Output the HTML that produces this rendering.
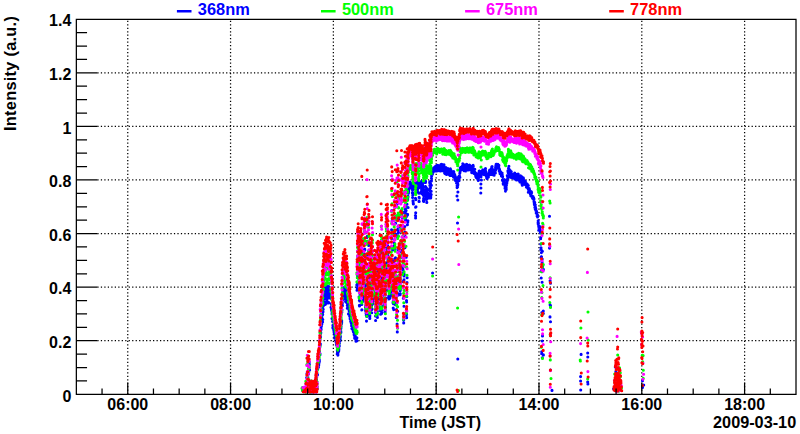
<!DOCTYPE html>
<html><head><meta charset="utf-8"><title>Intensity vs Time (JST) 2009-03-10</title>
<style>html,body{margin:0;padding:0;background:#fff;width:800px;height:434px;overflow:hidden}</style>
</head><body>
<svg width="800" height="434" viewBox="0 0 800 434" style="display:block;position:absolute;left:0;top:0">
<rect width="800" height="434" fill="#fff"/>
<path d="M127.75 394.30V19.25M230.56 394.30V19.25M333.37 394.30V19.25M436.17 394.30V19.25M538.98 394.30V19.25M641.79 394.30V19.25M744.60 394.30V19.25M97.35 340.72H796.00M97.35 287.14H796.00M97.35 233.56H796.00M97.35 179.99H796.00M97.35 126.41H796.00M97.35 72.83H796.00" stroke="#000" stroke-width="1.25" stroke-dasharray="1.25 2.23" fill="none"/>
<path d="M302.4 387.9h0M302.8 390.6h0M303.4 391.1h0M303.6 387.6h0M304.1 391.1h0M303.8 391.8h0M304.6 389.0h0M306.1 383.5h0M306.0 386.8h0M306.5 386.1h0M306.4 383.3h0M306.7 388.5h0M306.9 390.0h0M307.0 382.7h0M306.7 377.6h0M307.3 387.9h0M307.0 373.5h0M307.3 389.4h0M307.3 385.6h0M307.4 385.1h0M308.0 384.4h0M307.9 377.2h0M308.3 390.2h0M308.4 381.5h0M308.2 391.0h0M308.5 373.9h0M308.3 374.2h0M308.5 391.1h0M309.1 389.2h0M309.2 362.0h0M308.9 387.4h0M309.4 364.3h0M309.6 369.9h0M309.8 381.2h0M309.8 385.9h0M310.0 390.4h0M309.9 389.4h0M310.1 383.7h0M310.2 387.2h0M310.3 386.7h0M310.5 381.3h0M310.7 390.9h0M311.1 390.4h0M311.2 390.4h0M311.0 381.4h0M311.3 388.7h0M311.6 381.7h0M311.6 392.0h0M311.6 381.9h0M312.0 384.0h0M312.3 382.3h0M312.2 391.9h0M312.6 386.9h0M312.5 391.1h0M312.5 384.9h0M313.0 389.1h0M312.8 385.8h0M313.1 384.0h0M313.5 391.3h0M313.2 388.3h0M313.8 389.4h0M313.5 382.8h0M313.6 382.6h0M314.1 391.0h0M314.3 384.1h0M314.1 383.8h0M314.6 389.0h0M314.8 390.7h0M314.7 389.2h0M314.9 391.4h0M314.9 381.8h0M315.3 386.2h0M315.1 389.0h0M315.2 391.5h0M315.5 389.4h0M315.5 389.6h0M315.6 391.7h0M316.2 385.4h0M316.2 391.6h0M316.1 381.0h0M316.5 390.3h0M316.7 385.1h0M316.9 381.7h0M316.6 388.0h0M317.2 388.2h0M317.0 383.8h0M315.3 386.7h0M315.5 384.0h0M315.6 383.6h0M315.4 384.7h0M315.4 385.2h0M315.4 385.6h0M316.0 379.9h0M315.9 383.1h0M315.9 381.1h0M316.3 379.3h0M316.6 374.3h0M316.4 379.7h0M316.7 377.0h0M316.7 376.4h0M316.7 373.1h0M317.8 367.1h0M317.0 373.7h0M318.7 364.0h0M316.9 373.3h0M318.1 367.2h0M317.9 368.2h0M316.0 380.3h0M316.4 379.3h0M316.6 377.1h0M317.7 368.9h0M319.2 359.7h0M319.0 363.3h0M317.5 374.8h0M318.3 366.5h0M318.9 362.2h0M318.3 365.7h0M319.8 346.7h0M318.7 365.3h0M319.4 360.9h0M318.5 367.0h0M320.2 344.3h0M319.3 359.7h0M318.4 365.3h0M319.3 359.8h0M320.3 344.7h0M320.5 337.0h0M318.8 364.0h0M318.6 363.8h0M321.8 324.2h0M320.0 353.7h0M320.3 343.8h0M319.3 361.8h0M319.6 352.0h0M320.0 354.8h0M321.1 327.8h0M321.5 321.3h0M320.6 333.7h0M321.5 325.7h0M322.5 313.7h0M321.9 316.9h0M322.5 308.6h0M322.7 305.4h0M320.8 332.4h0M320.7 333.4h0M320.2 332.3h0M321.1 329.6h0M323.0 311.7h0M323.2 309.2h0M323.9 298.0h0M322.7 314.6h0M322.5 310.9h0M321.4 320.4h0M324.0 296.2h0M322.7 309.1h0M323.3 305.9h0M323.6 301.8h0M323.1 301.8h0M322.6 321.9h0M324.5 291.1h0M322.8 319.5h0M322.3 319.0h0M322.8 308.8h0M324.0 301.6h0M324.3 293.1h0M323.8 303.2h0M324.9 303.4h0M324.8 292.3h0M324.2 298.4h0M325.4 294.8h0M324.7 302.5h0M325.6 287.9h0M325.2 304.5h0M325.1 297.1h0M325.1 298.4h0M325.8 293.1h0M325.4 293.6h0M325.9 293.9h0M326.1 303.4h0M326.2 290.3h0M326.7 301.4h0M326.4 295.2h0M326.8 301.1h0M327.1 285.9h0M326.1 294.3h0M326.7 289.1h0M326.9 286.8h0M326.9 301.7h0M326.7 298.6h0M326.9 300.2h0M326.7 285.9h0M327.8 290.9h0M327.2 289.5h0M327.4 293.6h0M327.2 295.0h0M327.5 302.0h0M327.6 286.3h0M328.2 287.9h0M327.8 297.0h0M328.8 286.5h0M328.8 288.5h0M328.4 288.9h0M328.5 293.2h0M328.4 289.2h0M328.4 295.8h0M328.8 302.6h0M329.2 298.0h0M329.7 293.7h0M328.6 303.0h0M329.4 290.7h0M330.2 289.7h0M330.0 292.8h0M329.6 293.8h0M329.5 293.4h0M330.6 288.6h0M329.4 289.5h0M330.2 295.1h0M329.7 295.6h0M330.0 292.0h0M331.0 307.3h0M330.1 288.2h0M330.5 289.2h0M331.1 291.0h0M331.1 307.2h0M331.1 295.6h0M331.7 306.2h0M331.4 308.9h0M331.4 303.9h0M331.3 298.5h0M331.6 304.9h0M332.1 312.9h0M332.0 314.0h0M332.0 318.5h0M331.6 310.5h0M332.0 309.2h0M332.1 313.6h0M332.5 318.5h0M333.2 326.7h0M333.1 325.4h0M333.0 325.4h0M332.9 327.4h0M332.6 321.4h0M333.3 327.2h0M332.9 327.9h0M332.9 325.2h0M333.7 329.6h0M334.0 329.9h0M333.4 325.7h0M334.2 332.7h0M333.4 327.8h0M334.1 332.4h0M334.7 333.8h0M333.8 330.1h0M334.3 333.3h0M334.0 330.0h0M334.0 330.5h0M334.8 338.2h0M334.3 332.8h0M334.9 336.7h0M335.1 337.0h0M334.7 334.5h0M335.5 337.9h0M335.4 338.5h0M336.2 341.2h0M336.0 337.5h0M336.0 338.9h0M336.3 341.6h0M335.6 339.1h0M335.8 338.6h0M336.4 344.3h0M336.6 344.9h0M336.1 342.0h0M336.4 340.9h0M337.3 350.0h0M337.5 351.5h0M337.4 350.8h0M336.5 342.9h0M337.5 352.3h0M337.4 354.0h0M337.2 354.0h0M337.5 354.1h0M337.9 354.8h0M337.9 355.1h0M337.8 353.5h0M337.9 353.0h0M337.6 354.6h0M338.5 350.3h0M338.9 349.0h0M338.6 349.0h0M338.8 350.8h0M338.6 350.6h0M338.4 351.9h0M338.9 346.9h0M338.3 351.9h0M338.6 350.8h0M339.6 341.2h0M339.3 345.9h0M340.0 339.5h0M339.8 340.2h0M340.2 339.2h0M340.2 337.5h0M339.9 341.1h0M339.4 343.2h0M340.4 336.2h0M340.6 333.0h0M340.6 330.8h0M340.3 337.4h0M340.3 332.6h0M340.9 325.9h0M340.8 331.7h0M341.0 325.2h0M340.8 331.1h0M340.9 332.5h0M340.9 327.2h0M341.0 326.7h0M340.9 328.6h0M341.4 323.9h0M341.8 312.3h0M342.3 303.0h0M341.7 322.8h0M341.7 320.7h0M341.7 321.0h0M342.2 304.1h0M342.0 309.8h0M342.4 305.8h0M342.9 300.0h0M342.2 300.0h0M343.1 296.7h0M342.7 298.4h0M342.5 296.7h0M343.2 297.6h0M343.4 298.9h0M342.8 292.1h0M343.7 293.3h0M343.4 288.1h0M343.7 290.6h0M343.9 287.6h0M344.2 293.1h0M343.6 288.4h0M343.5 292.5h0M343.8 294.6h0M344.2 297.3h0M344.0 295.4h0M345.2 288.9h0M345.0 289.1h0M344.7 292.3h0M344.7 288.8h0M345.0 293.1h0M344.8 288.4h0M345.6 301.5h0M345.9 295.3h0M345.6 296.2h0M345.8 298.9h0M346.1 295.1h0M345.4 294.6h0M346.1 292.4h0M346.8 296.3h0M346.3 290.9h0M346.8 302.8h0M346.4 292.8h0M347.1 298.2h0M346.9 293.3h0M346.4 300.4h0M347.3 305.5h0M346.8 302.6h0M347.4 297.6h0M347.2 297.9h0M347.4 299.4h0M347.3 308.2h0M348.0 304.2h0M347.7 298.4h0M348.5 306.5h0M347.8 306.8h0M347.9 308.1h0M347.5 304.4h0M348.5 313.9h0M348.8 308.3h0M349.2 310.5h0M348.6 302.4h0M349.1 308.5h0M349.0 308.1h0M349.3 310.8h0M349.2 306.7h0M349.5 312.8h0M349.1 305.6h0M349.1 309.9h0M349.2 310.9h0M349.6 312.6h0M349.6 314.8h0M350.1 318.8h0M349.7 316.2h0M350.3 314.7h0M350.1 315.9h0M350.5 318.7h0M350.7 321.4h0M350.5 317.2h0M350.7 320.0h0M350.8 319.7h0M351.4 323.2h0M351.2 320.7h0M351.2 322.3h0M351.6 325.8h0M351.9 323.9h0M351.3 323.4h0M351.6 322.5h0M351.6 321.5h0M351.9 328.6h0M352.2 327.0h0M352.6 326.9h0M351.9 326.0h0M352.2 327.7h0M352.2 327.8h0M352.5 325.4h0M352.1 328.8h0M352.9 328.0h0M353.1 330.5h0M352.9 327.8h0M352.7 327.1h0M352.9 329.5h0M353.6 331.0h0M353.2 329.0h0M353.6 331.9h0M354.2 334.9h0M353.4 331.8h0M354.0 333.7h0M353.9 332.8h0M354.0 332.8h0M354.7 336.9h0M354.6 334.2h0M354.8 334.8h0M354.7 338.2h0M354.2 334.4h0M354.4 332.8h0M355.0 336.4h0M354.8 335.0h0M355.2 335.8h0M355.0 335.9h0M355.1 338.1h0M356.0 338.7h0M355.4 337.0h0M355.9 338.9h0M355.9 337.4h0M356.0 341.3h0M355.7 339.3h0M356.3 339.0h0M356.5 338.6h0M356.9 337.7h0M356.1 340.3h0M356.5 340.0h0M356.7 341.0h0M357.0 340.7h0M356.8 285.1h0M357.0 290.2h0M357.4 283.2h0M357.2 287.9h0M357.4 285.4h0M357.2 285.2h0M357.6 269.2h0M357.6 273.9h0M357.6 276.8h0M357.7 262.5h0M357.8 264.3h0M358.0 264.4h0M358.2 263.6h0M357.9 257.6h0M358.0 269.4h0M358.1 263.2h0M358.2 260.5h0M358.2 263.1h0M358.6 270.4h0M358.4 268.0h0M358.5 275.9h0M358.8 275.0h0M358.9 265.3h0M358.9 269.2h0M359.1 264.1h0M359.2 274.9h0M359.0 281.5h0M359.0 279.9h0M359.4 289.3h0M359.1 296.7h0M359.5 305.9h0M359.4 305.4h0M359.7 301.0h0M359.4 300.4h0M359.7 290.5h0M359.9 292.9h0M359.8 289.5h0M360.0 293.6h0M360.1 291.7h0M359.9 284.6h0M360.1 279.2h0M360.5 270.2h0M360.5 278.1h0M360.5 271.3h0M360.7 272.7h0M360.7 261.5h0M360.9 260.9h0M360.8 271.2h0M360.6 269.2h0M360.8 262.6h0M360.8 269.5h0M361.2 262.5h0M361.2 275.5h0M361.5 283.2h0M361.3 282.0h0M361.3 295.5h0M361.5 284.3h0M361.7 295.8h0M361.5 295.5h0M361.9 309.8h0M361.8 310.0h0M361.8 304.5h0M362.1 273.8h0M362.0 253.2h0M362.0 255.0h0M362.3 266.6h0M362.1 269.1h0M362.4 280.9h0M362.6 292.5h0M362.4 296.4h0M362.7 295.9h0M362.8 291.6h0M362.8 297.2h0M362.8 291.7h0M363.1 301.2h0M363.0 299.5h0M363.2 290.1h0M363.2 298.4h0M363.1 291.7h0M363.1 300.5h0M363.3 290.7h0M363.4 289.9h0M363.6 292.3h0M363.7 298.3h0M363.6 297.1h0M363.8 287.1h0M363.9 285.4h0M363.7 279.6h0M363.9 275.0h0M364.0 257.1h0M364.2 249.8h0M364.2 259.7h0M364.4 261.9h0M364.4 254.1h0M364.7 249.1h0M364.7 250.0h0M364.8 250.0h0M364.6 254.6h0M364.7 255.1h0M365.1 255.3h0M365.0 258.9h0M365.1 267.0h0M365.4 283.6h0M365.2 283.4h0M365.5 283.7h0M365.6 285.1h0M365.5 292.8h0M365.6 306.1h0M365.9 309.5h0M365.5 307.5h0M365.6 310.2h0M365.7 311.0h0M366.1 306.8h0M366.1 312.6h0M365.9 306.2h0M366.3 315.4h0M366.1 313.6h0M366.4 311.2h0M366.4 311.5h0M366.8 316.4h0M366.5 321.1h0M366.5 312.8h0M366.5 298.4h0M366.8 286.5h0M367.0 278.5h0M367.0 256.2h0M366.9 237.5h0M367.2 241.2h0M367.3 236.4h0M367.1 254.7h0M367.3 283.5h0M367.7 302.4h0M367.8 310.9h0M367.5 314.2h0M367.6 306.6h0M367.9 295.7h0M368.0 295.7h0M368.0 290.4h0M368.2 296.2h0M368.2 304.0h0M368.1 300.6h0M368.1 304.1h0M368.1 302.3h0M368.5 295.3h0M368.3 283.4h0M368.7 278.6h0M368.8 257.1h0M368.7 245.4h0M369.0 252.3h0M368.7 251.2h0M368.8 263.7h0M369.1 271.1h0M369.2 279.8h0M369.2 294.5h0M369.1 300.8h0M369.2 304.3h0M369.6 302.6h0M369.7 308.8h0M369.9 306.5h0M369.8 306.7h0M369.8 318.4h0M369.8 315.6h0M369.8 316.8h0M370.0 303.6h0M370.0 291.0h0M370.0 282.6h0M370.3 265.9h0M370.3 276.9h0M370.7 277.5h0M370.7 283.7h0M370.5 284.2h0M370.9 290.9h0M370.8 286.8h0M371.1 282.9h0M370.8 265.1h0M371.0 270.3h0M371.2 267.6h0M371.0 274.9h0M371.4 274.0h0M371.2 275.2h0M371.2 269.4h0M371.5 278.2h0M371.7 295.8h0M371.5 305.6h0M371.7 309.6h0M371.7 312.8h0M372.1 309.1h0M371.9 305.1h0M372.2 295.0h0M372.1 284.8h0M372.2 269.3h0M372.2 254.7h0M372.3 251.2h0M372.4 257.9h0M372.6 272.2h0M372.8 298.4h0M372.9 303.5h0M373.0 298.4h0M372.9 294.8h0M372.9 301.3h0M372.9 289.1h0M373.0 285.0h0M373.3 286.2h0M373.3 290.0h0M373.1 293.2h0M373.3 282.7h0M373.3 289.4h0M373.7 296.6h0M373.8 294.4h0M373.6 295.4h0M373.8 289.3h0M374.1 300.4h0M374.2 295.4h0M373.9 299.1h0M374.1 295.5h0M374.3 299.5h0M374.1 299.3h0M374.5 294.8h0M374.5 280.5h0M374.6 287.5h0M374.4 286.6h0M374.5 279.5h0M374.9 275.9h0M374.8 279.1h0M374.7 281.3h0M375.1 284.8h0M375.2 293.4h0M375.0 287.5h0M375.3 291.5h0M375.1 293.1h0M375.2 295.1h0M375.3 300.3h0M375.4 312.2h0M375.6 312.2h0M375.5 316.0h0M375.6 320.5h0M375.9 309.3h0M375.9 312.3h0M375.8 312.8h0M376.3 310.9h0M376.3 301.9h0M376.2 302.2h0M376.2 308.4h0M376.4 292.5h0M376.5 290.0h0M376.7 277.3h0M376.5 276.6h0M376.6 270.7h0M376.8 286.5h0M376.9 296.8h0M377.0 300.9h0M377.1 313.2h0M377.1 315.4h0M377.1 316.9h0M377.4 317.4h0M377.4 311.2h0M377.6 304.3h0M377.5 282.5h0M377.8 270.1h0M377.6 270.6h0M377.9 272.3h0M378.1 268.0h0M377.9 274.4h0M378.2 271.3h0M377.9 275.6h0M378.4 269.8h0M378.4 277.0h0M378.4 289.7h0M378.3 295.4h0M378.3 293.4h0M378.5 302.2h0M378.7 295.1h0M378.8 292.3h0M378.9 298.6h0M379.2 296.3h0M378.8 292.1h0M379.0 288.6h0M379.3 297.6h0M379.4 296.1h0M379.6 293.0h0M379.4 284.1h0M379.4 280.7h0M379.5 281.4h0M379.7 281.8h0M379.7 283.4h0M379.9 279.0h0M380.0 264.3h0M380.0 275.6h0M380.2 269.5h0M380.1 282.8h0M380.4 288.6h0M380.2 302.2h0M380.5 307.5h0M380.5 311.0h0M380.6 314.2h0M380.7 309.1h0M380.7 301.4h0M380.6 300.2h0M380.9 304.4h0M381.0 305.9h0M381.2 299.6h0M381.2 282.7h0M381.1 271.1h0M381.1 263.3h0M381.5 241.2h0M381.6 252.0h0M381.4 252.5h0M381.6 275.0h0M381.8 289.2h0M381.7 301.7h0M381.9 309.9h0M381.6 313.4h0M381.8 312.5h0M382.0 305.8h0M382.2 301.8h0M382.0 303.9h0M382.1 297.8h0M382.1 303.4h0M382.7 289.6h0M382.3 277.2h0M382.4 269.2h0M382.8 270.2h0M382.6 277.7h0M383.0 281.4h0M383.0 299.0h0M383.0 291.1h0M382.9 295.6h0M383.1 278.0h0M383.2 281.4h0M383.4 278.7h0M383.3 265.3h0M383.7 280.0h0M383.5 270.5h0M383.4 269.1h0M383.7 272.9h0M383.8 280.0h0M383.9 280.0h0M384.1 286.5h0M384.2 284.3h0M384.2 290.3h0M384.0 289.4h0M384.0 283.4h0M384.6 263.5h0M384.2 266.4h0M384.6 269.5h0M384.4 285.5h0M384.6 292.9h0M384.8 302.6h0M385.0 305.6h0M384.8 304.2h0M385.0 311.9h0M385.1 311.8h0M385.1 312.0h0M385.4 318.5h0M385.1 310.3h0M385.5 307.2h0M385.7 300.5h0M385.5 289.4h0M385.7 298.1h0M385.7 289.6h0M385.9 276.4h0M385.9 268.1h0M386.1 250.1h0M386.2 242.9h0M386.4 251.6h0M386.3 242.7h0M386.2 246.3h0M386.5 247.5h0M386.4 250.1h0M386.6 243.4h0M386.8 263.0h0M386.6 289.8h0M387.1 290.1h0M387.0 276.3h0M387.0 265.1h0M387.0 252.1h0M387.1 243.7h0M387.6 247.4h0M387.6 245.6h0M387.5 242.8h0M387.8 255.6h0M387.8 255.6h0M388.0 253.2h0M388.0 260.3h0M387.9 261.6h0M387.9 267.5h0M388.1 263.7h0M388.3 271.4h0M388.6 284.4h0M388.6 283.7h0M388.6 297.3h0M388.5 290.6h0M388.8 296.1h0M389.0 289.5h0M388.6 297.9h0M388.9 299.0h0M389.2 278.6h0M389.0 273.8h0M389.2 260.8h0M389.5 271.7h0M389.2 278.4h0M389.4 294.7h0M389.4 297.6h0M389.7 290.3h0M389.9 298.2h0M389.9 297.1h0M390.0 292.5h0M389.9 294.6h0M390.1 296.8h0M390.1 286.7h0M390.4 287.2h0M390.3 288.7h0M390.6 291.7h0M390.8 295.6h0M390.9 282.9h0M390.7 280.5h0M390.8 282.1h0M390.7 286.9h0M391.3 286.1h0M391.0 284.1h0M391.0 280.7h0M391.6 262.1h0M391.7 265.9h0M391.4 259.0h0M391.7 238.4h0M391.6 229.7h0M391.8 210.5h0M391.9 247.8h0M392.0 277.0h0M392.3 286.5h0M392.0 260.4h0M392.2 220.9h0M392.2 218.5h0M392.6 250.0h0M392.4 280.4h0M392.5 286.9h0M392.4 291.5h0M393.0 293.2h0M392.7 291.2h0M393.0 294.1h0M392.8 292.8h0M393.2 301.4h0M393.0 302.8h0M393.2 308.1h0M393.6 303.0h0M393.7 309.6h0M393.4 303.7h0M393.8 297.0h0M393.6 300.7h0M394.0 298.4h0M393.9 282.8h0M393.9 261.8h0M394.2 243.0h0M394.4 245.7h0M394.2 231.4h0M394.3 235.5h0M394.5 230.7h0M394.5 239.8h0M394.5 249.1h0M394.7 258.7h0M394.6 285.2h0M394.7 297.6h0M395.1 294.2h0M395.0 280.6h0M395.0 260.0h0M395.5 257.7h0M395.6 223.3h0M395.3 217.7h0M395.5 234.0h0M395.8 289.6h0M395.5 304.8h0M396.0 301.5h0M395.8 299.8h0M396.0 300.4h0M395.9 295.5h0M396.3 296.8h0M396.1 303.7h0M396.3 300.6h0M396.5 309.5h0M396.3 317.5h0M396.7 305.3h0M396.7 283.7h0M396.9 236.4h0M397.1 216.0h0M397.1 204.2h0M397.2 229.9h0M397.3 284.5h0M397.1 324.1h0M397.3 331.9h0M397.7 311.2h0M397.8 295.2h0M397.8 293.6h0M397.6 280.4h0M398.0 270.2h0M397.9 249.4h0M397.8 230.2h0M398.1 233.2h0M398.2 214.4h0M398.2 219.1h0M398.5 215.7h0M398.5 225.9h0M398.5 227.2h0M398.7 219.5h0M398.6 232.2h0M399.0 250.4h0M398.6 268.9h0M399.0 265.8h0M399.2 268.1h0M399.0 267.9h0M399.2 271.4h0M399.2 275.2h0M399.3 277.9h0M399.3 267.2h0M399.4 283.1h0M399.8 283.0h0M399.7 289.0h0M399.6 282.1h0M400.1 290.8h0M399.9 284.7h0M400.0 283.2h0M400.1 294.7h0M400.4 289.8h0M400.3 293.8h0M400.7 286.4h0M400.5 266.2h0M400.8 251.5h0M400.9 246.4h0M400.9 230.2h0M400.8 231.9h0M401.2 229.1h0M401.3 215.2h0M401.0 216.6h0M401.3 200.1h0M401.4 210.5h0M401.6 227.3h0M401.4 227.0h0M401.9 227.8h0M401.5 243.5h0M401.9 257.8h0M401.8 266.2h0M402.0 251.7h0M402.0 246.4h0M402.4 225.8h0M402.4 212.3h0M402.6 212.1h0M402.4 213.2h0M402.3 218.3h0M402.5 249.8h0M402.7 273.3h0M402.8 281.6h0M402.9 266.1h0M402.9 267.7h0M402.9 273.8h0M403.0 269.9h0M403.2 257.8h0M403.2 273.7h0M403.3 298.2h0M403.7 322.9h0M403.6 320.1h0M403.8 319.8h0M404.0 306.2h0M404.1 296.7h0M404.0 279.9h0M404.2 274.4h0M404.0 276.0h0M404.2 264.9h0M404.5 255.5h0M404.7 233.2h0M404.4 217.4h0M404.9 216.8h0M404.6 200.3h0M405.0 212.2h0M404.8 226.5h0M404.9 247.7h0M405.1 236.3h0M405.0 232.0h0M405.1 209.4h0M405.2 212.1h0M405.4 209.1h0M405.7 203.8h0M405.6 219.3h0M405.7 213.5h0M405.6 220.2h0M405.9 214.9h0M406.1 207.1h0M406.1 210.6h0M406.4 216.6h0M406.2 257.3h0M406.5 300.5h0M406.6 317.7h0M406.4 315.7h0M406.6 314.1h0M406.6 302.0h0M406.8 296.6h0M407.0 282.6h0M407.1 277.7h0M407.2 186.2h0M407.3 192.2h0M407.0 204.2h0M407.5 214.9h0M407.7 222.3h0M407.4 224.8h0M407.9 220.7h0M407.6 214.4h0M408.1 207.5h0M407.7 199.7h0M407.9 197.6h0M408.0 196.2h0M408.4 193.3h0M408.2 191.6h0M408.6 191.7h0M408.6 190.8h0M408.4 190.1h0M408.7 190.0h0M408.8 188.9h0M408.8 187.9h0M408.9 188.0h0M408.9 186.7h0M409.1 187.7h0M409.1 188.0h0M409.0 186.3h0M409.5 185.7h0M409.3 184.9h0M409.3 183.8h0M409.8 184.2h0M409.7 182.5h0M410.1 182.5h0M410.1 182.0h0M409.8 184.1h0M410.3 185.0h0M410.4 183.7h0M410.5 184.0h0M410.6 183.5h0M410.7 185.7h0M410.7 183.1h0M410.6 184.5h0M410.5 184.9h0M410.7 186.8h0M410.7 185.2h0M411.2 186.7h0M411.4 184.8h0M411.2 187.2h0M411.4 187.9h0M411.7 185.6h0M411.6 186.7h0M411.8 187.8h0M411.9 186.3h0M412.0 183.8h0M411.8 183.9h0M412.1 184.0h0M412.3 185.5h0M412.4 186.0h0M412.5 189.0h0M412.5 190.0h0M412.3 192.8h0M412.7 194.9h0M412.7 192.7h0M412.8 193.9h0M412.6 197.5h0M413.0 200.8h0M413.2 203.0h0M413.4 203.9h0M413.1 201.4h0M413.1 194.7h0M413.2 188.7h0M413.6 186.3h0M413.6 185.6h0M413.8 186.0h0M413.6 189.0h0M413.6 189.1h0M414.1 186.5h0M414.2 187.6h0M414.4 187.1h0M414.4 186.7h0M414.7 184.8h0M414.7 186.1h0M414.7 183.9h0M414.5 184.0h0M414.5 183.9h0M414.8 184.2h0M415.1 183.1h0M414.9 182.8h0M415.1 188.6h0M415.5 198.4h0M415.6 207.2h0M415.4 215.5h0M415.6 218.0h0M415.6 215.9h0M415.7 212.7h0M416.0 206.7h0M415.9 199.6h0M416.1 191.5h0M416.4 186.2h0M416.2 183.6h0M416.6 183.4h0M416.4 182.5h0M416.2 185.3h0M416.7 189.6h0M416.8 188.7h0M416.7 191.6h0M417.0 190.5h0M417.1 192.0h0M417.2 190.2h0M416.9 191.7h0M417.5 189.6h0M417.4 190.3h0M417.6 189.0h0M417.4 188.1h0M417.4 188.6h0M417.6 185.2h0M417.7 183.0h0M417.8 184.8h0M418.2 184.7h0M418.2 184.0h0M418.0 183.4h0M418.2 181.5h0M418.5 181.9h0M418.7 183.6h0M418.8 186.3h0M418.7 192.8h0M419.1 197.4h0M419.0 201.4h0M419.2 201.5h0M419.3 197.9h0M418.9 193.3h0M419.0 187.8h0M419.2 183.8h0M419.5 183.6h0M419.5 182.3h0M419.8 182.6h0M419.7 184.6h0M420.1 183.1h0M419.7 185.7h0M420.2 185.2h0M420.2 184.2h0M419.9 185.6h0M420.1 187.0h0M420.2 185.3h0M420.4 187.3h0M420.6 185.0h0M420.6 185.7h0M420.9 185.7h0M420.9 185.3h0M420.8 184.1h0M420.8 183.1h0M421.2 181.6h0M421.2 183.1h0M421.6 185.1h0M421.4 191.5h0M421.4 191.8h0M421.8 193.7h0M421.7 192.2h0M421.6 189.7h0M421.8 188.3h0M422.3 184.3h0M421.8 184.5h0M422.1 182.9h0M422.3 182.7h0M422.5 184.4h0M422.6 185.6h0M422.6 188.8h0M422.9 189.1h0M422.6 187.6h0M422.7 190.7h0M423.0 188.8h0M423.2 188.8h0M422.9 188.2h0M423.3 189.5h0M423.3 195.3h0M423.6 198.9h0M423.8 199.9h0M423.4 200.9h0M423.7 201.5h0M423.7 198.2h0M423.8 199.6h0M424.2 198.6h0M423.8 195.6h0M424.5 194.3h0M424.4 193.9h0M424.4 193.3h0M424.3 194.7h0M424.8 193.3h0M424.9 193.6h0M424.6 193.5h0M424.8 193.4h0M424.8 190.7h0M424.8 189.7h0M425.2 186.6h0M425.0 182.4h0M425.6 181.2h0M425.5 182.4h0M425.8 186.9h0M425.9 189.4h0M425.6 193.9h0M425.6 194.9h0M426.1 197.6h0M426.0 198.4h0M425.8 197.6h0M426.2 194.6h0M426.4 194.7h0M426.7 192.6h0M426.3 196.9h0M426.4 199.4h0M426.8 202.5h0M426.8 202.2h0M426.8 199.3h0M426.8 197.0h0M426.9 192.9h0M427.3 192.0h0M427.0 190.1h0M427.2 188.5h0M427.7 189.4h0M427.4 189.5h0M427.9 192.8h0M427.7 193.1h0M428.1 192.8h0M427.7 194.0h0M428.1 194.1h0M428.0 194.0h0M428.2 193.6h0M428.2 193.7h0M428.5 195.9h0M428.5 195.9h0M428.3 196.8h0M428.9 195.3h0M429.0 195.2h0M428.9 194.6h0M428.7 195.9h0M428.9 198.0h0M429.0 197.4h0M429.3 197.2h0M429.0 195.6h0M429.3 194.8h0M429.8 189.4h0M429.9 185.4h0M429.7 182.7h0M429.7 182.0h0M430.1 182.9h0M430.2 181.6h0M430.1 182.9h0M430.4 181.8h0M430.5 183.5h0M430.4 186.0h0M430.5 187.7h0M430.3 190.8h0M430.4 193.9h0M430.7 194.7h0M430.7 198.0h0M430.8 196.9h0M431.2 194.6h0M431.2 191.2h0M431.4 185.3h0M431.2 181.1h0M431.4 180.9h0M431.5 178.3h0M431.6 175.9h0M431.8 175.0h0M432.0 174.4h0M432.0 172.1h0M432.5 173.3h0M432.4 174.2h0M432.7 171.0h0M432.6 172.4h0M432.7 170.5h0M433.1 172.2h0M433.1 170.1h0M433.0 171.2h0M433.3 168.6h0M433.3 168.7h0M433.9 170.1h0M434.1 170.7h0M433.7 167.8h0M434.2 170.0h0M434.5 167.5h0M434.1 169.3h0M434.5 169.5h0M434.6 169.3h0M434.5 169.0h0M435.2 166.9h0M435.2 169.5h0M435.0 167.4h0M435.2 167.2h0M435.6 166.4h0M435.9 169.7h0M436.1 169.2h0M435.8 171.0h0M435.9 169.1h0M436.1 170.7h0M436.3 168.3h0M436.5 170.4h0M436.8 168.6h0M436.8 170.9h0M437.0 167.9h0M437.2 170.0h0M437.1 166.4h0M437.2 165.3h0M437.7 166.8h0M437.6 167.4h0M437.8 166.1h0M437.9 165.5h0M437.9 167.1h0M438.0 167.8h0M438.4 167.8h0M438.3 170.6h0M438.5 168.2h0M438.9 166.3h0M438.7 165.7h0M439.1 167.0h0M439.4 167.6h0M439.3 166.9h0M439.3 167.4h0M439.4 168.2h0M439.8 168.2h0M439.7 169.2h0M440.3 170.9h0M440.5 170.9h0M440.7 167.7h0M440.3 168.0h0M440.8 166.6h0M441.0 166.9h0M440.9 165.8h0M440.9 166.9h0M440.9 164.5h0M441.6 166.5h0M441.7 164.3h0M441.6 167.2h0M441.8 166.1h0M442.1 167.7h0M442.1 168.2h0M442.1 166.9h0M442.4 169.0h0M442.5 169.4h0M442.6 170.6h0M442.7 169.9h0M442.7 170.7h0M442.8 169.5h0M443.0 169.8h0M443.6 169.4h0M443.4 168.3h0M443.9 166.5h0M444.0 164.9h0M443.9 164.8h0M443.8 167.1h0M444.1 169.4h0M444.6 167.2h0M444.4 170.7h0M444.6 170.5h0M444.6 173.0h0M445.1 170.1h0M445.0 173.6h0M445.2 169.8h0M445.6 170.2h0M445.3 170.8h0M445.7 167.9h0M445.9 167.5h0M445.8 171.0h0M445.9 168.4h0M446.3 170.1h0M446.2 173.6h0M446.4 171.4h0M446.7 171.0h0M446.6 174.5h0M447.1 171.5h0M447.2 171.9h0M447.3 171.0h0M447.2 171.7h0M447.4 170.0h0M447.6 169.0h0M447.9 168.6h0M448.0 172.3h0M447.8 170.3h0M448.1 169.7h0M448.5 169.4h0M448.7 172.2h0M448.9 171.5h0M448.9 172.8h0M448.8 173.5h0M449.0 172.5h0M449.0 172.6h0M449.4 174.7h0M449.6 175.0h0M449.7 172.5h0M449.8 175.4h0M450.1 172.7h0M450.3 171.1h0M450.1 169.9h0M450.4 168.9h0M450.2 170.0h0M450.9 172.4h0M450.8 170.1h0M450.9 170.7h0M451.1 172.6h0M451.0 172.5h0M451.2 173.9h0M451.3 175.4h0M451.6 175.3h0M452.0 174.5h0M452.0 171.5h0M452.1 173.3h0M452.1 174.4h0M452.2 174.2h0M452.5 174.9h0M452.8 174.7h0M452.8 175.7h0M453.2 174.4h0M453.4 176.9h0M453.1 174.9h0M453.6 172.3h0M453.8 172.0h0M453.9 174.3h0M453.7 171.5h0M454.1 173.7h0M454.1 174.0h0M454.0 174.0h0M454.2 175.1h0M454.7 174.5h0M454.9 178.6h0M455.1 178.1h0M455.1 176.1h0M455.2 178.0h0M455.4 179.1h0M455.2 180.2h0M455.5 177.0h0M455.8 179.9h0M455.9 178.5h0M456.1 181.3h0M456.0 179.4h0M456.0 180.9h0M456.5 180.0h0M456.8 179.6h0M456.8 183.1h0M456.5 182.9h0M456.8 182.1h0M457.4 182.8h0M457.1 185.8h0M457.1 187.6h0M457.6 186.8h0M457.8 184.1h0M457.7 184.8h0M457.9 184.8h0M458.3 180.1h0M458.3 180.2h0M458.3 178.5h0M458.8 178.2h0M458.5 176.9h0M458.7 180.4h0M458.7 180.0h0M459.3 177.8h0M459.0 180.7h0M459.6 177.0h0M459.4 175.8h0M459.9 177.2h0M460.0 172.0h0M459.8 173.3h0M460.1 170.8h0M460.2 170.5h0M460.1 169.6h0M460.2 167.8h0M460.9 168.8h0M460.6 168.2h0M460.9 167.6h0M461.3 167.7h0M461.0 170.0h0M461.2 168.9h0M461.6 168.9h0M461.9 168.9h0M461.6 167.2h0M461.8 166.7h0M462.1 169.4h0M462.2 166.3h0M462.2 167.3h0M462.5 168.6h0M462.7 168.7h0M462.5 166.3h0M463.2 165.5h0M462.8 163.8h0M463.4 164.2h0M463.3 164.7h0M463.4 164.4h0M463.4 167.9h0M463.9 168.0h0M464.2 168.5h0M464.1 170.8h0M464.5 169.5h0M464.4 166.6h0M464.8 168.8h0M464.8 168.4h0M464.8 167.5h0M465.2 165.1h0M465.4 166.0h0M465.0 167.1h0M465.5 170.4h0M465.3 168.7h0M465.8 170.1h0M465.7 170.9h0M465.9 170.4h0M466.2 167.3h0M466.4 165.9h0M466.3 166.1h0M466.4 167.6h0M466.6 164.8h0M466.7 164.2h0M466.9 164.6h0M466.9 166.7h0M467.1 168.2h0M467.6 168.3h0M467.5 168.5h0M467.9 170.0h0M467.6 168.5h0M468.1 168.3h0M468.2 169.9h0M468.5 168.7h0M468.1 167.5h0M468.4 169.3h0M468.4 167.7h0M468.8 168.7h0M469.2 167.8h0M469.3 167.1h0M469.1 166.7h0M469.4 167.0h0M469.3 166.8h0M469.5 165.0h0M470.0 165.5h0M469.9 168.9h0M470.0 168.2h0M470.2 167.3h0M470.1 168.5h0M470.5 167.8h0M470.7 170.1h0M471.0 166.3h0M470.8 170.3h0M470.8 167.3h0M471.1 170.1h0M471.4 170.4h0M471.7 170.6h0M471.7 171.5h0M471.7 172.6h0M472.1 169.4h0M472.2 170.4h0M472.2 170.3h0M472.3 169.4h0M472.2 166.3h0M472.7 167.9h0M472.7 166.4h0M473.1 165.4h0M472.9 167.9h0M473.2 165.9h0M473.3 166.2h0M473.4 170.7h0M473.5 169.5h0M474.0 173.4h0M474.1 170.4h0M474.2 173.6h0M474.1 171.8h0M474.2 171.7h0M474.4 173.3h0M474.8 169.2h0M474.7 172.0h0M475.0 172.2h0M474.9 173.4h0M475.4 173.3h0M475.6 174.6h0M475.4 173.4h0M475.8 174.9h0M475.7 175.4h0M475.7 176.0h0M475.9 173.4h0M475.9 176.7h0M476.3 177.6h0M476.7 177.4h0M476.8 174.4h0M476.5 177.1h0M477.1 177.5h0M477.1 178.2h0M477.1 176.2h0M477.6 175.3h0M477.3 174.6h0M477.8 177.0h0M477.9 175.9h0M477.8 176.3h0M478.0 176.3h0M478.5 179.9h0M478.3 180.4h0M478.3 179.1h0M478.6 178.0h0M478.8 177.6h0M478.8 174.7h0M478.9 172.5h0M479.4 174.2h0M479.2 171.0h0M479.5 171.8h0M479.8 171.3h0M479.8 171.7h0M479.8 173.6h0M480.1 172.3h0M480.2 175.0h0M480.6 176.3h0M480.7 175.8h0M480.7 176.5h0M480.7 174.2h0M480.9 175.1h0M481.0 176.7h0M481.4 173.1h0M481.3 172.6h0M481.7 172.1h0M481.6 173.8h0M481.7 173.2h0M482.1 173.5h0M482.1 173.1h0M482.4 171.9h0M482.1 171.0h0M482.3 171.1h0M482.6 172.9h0M482.8 169.7h0M482.9 170.7h0M482.9 173.7h0M483.0 170.6h0M483.2 172.8h0M483.4 174.3h0M483.5 172.0h0M484.1 172.6h0M484.2 172.3h0M484.4 171.0h0M484.4 174.7h0M484.5 172.1h0M484.8 170.5h0M484.8 171.9h0M485.0 170.3h0M485.2 172.0h0M485.4 170.4h0M485.5 168.6h0M485.4 172.1h0M485.4 169.1h0M485.7 171.5h0M485.6 173.2h0M485.9 171.9h0M485.9 174.0h0M486.3 175.7h0M486.6 174.1h0M486.5 176.6h0M486.7 177.9h0M487.1 175.0h0M487.0 178.6h0M486.9 176.2h0M487.3 176.6h0M487.6 177.6h0M487.3 176.2h0M487.6 176.7h0M488.1 174.4h0M487.9 176.4h0M488.3 175.2h0M488.3 177.2h0M488.4 175.8h0M488.4 177.0h0M488.6 175.9h0M488.5 175.5h0M488.8 175.5h0M489.0 172.6h0M489.5 173.2h0M489.5 170.6h0M489.7 170.0h0M489.6 171.8h0M489.8 172.6h0M490.0 172.2h0M490.2 173.5h0M490.0 171.6h0M490.4 172.7h0M490.7 174.4h0M490.8 173.9h0M490.9 172.6h0M491.2 172.8h0M491.2 173.1h0M491.3 172.1h0M491.5 168.7h0M491.3 169.0h0M491.8 166.7h0M491.6 168.0h0M492.1 166.6h0M491.9 168.5h0M492.4 169.5h0M492.1 168.4h0M492.8 170.5h0M492.7 172.4h0M492.8 173.1h0M492.9 172.2h0M493.1 173.3h0M493.0 174.5h0M493.6 174.9h0M493.4 172.3h0M493.9 175.0h0M494.1 175.2h0M494.0 174.8h0M493.9 172.6h0M494.3 170.5h0M494.4 170.1h0M494.3 170.7h0M494.4 171.8h0M494.6 171.2h0M494.7 172.8h0M495.4 173.0h0M495.3 170.6h0M495.2 170.7h0M495.7 170.2h0M495.6 167.4h0M495.6 168.7h0M496.1 164.4h0M495.8 165.9h0M496.2 164.4h0M496.6 167.2h0M496.7 167.4h0M496.4 166.7h0M496.6 167.4h0M496.9 167.6h0M497.1 164.9h0M497.1 167.3h0M497.2 164.7h0M497.4 165.7h0M497.9 167.3h0M498.0 166.1h0M497.8 167.9h0M498.1 165.7h0M497.9 164.4h0M498.1 168.2h0M498.6 167.5h0M498.6 166.9h0M499.0 168.3h0M498.9 165.4h0M499.2 168.9h0M499.0 168.5h0M499.2 171.0h0M499.5 169.2h0M499.9 172.5h0M499.8 170.8h0M499.9 171.5h0M500.1 173.8h0M500.2 173.6h0M500.4 171.8h0M500.7 172.1h0M500.4 171.5h0M500.9 174.1h0M500.8 173.7h0M501.0 172.6h0M501.3 174.3h0M501.5 175.8h0M501.4 175.9h0M501.9 175.3h0M501.6 175.1h0M502.1 173.1h0M502.2 175.1h0M502.0 175.3h0M502.3 175.1h0M502.6 176.8h0M502.4 180.3h0M503.0 179.3h0M503.2 183.3h0M502.9 180.7h0M503.3 184.3h0M503.5 181.9h0M503.5 182.0h0M503.7 184.0h0M503.7 181.4h0M503.7 181.4h0M503.9 179.9h0M504.4 179.9h0M504.2 179.7h0M504.4 183.1h0M504.9 183.0h0M505.1 186.7h0M505.0 184.7h0M505.1 186.5h0M505.0 188.3h0M505.5 191.1h0M505.8 189.5h0M505.8 190.1h0M505.7 190.5h0M506.2 189.4h0M506.2 187.9h0M505.9 185.0h0M506.4 185.5h0M506.8 183.4h0M506.9 181.3h0M506.7 179.9h0M507.0 181.8h0M507.3 180.5h0M507.3 180.4h0M507.7 177.0h0M507.3 175.6h0M507.4 176.0h0M507.7 177.8h0M507.9 176.7h0M508.2 172.7h0M507.9 170.9h0M508.1 171.7h0M508.5 171.1h0M508.9 166.3h0M508.5 168.3h0M508.7 168.9h0M509.4 169.5h0M509.0 172.0h0M509.3 171.7h0M509.3 174.1h0M509.5 176.6h0M509.7 175.6h0M510.1 177.1h0M510.4 174.0h0M510.4 174.6h0M510.4 170.8h0M510.7 171.9h0M510.4 170.8h0M511.1 171.6h0M511.0 173.1h0M511.3 171.8h0M511.0 175.1h0M511.2 177.4h0M511.3 176.3h0M511.7 174.9h0M511.9 175.6h0M511.7 176.9h0M512.1 177.4h0M512.5 174.8h0M512.3 175.9h0M512.8 175.1h0M512.8 174.5h0M512.9 177.2h0M512.8 176.3h0M512.9 176.7h0M513.3 177.9h0M513.1 177.0h0M513.4 175.5h0M513.6 174.3h0M514.1 177.7h0M514.1 177.8h0M513.9 177.5h0M514.4 176.9h0M514.4 178.4h0M514.6 178.9h0M514.5 177.0h0M514.6 177.1h0M514.7 173.0h0M515.0 176.4h0M515.1 174.0h0M515.5 176.4h0M515.5 175.1h0M515.5 176.3h0M515.8 175.6h0M515.8 178.6h0M515.9 179.1h0M516.0 177.5h0M516.5 180.0h0M516.8 176.2h0M516.6 177.2h0M517.1 178.1h0M516.9 177.3h0M517.1 174.3h0M516.9 176.7h0M517.5 176.9h0M517.6 177.1h0M517.6 178.0h0M517.8 176.0h0M517.9 175.3h0M518.0 174.5h0M517.9 176.2h0M518.2 174.1h0M518.5 177.1h0M518.7 177.2h0M518.8 176.7h0M519.0 175.7h0M519.2 180.7h0M519.1 180.5h0M519.6 180.5h0M519.3 180.2h0M519.4 180.1h0M519.9 181.9h0M519.8 179.1h0M519.8 180.0h0M519.9 179.4h0M520.4 176.5h0M520.5 178.1h0M520.5 175.8h0M520.5 176.1h0M520.9 178.0h0M521.3 178.3h0M521.4 177.8h0M521.5 176.6h0M521.5 178.4h0M521.7 178.3h0M521.8 179.7h0M521.6 181.8h0M522.1 180.9h0M522.0 184.1h0M522.2 181.4h0M522.3 185.2h0M522.6 181.2h0M523.0 182.9h0M523.0 180.3h0M523.1 180.6h0M523.3 180.1h0M523.5 178.8h0M523.3 177.8h0M523.4 179.0h0M524.0 181.8h0M523.7 180.3h0M524.1 181.7h0M524.1 181.8h0M524.4 184.2h0M524.8 182.3h0M524.6 183.6h0M524.9 183.0h0M525.0 184.1h0M524.9 184.0h0M525.4 181.2h0M525.5 183.8h0M525.5 184.7h0M525.6 184.1h0M526.1 184.2h0M526.0 185.0h0M526.2 183.7h0M526.0 183.9h0M526.4 187.1h0M526.5 186.5h0M526.7 185.6h0M526.7 187.1h0M526.8 183.9h0M527.1 184.4h0M527.5 185.8h0M527.4 184.4h0M527.4 186.2h0M527.8 188.1h0M527.8 187.9h0M527.9 185.9h0M528.3 185.5h0M528.3 188.8h0M528.3 189.3h0M528.3 192.2h0M528.6 189.8h0M528.8 192.3h0M528.8 190.5h0M529.4 191.7h0M529.4 189.6h0M529.3 188.6h0M529.8 190.5h0M529.5 190.5h0M529.8 190.6h0M530.2 191.4h0M529.8 191.7h0M530.1 192.0h0M530.1 191.8h0M530.6 192.9h0M530.4 194.2h0M530.8 195.8h0M531.1 194.5h0M531.0 195.8h0M531.3 192.6h0M531.4 191.8h0M531.3 193.0h0M531.6 192.8h0M531.5 195.7h0M532.0 196.5h0M531.8 196.4h0M532.2 196.4h0M532.4 197.7h0M532.3 196.5h0M532.7 196.7h0M533.0 196.6h0M532.7 198.5h0M533.3 199.1h0M533.0 198.4h0M533.3 199.0h0M533.7 198.3h0M533.9 198.8h0M533.6 197.8h0M534.0 201.3h0M534.0 199.0h0M534.2 202.6h0M534.6 202.4h0M534.3 203.9h0M534.5 204.8h0M534.7 202.5h0M534.9 207.4h0M535.3 204.7h0M535.2 206.6h0M535.4 207.0h0M535.3 209.2h0M535.6 207.9h0M535.6 209.4h0M535.7 210.3h0M535.9 209.1h0M536.2 213.0h0M536.4 212.6h0M536.6 211.4h0M536.6 213.0h0M536.8 212.2h0M536.7 213.5h0M536.8 213.7h0M537.4 216.4h0M537.1 216.0h0M537.4 215.0h0M537.5 216.9h0M537.6 215.3h0M538.2 220.7h0M538.1 222.3h0M538.2 223.3h0M538.2 223.9h0M538.6 225.8h0M538.8 227.5h0M538.9 227.5h0M538.7 230.3h0M538.8 230.3h0M539.3 228.1h0M539.4 226.3h0M539.6 226.5h0M539.9 227.8h0M539.6 227.2h0M539.9 228.2h0M540.4 227.0h0M540.5 230.6h0M540.3 232.7h0M540.8 237.6h0M540.6 238.8h0M540.8 244.1h0M541.0 247.7h0M540.9 249.5h0M541.2 249.6h0M541.4 252.6h0M541.2 256.9h0M541.4 257.0h0M541.5 256.7h0M541.9 260.9h0M542.1 262.6h0M542.7 265.4h0M542.6 266.4h0M543.2 269.1h0M543.4 269.5h0M457.9 192.0h0M457.0 196.0h0M457.8 200.0h0M457.5 223.0h0M457.8 359.0h0M481.4 180.0h0M480.9 184.0h0M480.9 188.0h0M480.8 193.0h0M432.6 273.0h0M543.3 313.4h0M543.4 354.9h0M543.3 311.1h0M542.5 335.9h0M541.9 312.5h0M542.2 259.1h0M541.2 270.9h0M541.7 353.8h0M542.3 357.8h0M542.1 271.6h0M542.4 251.3h0M541.2 278.0h0M542.1 266.9h0M541.7 351.8h0M542.2 341.0h0M542.1 282.3h0M550.1 304.7h0M550.5 321.8h0M550.5 370.1h0M550.0 316.9h0M550.5 305.8h0M549.5 248.1h0M549.5 216.2h0M550.1 280.8h0M550.5 283.3h0M552.0 390.4h0M581.1 354.4h0M580.6 376.6h0M580.6 381.0h0M580.7 390.0h0M587.7 353.0h0M587.8 357.0h0M587.7 382.0h0M587.9 384.0h0M619.1 372.9h0M615.9 371.6h0M617.0 389.2h0M615.4 385.1h0M613.6 388.8h0M618.6 374.6h0M618.8 373.1h0M615.3 366.9h0M617.9 388.8h0M619.8 389.3h0M616.4 368.2h0M617.8 381.2h0M619.9 383.4h0M614.7 389.9h0M619.7 389.0h0M643.7 385.0h0M642.5 380.8h0M642.5 387.5h0" stroke="#0000ff" stroke-width="3.1" stroke-linecap="round" fill="none"/>
<path d="M302.0 388.4h0M302.6 390.5h0M302.9 387.6h0M303.3 389.9h0M305.2 387.8h0M306.1 392.1h0M305.8 381.3h0M306.5 392.2h0M306.5 391.2h0M306.6 389.8h0M306.6 385.5h0M306.6 390.1h0M307.2 357.7h0M306.9 364.5h0M307.1 388.9h0M307.4 375.7h0M307.6 373.7h0M307.5 376.7h0M307.8 372.6h0M308.0 390.0h0M307.8 362.0h0M308.0 388.4h0M308.3 390.3h0M308.3 369.0h0M308.7 368.7h0M308.5 366.4h0M308.7 366.2h0M308.8 372.0h0M309.2 387.2h0M309.1 365.5h0M309.5 367.3h0M309.4 387.2h0M309.7 390.4h0M309.9 388.2h0M309.8 382.8h0M310.0 386.2h0M310.2 391.9h0M310.2 386.7h0M310.7 383.6h0M311.1 384.7h0M311.1 388.1h0M311.1 390.3h0M311.0 385.1h0M311.5 381.0h0M311.2 383.8h0M311.6 385.3h0M311.9 383.9h0M312.0 388.8h0M312.3 383.3h0M312.0 384.0h0M312.5 382.5h0M312.2 381.3h0M312.3 390.5h0M312.7 384.3h0M312.7 381.5h0M313.0 383.1h0M313.3 387.2h0M313.6 381.6h0M313.6 383.9h0M313.6 391.2h0M313.7 382.0h0M313.9 385.7h0M314.1 382.4h0M314.5 386.0h0M314.4 386.3h0M314.3 383.8h0M314.6 389.6h0M314.5 384.4h0M314.8 387.6h0M315.3 388.3h0M315.2 381.2h0M315.2 381.4h0M315.8 383.3h0M315.6 391.8h0M315.6 385.4h0M316.1 391.0h0M316.2 381.4h0M316.5 385.0h0M316.1 385.9h0M316.4 381.3h0M316.8 383.9h0M316.7 389.1h0M316.8 381.3h0M317.3 386.6h0M315.2 385.7h0M315.9 381.9h0M315.8 382.7h0M315.8 382.8h0M315.6 384.8h0M315.7 383.0h0M316.4 376.1h0M315.8 379.5h0M316.2 378.8h0M316.2 374.6h0M316.8 371.8h0M316.3 377.6h0M316.3 373.8h0M316.8 372.2h0M317.0 368.9h0M318.2 361.7h0M317.3 367.8h0M318.5 357.9h0M317.3 369.9h0M317.9 362.9h0M317.7 362.6h0M316.4 377.8h0M316.2 375.8h0M316.6 374.3h0M317.5 364.9h0M319.5 350.4h0M318.8 356.6h0M317.0 370.4h0M318.3 361.7h0M319.2 357.8h0M318.0 360.3h0M320.2 338.7h0M318.6 360.0h0M319.7 354.1h0M318.2 360.9h0M320.0 333.0h0M319.2 350.6h0M318.5 359.5h0M319.3 353.3h0M320.4 334.7h0M320.4 324.7h0M318.9 357.5h0M318.6 358.0h0M321.4 309.6h0M319.9 346.7h0M320.1 332.2h0M319.2 356.0h0M319.6 341.8h0M319.9 346.0h0M320.9 314.3h0M321.4 303.6h0M320.4 320.7h0M321.2 309.7h0M322.8 297.7h0M322.3 300.8h0M322.5 292.3h0M322.7 289.7h0M320.5 316.7h0M320.6 322.0h0M320.3 320.2h0M321.0 316.1h0M323.0 292.6h0M323.6 289.2h0M323.7 280.5h0M322.3 295.5h0M322.6 293.3h0M321.6 305.9h0M323.7 274.3h0M322.7 293.4h0M322.9 289.1h0M323.9 280.9h0M323.5 280.8h0M322.3 304.1h0M324.1 269.6h0M322.5 304.0h0M322.9 303.3h0M322.8 292.1h0M323.7 280.1h0M324.8 271.5h0M324.0 284.6h0M325.2 285.0h0M324.9 268.0h0M324.2 275.4h0M325.0 272.9h0M324.5 285.3h0M325.7 265.6h0M325.1 283.7h0M325.1 275.2h0M324.9 278.4h0M325.7 270.6h0M325.3 270.0h0M326.2 272.7h0M325.9 284.5h0M326.0 271.1h0M326.5 283.2h0M326.4 273.0h0M326.8 279.8h0M326.6 263.2h0M326.2 275.0h0M326.7 265.2h0M326.9 268.4h0M327.0 282.1h0M326.8 279.1h0M327.3 281.8h0M326.7 265.5h0M327.5 267.0h0M327.3 264.7h0M327.2 273.1h0M327.3 274.7h0M327.3 280.2h0M327.3 268.4h0M328.2 266.0h0M327.8 274.7h0M328.7 263.0h0M328.9 266.0h0M328.3 267.7h0M328.4 274.4h0M328.1 267.0h0M328.3 279.1h0M329.3 283.5h0M329.3 278.2h0M329.2 275.2h0M329.0 283.3h0M329.1 269.5h0M330.1 269.6h0M329.8 274.1h0M329.5 271.2h0M329.5 273.6h0M330.7 269.1h0M329.8 268.3h0M330.1 279.1h0M330.1 279.9h0M330.3 271.5h0M330.8 288.4h0M330.3 271.5h0M330.6 270.1h0M330.8 273.0h0M330.9 291.5h0M331.0 275.2h0M331.7 292.8h0M331.8 293.6h0M331.6 287.5h0M331.1 282.3h0M331.7 287.9h0M332.1 297.9h0M331.9 300.1h0M332.3 304.1h0M331.8 293.8h0M331.7 295.8h0M331.9 299.0h0M332.3 305.5h0M332.7 316.9h0M333.1 311.0h0M332.5 311.3h0M332.7 314.2h0M332.7 310.4h0M333.0 316.0h0M333.4 314.2h0M332.7 314.1h0M333.5 319.4h0M333.8 319.5h0M333.3 317.6h0M334.1 322.9h0M333.5 316.3h0M334.5 323.0h0M334.5 324.7h0M333.8 319.6h0M334.1 322.2h0M334.0 321.6h0M334.3 322.2h0M335.1 328.7h0M334.3 323.4h0M335.1 328.4h0M335.5 328.4h0M334.7 327.4h0M335.6 328.5h0M335.9 330.8h0M335.7 332.4h0M335.6 330.4h0M335.5 330.2h0M336.3 332.2h0M335.4 330.6h0M335.5 331.0h0M336.7 336.0h0M336.9 338.8h0M336.6 332.7h0M336.2 334.9h0M337.3 345.1h0M337.2 346.6h0M337.3 347.3h0M336.4 335.9h0M337.1 347.1h0M337.6 348.1h0M337.5 348.8h0M337.4 348.9h0M337.9 348.3h0M337.9 349.1h0M337.7 350.1h0M338.4 346.9h0M337.5 348.4h0M338.3 344.4h0M338.3 343.3h0M338.8 343.5h0M338.3 346.0h0M338.5 345.8h0M338.4 347.9h0M338.8 340.2h0M338.4 345.5h0M338.7 344.8h0M339.7 335.3h0M339.0 337.9h0M339.6 334.3h0M340.2 330.3h0M340.1 333.2h0M340.0 328.2h0M339.9 334.6h0M339.7 334.8h0M340.1 327.1h0M340.8 326.7h0M340.9 324.5h0M340.1 330.5h0M340.8 323.1h0M341.4 314.1h0M341.1 319.4h0M341.3 314.8h0M341.1 318.7h0M340.8 323.2h0M341.1 317.7h0M341.0 314.5h0M341.1 316.8h0M341.3 309.6h0M342.1 299.6h0M342.0 288.2h0M341.2 311.4h0M341.8 310.9h0M341.6 307.7h0M342.3 292.7h0M342.4 298.1h0M342.5 293.7h0M342.9 282.6h0M342.5 283.6h0M343.1 282.7h0M342.5 282.7h0M342.9 281.3h0M343.1 283.0h0M343.0 283.8h0M342.8 276.8h0M343.8 275.5h0M343.6 272.8h0M343.6 270.4h0M343.9 271.5h0M344.5 279.4h0M344.1 273.3h0M343.6 272.5h0M344.1 277.3h0M344.2 282.3h0M344.2 278.6h0M344.8 272.9h0M345.2 274.8h0M345.0 276.2h0M344.7 269.3h0M344.9 277.7h0M345.2 274.3h0M345.3 286.2h0M345.9 280.1h0M345.6 281.5h0M345.8 285.5h0M346.4 277.8h0M345.6 280.7h0M346.3 274.6h0M346.6 282.4h0M345.9 276.4h0M346.9 287.5h0M346.1 277.3h0M346.9 286.8h0M346.8 280.5h0M346.4 284.6h0M347.6 294.5h0M346.6 287.6h0M347.2 285.8h0M347.3 284.3h0M347.1 283.6h0M347.3 293.0h0M348.2 291.9h0M347.3 287.3h0M348.2 296.0h0M348.2 297.0h0M348.2 298.6h0M347.8 292.1h0M348.4 302.0h0M348.6 294.7h0M348.8 299.7h0M348.6 290.9h0M349.1 298.0h0M348.8 296.9h0M349.4 300.2h0M348.9 295.1h0M349.9 302.1h0M348.9 295.8h0M349.2 298.7h0M348.9 301.7h0M349.5 302.3h0M350.0 302.6h0M350.5 308.3h0M349.9 306.3h0M350.1 304.5h0M350.0 306.0h0M350.6 310.3h0M350.7 312.9h0M350.1 308.8h0M350.7 310.7h0M350.6 310.4h0M351.5 314.7h0M350.8 309.5h0M351.0 312.6h0M351.4 317.9h0M351.9 316.8h0M351.7 314.7h0M351.3 312.9h0M351.4 312.2h0M352.2 317.8h0M351.8 319.0h0M352.4 317.1h0M352.1 318.4h0M351.9 317.1h0M352.4 320.4h0M352.5 317.3h0M352.4 318.4h0M352.7 320.0h0M353.2 321.6h0M352.5 319.1h0M352.9 319.3h0M352.9 319.9h0M354.1 324.2h0M353.2 320.4h0M354.0 321.3h0M354.1 324.9h0M353.4 324.4h0M354.3 325.7h0M353.8 325.9h0M354.1 325.7h0M354.6 328.2h0M354.2 325.8h0M354.5 326.5h0M355.0 330.3h0M354.7 323.6h0M354.6 324.8h0M354.8 328.0h0M354.8 327.1h0M355.1 327.1h0M355.5 327.9h0M355.5 331.1h0M355.9 332.2h0M355.2 329.0h0M356.2 330.6h0M356.0 330.7h0M355.9 331.8h0M356.0 331.1h0M356.3 331.4h0M356.3 331.3h0M356.9 331.0h0M356.0 333.3h0M356.5 331.3h0M357.2 332.2h0M356.8 333.5h0M357.0 274.4h0M356.9 281.9h0M356.9 272.8h0M357.3 277.8h0M357.2 273.9h0M357.5 272.8h0M357.5 255.7h0M357.5 261.3h0M357.7 265.4h0M357.5 247.4h0M357.7 251.2h0M357.7 251.8h0M358.0 247.3h0M358.0 243.7h0M358.3 255.1h0M358.0 250.6h0M358.2 245.0h0M358.2 248.4h0M358.4 255.3h0M358.7 255.0h0M358.6 261.9h0M358.6 261.3h0M358.8 250.7h0M358.7 257.0h0M359.0 250.0h0M359.1 262.9h0M359.0 271.5h0M359.0 267.2h0M359.0 280.1h0M359.5 289.2h0M359.2 298.2h0M359.3 297.4h0M359.4 292.9h0M359.8 291.8h0M359.5 281.7h0M359.7 282.6h0M360.0 278.1h0M360.0 285.1h0M360.2 280.7h0M360.3 274.6h0M360.3 266.0h0M360.3 255.8h0M360.5 267.6h0M360.3 261.4h0M360.5 257.3h0M360.4 247.1h0M360.5 248.2h0M360.7 258.4h0M360.9 255.1h0M361.0 248.7h0M360.9 255.4h0M361.1 249.7h0M361.0 263.5h0M361.4 271.2h0M361.2 269.9h0M361.2 288.1h0M361.5 275.6h0M361.7 288.0h0M361.7 286.8h0M361.9 301.8h0M361.8 302.9h0M361.8 295.2h0M361.8 261.7h0M362.1 239.0h0M362.1 238.8h0M362.3 254.1h0M362.5 257.5h0M362.1 272.5h0M362.7 282.6h0M362.7 286.8h0M362.6 286.3h0M362.4 283.8h0M362.7 291.1h0M363.0 281.9h0M362.9 291.5h0M363.2 292.0h0M363.0 280.0h0M363.2 290.9h0M363.4 282.5h0M363.4 293.2h0M363.3 281.3h0M363.3 279.3h0M363.5 282.7h0M363.4 290.3h0M363.6 288.0h0M363.7 279.1h0M363.7 273.7h0M364.1 269.4h0M364.2 261.1h0M363.9 242.7h0M364.3 232.2h0M364.4 241.7h0M364.2 245.5h0M364.5 240.2h0M364.6 230.9h0M364.6 232.1h0M364.9 232.2h0M364.5 238.0h0M364.9 240.7h0M364.7 241.4h0M365.1 241.9h0M365.2 255.1h0M365.0 273.1h0M365.3 270.6h0M365.2 273.1h0M365.4 276.0h0M365.7 282.8h0M365.5 298.1h0M365.9 302.9h0M366.0 301.7h0M366.0 305.0h0M365.7 305.0h0M366.0 300.6h0M365.8 308.2h0M366.3 299.5h0M366.4 308.8h0M366.5 308.0h0M366.2 306.5h0M366.5 304.5h0M366.4 310.9h0M366.8 316.2h0M366.7 306.4h0M366.5 289.3h0M366.9 274.7h0M366.9 266.4h0M366.9 244.3h0M367.2 221.7h0M367.0 226.3h0M367.0 217.6h0M367.3 241.5h0M367.4 273.0h0M367.7 293.8h0M367.5 304.9h0M367.6 309.7h0M367.7 301.4h0M367.6 287.2h0M367.8 287.4h0M368.1 283.2h0M368.2 287.1h0M368.1 297.8h0M368.3 293.6h0M368.1 297.4h0M368.5 295.3h0M368.6 286.2h0M368.5 270.5h0M368.7 268.7h0M368.7 241.1h0M368.5 227.4h0M368.9 235.8h0M368.9 236.4h0M368.8 250.8h0M369.3 259.0h0M369.4 267.7h0M369.1 285.9h0M369.2 293.0h0M369.5 297.5h0M369.3 295.7h0M369.5 303.4h0M369.8 298.8h0M369.7 300.7h0M369.7 313.5h0M369.9 311.2h0M369.7 312.0h0M370.0 297.5h0M370.3 280.2h0M370.0 272.7h0M370.5 254.8h0M370.4 265.9h0M370.5 267.6h0M370.7 271.3h0M370.7 273.1h0M370.9 281.9h0M370.8 276.2h0M370.9 272.4h0M371.1 252.2h0M371.2 259.3h0M370.8 254.2h0M371.3 262.9h0M371.1 261.7h0M371.4 263.0h0M371.3 258.2h0M371.5 266.8h0M371.5 285.9h0M371.4 299.0h0M371.9 303.1h0M371.6 307.0h0M371.9 302.0h0M371.7 296.8h0M372.0 287.7h0M372.2 275.0h0M372.3 255.4h0M372.5 240.3h0M372.5 234.7h0M372.3 242.9h0M372.3 259.7h0M372.7 291.2h0M372.8 296.3h0M372.6 289.6h0M372.8 286.9h0M372.7 294.5h0M373.2 280.7h0M373.2 275.2h0M373.2 277.7h0M373.2 280.6h0M373.5 282.9h0M373.3 275.3h0M373.3 279.8h0M373.5 289.1h0M373.4 288.4h0M373.8 286.3h0M373.9 280.3h0M373.7 292.5h0M374.1 287.8h0M374.2 290.4h0M374.3 287.7h0M374.4 290.9h0M374.1 291.4h0M374.5 284.6h0M374.3 271.8h0M374.6 278.7h0M374.7 275.1h0M374.7 269.0h0M374.6 265.7h0M375.0 267.7h0M375.1 270.7h0M374.8 275.1h0M375.1 283.5h0M375.2 276.7h0M375.3 283.3h0M375.4 283.3h0M375.2 287.4h0M375.6 294.0h0M375.7 306.0h0M375.5 306.6h0M375.7 309.6h0M376.0 315.3h0M375.8 304.4h0M376.1 307.8h0M375.9 308.3h0M376.3 305.9h0M376.0 296.1h0M376.5 295.7h0M376.6 302.1h0M376.5 285.3h0M376.8 279.7h0M376.7 265.5h0M376.9 266.5h0M377.0 257.4h0M376.8 275.6h0M376.7 288.2h0M376.8 295.0h0M376.9 306.2h0M377.0 309.1h0M377.1 312.8h0M377.6 313.6h0M377.4 305.2h0M377.6 297.0h0M377.8 274.7h0M377.5 258.1h0M377.8 256.7h0M377.7 259.0h0M377.8 254.4h0M378.0 262.3h0M377.9 260.7h0M378.3 261.5h0M378.4 257.8h0M378.3 268.1h0M378.3 279.9h0M378.4 289.0h0M378.6 285.3h0M378.4 294.4h0M378.8 289.0h0M378.9 284.5h0M378.7 292.9h0M378.8 290.7h0M378.9 283.6h0M378.9 280.8h0M378.9 290.6h0M379.3 285.8h0M379.3 284.2h0M379.6 273.4h0M379.5 272.2h0M379.6 269.1h0M379.6 271.0h0M379.7 274.2h0M379.8 269.9h0M379.8 251.4h0M380.0 265.1h0M380.1 256.8h0M380.4 273.5h0M380.4 281.1h0M380.5 295.3h0M380.3 300.3h0M380.2 306.0h0M380.6 308.9h0M380.8 303.4h0M380.7 296.7h0M380.6 293.9h0M380.9 298.1h0M381.1 299.6h0M381.1 291.1h0M381.0 273.3h0M381.0 257.6h0M381.3 249.9h0M381.3 226.4h0M381.4 236.7h0M381.5 239.6h0M381.4 261.9h0M381.7 282.5h0M381.8 294.3h0M381.9 303.9h0M381.7 308.5h0M381.8 307.7h0M382.3 301.5h0M382.3 293.3h0M382.0 297.6h0M382.2 290.7h0M382.4 297.3h0M382.5 282.8h0M382.5 267.1h0M382.7 257.5h0M382.8 258.3h0M382.7 265.6h0M382.9 270.4h0M383.0 292.2h0M383.2 281.4h0M383.2 287.8h0M383.4 267.8h0M383.2 271.8h0M383.4 269.9h0M383.6 253.9h0M383.4 268.9h0M383.5 259.4h0M383.7 258.8h0M383.5 261.2h0M383.6 267.8h0M383.7 269.0h0M384.0 276.1h0M384.3 275.0h0M384.1 281.1h0M384.3 280.2h0M384.5 274.5h0M384.3 250.5h0M384.5 254.2h0M384.3 256.5h0M384.6 275.9h0M384.8 284.6h0M384.7 297.8h0M385.0 299.9h0M384.8 299.9h0M384.8 306.3h0M385.2 306.1h0M385.3 308.7h0M385.4 313.7h0M385.1 304.3h0M385.2 300.4h0M385.5 294.8h0M385.5 283.0h0M385.6 292.4h0M385.8 279.9h0M385.9 266.6h0M386.0 254.4h0M386.1 236.6h0M386.3 228.7h0M386.2 238.3h0M386.2 224.4h0M386.6 230.9h0M386.3 231.0h0M386.7 235.7h0M386.7 226.6h0M386.7 253.4h0M386.7 280.6h0M387.0 283.6h0M386.8 265.2h0M386.9 253.6h0M387.2 237.4h0M387.4 226.2h0M387.6 229.8h0M387.7 230.7h0M387.4 226.1h0M387.9 241.5h0M387.6 242.2h0M387.8 238.4h0M388.0 248.2h0M387.9 251.0h0M388.2 257.8h0M388.3 251.4h0M388.2 261.1h0M388.5 276.5h0M388.3 273.2h0M388.7 289.8h0M388.4 282.6h0M388.8 289.9h0M388.7 279.9h0M388.8 291.4h0M389.2 293.7h0M388.9 268.6h0M389.1 263.6h0M389.1 248.9h0M389.2 259.9h0M389.5 268.3h0M389.7 287.4h0M389.6 290.0h0M389.7 284.4h0M389.7 289.7h0M389.7 291.6h0M389.8 285.3h0M390.2 287.2h0M390.3 288.5h0M390.4 278.5h0M390.2 278.2h0M390.5 281.1h0M390.3 284.9h0M390.4 286.3h0M390.7 273.9h0M391.0 271.6h0M390.8 273.8h0M391.1 279.0h0M391.1 276.4h0M391.3 276.4h0M391.3 271.7h0M391.3 252.0h0M391.2 255.0h0M391.7 247.1h0M391.7 223.4h0M391.6 211.4h0M391.7 190.6h0M392.0 234.3h0M392.1 266.7h0M392.0 278.7h0M392.0 248.1h0M392.0 203.9h0M392.4 196.5h0M392.4 235.6h0M392.7 272.8h0M392.6 279.2h0M392.8 283.3h0M392.7 285.4h0M393.0 281.9h0M392.8 289.0h0M393.2 284.6h0M393.0 295.0h0M393.1 297.5h0M393.5 301.5h0M393.3 296.2h0M393.6 302.6h0M393.5 297.4h0M393.7 292.3h0M393.8 292.6h0M394.0 292.7h0M394.0 274.6h0M394.1 248.2h0M394.2 227.0h0M394.3 230.3h0M394.1 216.1h0M394.5 219.7h0M394.7 216.0h0M394.4 224.5h0M394.7 235.6h0M394.9 244.1h0M394.7 277.4h0M395.0 291.4h0M394.9 287.8h0M395.1 272.5h0M395.2 251.3h0M395.3 246.9h0M395.2 207.7h0M395.5 194.0h0M395.4 217.6h0M395.5 281.7h0M395.8 299.9h0M396.0 296.4h0M396.0 294.9h0M396.2 292.8h0M396.3 290.2h0M396.2 291.0h0M396.1 298.9h0M396.3 295.7h0M396.6 304.7h0M396.6 314.6h0M396.6 301.1h0M396.9 276.4h0M396.8 220.3h0M396.8 197.0h0M397.1 181.6h0M397.2 215.5h0M397.1 278.0h0M397.5 320.3h0M397.6 328.3h0M397.6 306.8h0M397.7 288.5h0M397.6 287.3h0M397.5 271.6h0M397.7 261.1h0M397.7 238.4h0M398.2 213.1h0M398.0 215.8h0M398.3 194.9h0M398.4 197.6h0M398.6 195.9h0M398.6 207.5h0M398.6 207.9h0M398.7 199.3h0M398.9 215.2h0M398.6 236.3h0M399.1 258.9h0M399.1 255.6h0M399.0 258.0h0M399.3 258.2h0M399.5 258.7h0M399.6 267.1h0M399.3 268.1h0M399.5 256.6h0M399.4 276.0h0M399.7 275.2h0M399.7 279.0h0M400.0 271.9h0M400.2 285.9h0M400.1 276.4h0M400.3 276.7h0M400.3 288.9h0M400.2 282.2h0M400.5 288.0h0M400.7 278.7h0M400.4 255.6h0M400.7 241.1h0M401.0 229.0h0M400.7 215.1h0M401.0 215.6h0M401.0 212.0h0M401.2 194.9h0M401.2 193.9h0M401.5 176.1h0M401.3 189.6h0M401.5 210.5h0M401.8 212.3h0M401.5 213.4h0M401.6 227.5h0M401.7 244.2h0M402.0 253.6h0M402.0 239.8h0M402.1 232.3h0M402.1 208.5h0M402.2 192.6h0M402.2 193.2h0M402.3 191.0h0M402.6 201.6h0M402.7 236.2h0M402.7 262.5h0M402.7 274.5h0M402.8 257.7h0M403.0 257.3h0M403.0 264.4h0M403.0 261.0h0M403.3 246.8h0M403.2 263.4h0M403.6 293.3h0M403.4 319.3h0M403.8 315.9h0M404.0 316.6h0M403.8 302.8h0M404.1 290.4h0M404.1 271.9h0M404.3 264.6h0M404.2 266.5h0M404.1 254.5h0M404.6 241.2h0M404.3 217.9h0M404.6 195.3h0M404.4 198.2h0M404.9 178.6h0M404.7 192.7h0M405.2 206.7h0M405.2 233.5h0M405.3 217.2h0M405.3 215.7h0M405.4 185.3h0M405.4 190.8h0M405.5 184.9h0M405.4 181.4h0M405.4 197.4h0M405.9 193.1h0M405.6 202.8h0M405.9 197.8h0M405.9 188.6h0M406.0 192.0h0M406.2 198.3h0M406.0 246.3h0M406.3 296.2h0M406.4 313.2h0M406.3 312.7h0M406.5 310.5h0M406.5 295.9h0M406.9 291.6h0M407.0 275.2h0M406.7 267.4h0M406.8 169.3h0M407.1 174.0h0M406.9 183.0h0M407.5 192.2h0M407.1 199.9h0M407.2 200.7h0M407.6 197.1h0M407.4 191.0h0M408.0 185.7h0M407.7 180.1h0M408.0 177.1h0M407.9 175.2h0M407.9 175.8h0M408.0 172.6h0M408.3 171.8h0M408.5 171.9h0M408.6 170.8h0M408.3 170.4h0M408.9 169.3h0M408.6 170.2h0M408.8 167.4h0M409.3 166.5h0M408.8 167.6h0M409.3 169.2h0M409.2 168.2h0M409.5 167.7h0M409.4 166.8h0M409.5 168.3h0M409.5 166.6h0M409.5 166.9h0M409.6 167.3h0M409.8 166.7h0M409.8 165.5h0M410.2 166.0h0M410.4 167.5h0M410.6 166.9h0M410.4 167.4h0M410.8 166.5h0M410.4 167.5h0M410.6 165.5h0M410.8 166.6h0M411.0 167.6h0M411.3 167.9h0M411.0 166.5h0M411.2 167.0h0M411.3 167.1h0M411.6 167.5h0M411.7 167.3h0M411.4 169.4h0M411.5 167.7h0M411.9 166.3h0M412.0 167.5h0M412.1 166.8h0M412.2 165.0h0M412.4 167.1h0M412.4 167.7h0M412.6 170.4h0M412.1 172.2h0M412.3 173.8h0M412.6 174.2h0M412.9 174.1h0M412.9 176.3h0M412.8 178.0h0M413.1 179.5h0M413.0 182.2h0M413.4 183.5h0M413.3 179.5h0M413.7 173.1h0M413.6 169.9h0M413.3 167.9h0M413.8 168.7h0M413.5 167.7h0M413.6 169.4h0M413.7 167.9h0M414.1 168.0h0M414.2 170.4h0M414.2 167.6h0M414.1 168.2h0M414.4 167.0h0M414.3 166.5h0M414.4 165.6h0M414.7 165.0h0M414.5 165.3h0M414.6 164.4h0M415.2 164.8h0M415.2 166.6h0M415.2 172.3h0M415.1 179.1h0M415.6 185.6h0M415.7 191.3h0M415.8 194.4h0M415.5 193.2h0M415.5 188.4h0M416.0 185.9h0M416.0 178.0h0M416.1 173.8h0M416.1 167.9h0M416.1 165.4h0M416.1 163.6h0M416.5 165.0h0M416.6 168.8h0M416.3 168.7h0M416.9 170.1h0M416.5 171.8h0M417.0 171.5h0M417.1 172.0h0M417.0 170.7h0M417.1 171.6h0M417.2 171.2h0M417.2 169.3h0M417.2 171.1h0M417.4 169.4h0M417.7 169.6h0M418.0 168.3h0M417.6 165.2h0M418.1 165.5h0M418.3 164.1h0M417.8 164.2h0M418.3 165.5h0M418.3 164.1h0M418.3 163.1h0M418.4 163.1h0M418.7 168.1h0M418.9 171.0h0M418.9 176.6h0M418.7 178.9h0M418.9 180.5h0M418.9 176.5h0M419.1 174.1h0M419.3 168.0h0M419.2 164.1h0M419.3 163.8h0M419.4 163.0h0M419.7 164.2h0M419.9 165.2h0M419.5 165.9h0M420.2 166.9h0M420.2 166.8h0M420.3 167.4h0M420.0 167.1h0M420.5 165.8h0M420.3 167.1h0M420.8 168.3h0M420.4 165.9h0M420.8 165.5h0M420.7 166.0h0M421.2 164.9h0M421.1 166.2h0M421.2 165.0h0M420.9 163.8h0M421.1 163.6h0M421.1 166.2h0M421.4 169.6h0M421.6 172.6h0M421.7 172.0h0M422.0 172.4h0M421.6 170.0h0M421.9 168.4h0M422.3 167.9h0M422.0 165.7h0M422.1 166.3h0M422.6 165.6h0M422.3 165.5h0M422.3 167.9h0M422.7 168.9h0M422.9 168.7h0M422.9 170.3h0M422.9 171.0h0M422.7 169.9h0M423.0 171.6h0M423.2 170.7h0M423.0 171.7h0M423.3 174.9h0M423.6 178.1h0M423.5 181.0h0M423.7 180.3h0M423.7 177.9h0M423.5 177.2h0M424.0 176.3h0M424.1 177.0h0M424.3 176.9h0M424.2 174.9h0M424.5 174.6h0M424.2 174.9h0M424.2 172.9h0M424.7 173.6h0M424.8 174.3h0M424.8 173.5h0M425.0 173.3h0M425.0 170.5h0M424.9 169.2h0M425.1 164.2h0M425.5 163.5h0M425.3 162.9h0M425.4 163.6h0M425.2 162.8h0M425.4 166.3h0M425.6 169.5h0M426.1 172.6h0M426.2 174.8h0M425.7 175.3h0M426.1 172.9h0M426.4 171.5h0M426.2 170.1h0M426.7 170.5h0M426.7 172.5h0M426.3 177.1h0M426.9 176.3h0M426.5 178.1h0M426.8 176.1h0M426.8 173.1h0M427.3 170.5h0M427.4 169.0h0M427.0 166.9h0M427.1 165.7h0M427.2 167.2h0M427.5 167.7h0M427.7 168.2h0M427.7 168.6h0M427.6 170.6h0M427.7 170.3h0M427.9 170.9h0M427.8 171.0h0M428.5 171.5h0M428.2 172.3h0M428.3 172.8h0M428.7 171.6h0M428.4 171.1h0M428.6 171.1h0M428.8 172.6h0M428.7 171.9h0M428.7 172.4h0M429.1 171.8h0M428.9 172.4h0M429.3 173.4h0M429.6 173.4h0M429.4 169.2h0M429.7 166.3h0M429.8 164.1h0M429.5 160.1h0M429.7 159.1h0M430.1 160.7h0M429.8 159.6h0M430.3 160.3h0M430.3 159.9h0M430.5 160.2h0M430.1 161.0h0M430.6 162.7h0M430.7 166.0h0M430.5 168.3h0M430.9 170.1h0M430.9 172.5h0M431.2 173.7h0M431.0 170.2h0M431.0 167.8h0M431.4 162.8h0M431.4 161.3h0M431.6 159.1h0M431.5 157.8h0M431.6 155.8h0M431.9 156.2h0M432.1 154.4h0M432.0 154.5h0M432.5 153.9h0M432.6 155.3h0M432.3 153.8h0M432.6 154.7h0M432.6 154.1h0M433.2 153.4h0M432.8 153.9h0M433.0 152.9h0M433.4 152.7h0M433.8 151.9h0M433.4 152.9h0M433.5 152.7h0M433.7 151.7h0M434.3 152.5h0M434.1 149.8h0M434.4 151.2h0M434.7 150.1h0M434.4 149.3h0M434.6 151.7h0M434.7 150.2h0M435.4 151.8h0M435.2 152.5h0M435.4 149.5h0M435.3 149.8h0M435.8 150.7h0M435.6 151.4h0M436.0 150.7h0M436.2 152.8h0M436.4 152.7h0M436.1 151.4h0M436.7 153.1h0M436.6 153.9h0M436.9 152.0h0M436.8 151.9h0M437.0 152.6h0M437.3 150.3h0M437.6 148.4h0M437.6 149.0h0M437.8 150.8h0M437.7 148.5h0M438.1 151.3h0M437.8 151.4h0M438.4 149.8h0M438.1 150.3h0M438.6 149.5h0M438.4 149.7h0M438.7 151.3h0M438.8 150.4h0M439.1 150.3h0M439.1 150.2h0M439.5 150.3h0M439.4 149.4h0M439.8 150.6h0M439.8 152.4h0M439.8 151.1h0M440.0 151.2h0M440.5 150.2h0M440.1 150.2h0M440.7 152.0h0M440.6 150.8h0M440.6 149.3h0M441.2 149.2h0M441.4 150.1h0M441.1 150.1h0M441.6 150.3h0M441.8 149.0h0M441.4 149.6h0M441.6 150.1h0M441.9 150.8h0M442.2 151.8h0M442.3 149.7h0M442.4 151.5h0M442.8 152.5h0M442.5 152.2h0M442.7 154.1h0M443.0 150.8h0M443.0 151.0h0M443.1 152.3h0M443.4 150.5h0M443.6 150.3h0M443.4 150.9h0M444.0 150.5h0M444.1 148.5h0M444.4 150.3h0M444.3 150.1h0M444.6 149.2h0M444.3 150.4h0M444.8 154.0h0M444.9 153.4h0M445.0 153.6h0M444.9 154.5h0M445.0 152.7h0M445.4 152.0h0M445.3 151.0h0M445.8 152.9h0M445.5 151.9h0M445.8 150.4h0M446.1 152.6h0M446.2 153.3h0M446.2 154.8h0M446.6 153.0h0M446.4 154.2h0M446.6 153.3h0M446.9 152.6h0M447.1 151.6h0M447.5 152.9h0M447.5 153.1h0M447.5 153.4h0M447.7 151.3h0M447.8 153.5h0M447.9 152.1h0M447.9 151.9h0M448.2 153.6h0M448.7 150.5h0M448.3 152.7h0M448.7 152.1h0M449.0 152.8h0M448.9 154.2h0M449.2 152.9h0M449.4 153.0h0M449.5 154.0h0M449.4 153.4h0M449.7 153.9h0M449.9 153.0h0M450.1 154.7h0M450.0 154.4h0M450.2 152.9h0M450.3 150.2h0M450.8 153.0h0M450.4 153.3h0M450.8 151.0h0M450.9 152.3h0M451.3 154.8h0M451.5 155.0h0M451.5 156.0h0M451.5 153.7h0M451.9 155.6h0M451.9 152.5h0M452.1 153.5h0M451.8 155.3h0M452.4 154.0h0M452.3 154.3h0M452.6 157.2h0M452.9 155.6h0M452.8 157.9h0M453.0 154.6h0M452.9 154.7h0M453.4 154.0h0M453.4 154.7h0M453.5 153.7h0M453.4 154.3h0M453.8 155.1h0M454.1 153.7h0M454.1 154.5h0M453.9 156.3h0M454.6 156.3h0M454.7 158.0h0M454.7 159.0h0M454.7 156.4h0M454.9 156.4h0M455.3 159.3h0M455.3 158.8h0M455.5 157.5h0M455.6 158.0h0M455.9 160.7h0M455.7 160.0h0M455.8 158.8h0M455.9 161.7h0M456.2 160.1h0M456.4 159.4h0M456.7 160.1h0M456.6 161.9h0M456.7 161.4h0M456.8 162.0h0M457.3 163.7h0M457.1 162.8h0M457.1 163.8h0M457.6 165.8h0M457.6 165.8h0M457.7 163.6h0M458.2 162.2h0M458.0 162.3h0M458.2 160.3h0M458.2 160.8h0M458.4 160.1h0M458.9 159.1h0M458.6 160.2h0M459.0 159.4h0M459.3 160.5h0M459.0 160.9h0M459.3 158.9h0M459.7 158.3h0M459.6 156.5h0M460.0 155.2h0M459.9 150.9h0M460.0 151.4h0M460.3 149.9h0M460.5 148.8h0M460.4 148.3h0M460.8 150.8h0M460.7 151.2h0M460.8 150.3h0M461.1 152.9h0M461.0 150.4h0M461.1 151.3h0M461.4 152.0h0M461.7 149.9h0M461.9 152.1h0M461.8 152.7h0M462.0 152.0h0M462.0 152.2h0M462.7 150.3h0M462.3 150.4h0M462.7 151.2h0M462.7 148.2h0M463.1 149.8h0M462.8 149.5h0M463.0 148.9h0M463.3 150.2h0M463.6 149.8h0M463.9 150.8h0M463.6 152.0h0M464.0 151.3h0M464.3 150.2h0M464.3 150.0h0M464.2 151.8h0M464.4 149.5h0M464.6 149.8h0M464.7 148.6h0M464.8 149.2h0M465.3 151.0h0M465.5 150.5h0M465.6 151.8h0M465.7 152.3h0M465.4 152.5h0M466.1 151.5h0M465.7 152.0h0M466.1 151.6h0M466.1 149.8h0M466.3 148.6h0M466.6 148.0h0M466.6 148.9h0M467.0 148.8h0M467.1 147.7h0M467.0 150.5h0M467.0 150.5h0M467.5 149.2h0M467.7 151.6h0M467.7 151.1h0M467.9 150.3h0M468.2 152.1h0M468.0 151.8h0M468.1 148.6h0M468.1 149.5h0M468.7 151.7h0M468.9 149.7h0M469.0 151.4h0M468.9 149.3h0M469.0 152.3h0M469.0 148.8h0M469.7 149.4h0M469.7 149.9h0M469.8 148.8h0M469.8 148.0h0M470.0 148.1h0M469.9 150.0h0M470.2 148.1h0M470.6 150.2h0M470.8 151.9h0M470.4 150.6h0M470.6 149.4h0M471.0 151.2h0M471.3 150.2h0M471.1 149.7h0M471.5 149.3h0M471.8 152.6h0M471.4 152.2h0M471.8 152.1h0M472.0 151.8h0M472.3 152.6h0M472.0 150.6h0M472.1 150.9h0M472.3 149.1h0M472.9 150.8h0M472.7 147.2h0M473.2 147.9h0M472.8 150.3h0M473.2 150.3h0M473.2 148.7h0M473.3 151.4h0M473.5 151.1h0M474.1 152.8h0M473.9 154.9h0M473.8 152.4h0M474.1 151.9h0M474.6 153.4h0M474.7 152.1h0M474.8 151.5h0M474.6 150.9h0M475.0 152.5h0M474.9 152.1h0M475.0 154.1h0M475.2 153.9h0M475.6 154.1h0M475.5 155.1h0M475.8 155.3h0M476.2 155.1h0M476.2 154.3h0M476.1 156.7h0M476.5 155.2h0M476.3 156.6h0M476.5 154.6h0M477.0 154.7h0M476.8 157.3h0M477.1 155.7h0M477.0 156.9h0M477.5 154.1h0M477.4 156.2h0M477.6 153.7h0M477.7 155.7h0M477.8 156.0h0M478.2 157.9h0M478.3 156.3h0M478.4 157.0h0M478.3 156.7h0M478.7 156.5h0M478.6 157.9h0M478.9 155.2h0M478.8 153.2h0M479.0 151.9h0M479.3 153.4h0M479.3 153.8h0M479.9 154.6h0M480.0 154.9h0M480.0 152.3h0M479.9 153.1h0M480.5 154.2h0M480.2 155.2h0M480.7 156.1h0M480.4 157.4h0M480.9 154.7h0M480.7 155.2h0M481.3 153.5h0M481.3 154.8h0M481.2 155.6h0M481.2 153.2h0M481.5 155.5h0M481.9 152.1h0M482.2 152.7h0M482.3 153.6h0M482.1 154.0h0M482.3 154.2h0M482.7 151.1h0M482.4 151.3h0M482.6 153.1h0M482.7 151.5h0M483.3 153.3h0M483.1 153.4h0M483.2 152.7h0M483.4 154.0h0M483.9 154.6h0M484.0 153.7h0M484.0 155.0h0M483.8 152.4h0M484.4 152.3h0M484.4 152.1h0M484.7 153.0h0M484.5 153.3h0M484.9 151.5h0M484.9 154.4h0M485.1 151.2h0M485.1 152.6h0M485.4 152.3h0M485.5 153.0h0M485.9 152.6h0M485.8 153.0h0M485.6 153.7h0M485.9 154.5h0M486.0 156.6h0M486.1 156.2h0M486.4 154.9h0M486.4 156.2h0M486.9 158.1h0M486.9 155.6h0M486.9 158.7h0M487.4 157.6h0M487.4 155.7h0M487.2 157.7h0M487.4 157.4h0M487.9 156.5h0M488.0 155.7h0M488.2 155.9h0M488.1 158.3h0M488.4 155.8h0M488.2 155.5h0M488.7 155.0h0M488.7 156.2h0M488.8 155.8h0M489.4 156.1h0M488.9 153.2h0M489.7 154.9h0M489.2 153.5h0M489.7 153.9h0M489.7 154.6h0M489.9 153.3h0M489.9 154.8h0M490.0 155.6h0M490.6 156.3h0M490.6 153.6h0M490.9 156.7h0M490.6 154.8h0M491.0 154.9h0M491.3 151.9h0M491.2 152.8h0M491.5 152.4h0M491.7 150.9h0M492.0 150.4h0M491.6 150.5h0M492.2 150.1h0M492.4 149.0h0M492.1 150.4h0M492.2 150.4h0M492.7 153.7h0M492.5 151.3h0M492.7 153.0h0M493.1 154.4h0M493.0 153.7h0M493.1 155.5h0M493.4 155.0h0M493.3 154.7h0M493.7 153.0h0M493.8 152.2h0M493.8 151.7h0M494.1 152.3h0M494.4 151.7h0M494.4 152.1h0M494.3 153.2h0M494.8 151.0h0M494.9 151.7h0M494.7 151.9h0M495.0 151.5h0M495.4 150.8h0M495.4 150.3h0M495.6 149.8h0M495.6 151.3h0M495.5 151.1h0M495.8 148.3h0M496.1 148.3h0M496.2 149.8h0M496.5 146.9h0M496.5 149.2h0M496.9 150.4h0M496.6 148.0h0M496.8 148.6h0M497.0 149.7h0M497.4 148.4h0M497.4 149.9h0M497.4 148.2h0M497.7 149.5h0M497.7 150.2h0M498.1 147.7h0M498.1 148.9h0M498.4 149.9h0M498.4 148.6h0M498.3 148.5h0M498.6 147.6h0M499.1 150.1h0M499.1 151.0h0M499.1 149.9h0M499.3 149.2h0M499.2 151.0h0M499.7 152.0h0M499.9 153.1h0M499.8 152.0h0M499.8 153.6h0M499.8 154.7h0M500.4 155.4h0M500.5 155.1h0M500.2 152.8h0M500.8 154.5h0M500.6 154.4h0M501.2 155.7h0M501.3 152.7h0M501.0 152.7h0M501.6 152.6h0M501.8 155.5h0M501.9 153.9h0M501.7 153.0h0M501.7 153.2h0M502.1 153.2h0M502.0 153.3h0M502.3 154.4h0M502.8 156.3h0M502.8 157.5h0M502.6 159.7h0M502.9 159.6h0M503.2 161.4h0M503.1 161.3h0M503.3 160.6h0M503.7 159.1h0M503.8 159.2h0M503.7 160.2h0M504.2 159.9h0M504.4 159.0h0M504.1 157.8h0M504.4 159.2h0M504.4 157.9h0M504.9 160.2h0M504.5 162.8h0M504.8 163.6h0M504.8 163.5h0M505.4 165.3h0M505.5 162.6h0M505.5 162.5h0M505.7 165.8h0M505.5 162.4h0M505.8 161.9h0M505.9 163.1h0M506.0 162.5h0M506.6 160.2h0M506.6 160.7h0M506.4 159.8h0M506.7 159.0h0M507.2 157.9h0M507.0 156.1h0M507.0 156.8h0M507.3 155.2h0M507.7 156.2h0M507.7 157.1h0M508.0 156.0h0M507.9 154.2h0M508.3 155.0h0M507.9 153.7h0M508.5 151.2h0M508.5 150.1h0M508.4 149.2h0M509.1 151.1h0M509.1 152.6h0M509.2 152.7h0M509.4 152.4h0M509.5 155.6h0M509.3 156.6h0M509.6 156.3h0M509.6 154.4h0M510.2 157.0h0M510.3 152.9h0M510.4 152.4h0M510.2 152.2h0M510.8 151.2h0M510.4 152.3h0M510.7 150.8h0M510.9 152.3h0M511.0 153.2h0M511.4 152.9h0M511.7 156.1h0M511.3 153.7h0M511.9 157.3h0M511.8 157.1h0M511.8 154.9h0M512.0 154.6h0M512.0 154.4h0M512.6 154.6h0M512.5 155.9h0M512.4 154.7h0M512.5 154.9h0M512.7 155.9h0M513.1 154.3h0M513.4 156.7h0M513.1 154.6h0M513.2 154.9h0M513.5 156.9h0M513.8 157.2h0M514.1 156.4h0M514.2 155.7h0M514.0 158.1h0M514.1 157.0h0M514.6 156.6h0M514.6 155.5h0M515.0 156.9h0M514.9 156.1h0M515.2 156.2h0M515.2 155.2h0M515.4 156.1h0M515.6 156.4h0M515.7 155.3h0M515.7 157.9h0M515.8 157.3h0M516.3 159.2h0M516.4 156.2h0M516.7 157.7h0M516.6 158.2h0M516.6 157.9h0M516.7 155.1h0M516.9 154.3h0M517.2 157.0h0M517.5 154.1h0M517.3 154.4h0M517.5 156.0h0M517.8 155.3h0M517.8 154.6h0M517.9 155.8h0M518.2 154.9h0M518.5 155.9h0M518.6 153.7h0M518.4 154.3h0M518.7 153.2h0M519.0 156.4h0M518.7 155.8h0M519.1 158.5h0M519.3 157.1h0M519.5 156.7h0M519.2 158.8h0M519.6 157.2h0M519.5 158.2h0M520.2 156.0h0M520.3 156.5h0M519.9 157.0h0M520.3 157.0h0M520.8 153.7h0M520.6 154.4h0M520.7 154.9h0M520.9 156.4h0M520.8 154.4h0M521.1 154.3h0M521.3 154.3h0M521.5 154.7h0M521.7 155.7h0M521.9 159.4h0M521.8 158.4h0M521.8 159.9h0M522.1 159.7h0M522.6 160.8h0M522.3 160.9h0M522.7 161.8h0M523.0 158.6h0M522.7 157.2h0M523.3 156.0h0M523.1 157.2h0M523.5 156.6h0M523.4 158.3h0M523.4 157.5h0M523.7 157.2h0M524.2 159.8h0M523.8 159.5h0M524.2 159.6h0M524.6 159.7h0M524.3 160.0h0M524.5 162.1h0M524.5 158.8h0M525.0 158.8h0M525.2 160.7h0M525.0 159.6h0M525.2 162.2h0M525.8 160.4h0M525.6 163.0h0M526.0 163.4h0M525.9 163.8h0M526.3 161.9h0M526.0 162.9h0M526.1 163.8h0M526.8 161.6h0M526.8 161.0h0M526.9 163.8h0M526.9 160.7h0M527.1 162.0h0M527.0 160.6h0M527.4 163.8h0M527.2 161.9h0M527.6 161.8h0M527.9 162.2h0M528.2 162.8h0M527.8 163.9h0M528.1 163.4h0M528.4 164.0h0M528.8 164.3h0M528.5 167.8h0M529.0 168.1h0M529.0 165.3h0M528.8 165.0h0M529.3 166.7h0M529.5 165.6h0M529.4 166.3h0M529.7 165.6h0M529.7 165.4h0M529.9 165.5h0M530.1 164.5h0M530.0 164.4h0M530.6 164.9h0M530.6 166.0h0M530.7 169.1h0M531.0 167.4h0M531.1 166.1h0M531.3 168.8h0M531.3 169.1h0M531.7 167.7h0M531.6 168.8h0M531.9 168.3h0M531.8 167.1h0M532.0 168.7h0M531.8 171.2h0M532.4 169.4h0M532.6 169.4h0M532.4 170.9h0M532.4 169.4h0M532.8 169.1h0M533.2 172.0h0M533.0 170.2h0M533.1 171.3h0M533.2 172.3h0M533.4 171.2h0M533.5 170.8h0M533.6 171.0h0M533.8 172.5h0M534.0 173.4h0M534.1 172.9h0M534.5 174.2h0M534.2 174.2h0M534.7 174.2h0M534.8 175.8h0M535.1 176.5h0M534.8 177.2h0M535.1 177.0h0M535.4 178.1h0M535.6 179.0h0M535.8 177.7h0M535.8 177.0h0M535.9 177.2h0M535.9 178.3h0M536.4 180.7h0M536.5 181.6h0M536.3 180.1h0M536.9 182.0h0M537.0 180.2h0M537.0 181.3h0M536.9 183.8h0M537.0 180.8h0M537.3 181.2h0M537.4 181.0h0M537.7 182.8h0M537.7 182.6h0M537.7 183.2h0M538.0 185.8h0M538.2 187.8h0M538.1 189.6h0M538.3 189.4h0M538.6 192.0h0M538.7 191.4h0M539.1 192.9h0M538.9 192.4h0M539.3 189.7h0M539.3 189.9h0M539.2 190.2h0M539.6 190.9h0M539.9 189.7h0M539.7 188.6h0M540.3 191.2h0M540.2 192.3h0M540.6 195.7h0M540.8 197.3h0M540.9 197.1h0M540.7 200.8h0M540.7 201.9h0M541.1 205.9h0M541.2 204.5h0M541.2 208.0h0M541.7 209.2h0M541.8 208.9h0M541.7 207.8h0M542.0 208.8h0M542.3 211.8h0M542.0 213.0h0M542.5 214.1h0M542.6 215.1h0M543.3 215.6h0M543.4 216.5h0M543.3 217.9h0M457.1 160.0h0M457.8 165.0h0M457.7 170.0h0M458.6 217.0h0M457.6 308.0h0M458.5 390.5h0M481.3 160.0h0M481.0 167.0h0M432.6 276.0h0M541.8 297.5h0M541.9 292.5h0M543.3 264.5h0M541.6 271.8h0M541.7 266.8h0M541.7 314.8h0M542.2 314.8h0M542.5 267.3h0M542.5 358.4h0M541.9 233.9h0M542.6 223.3h0M541.3 347.3h0M541.5 243.6h0M543.0 285.6h0M543.0 224.6h0M542.4 264.7h0M550.5 307.4h0M549.7 244.5h0M549.8 302.5h0M550.2 334.5h0M550.4 335.7h0M550.3 359.9h0M551.0 378.5h0M550.1 277.8h0M549.7 201.0h0M550.1 203.0h0M580.9 328.0h0M580.2 360.0h0M580.4 361.0h0M588.1 340.0h0M588.0 312.0h0M587.7 379.0h0M616.0 374.2h0M614.7 374.1h0M617.4 385.3h0M619.1 382.0h0M621.5 388.1h0M618.8 391.1h0M617.1 379.9h0M617.4 379.7h0M620.5 376.6h0M615.2 390.3h0M620.3 372.8h0M614.7 381.6h0M616.1 380.0h0M619.5 367.7h0M617.7 355.0h0M643.3 370.2h0M642.2 355.4h0M643.1 355.6h0M642.7 361.9h0M643.2 378.2h0" stroke="#00ff00" stroke-width="3.1" stroke-linecap="round" fill="none"/>
<path d="M302.9 387.8h0M303.7 387.4h0M304.8 390.1h0M305.3 389.6h0M305.7 391.3h0M305.9 389.7h0M306.1 390.1h0M305.9 384.2h0M306.0 385.1h0M306.4 386.4h0M306.3 386.4h0M306.8 391.7h0M307.1 390.3h0M306.9 378.9h0M306.9 365.5h0M307.3 371.7h0M307.3 355.2h0M307.4 375.4h0M307.8 364.9h0M307.8 373.5h0M308.2 387.4h0M307.8 371.1h0M308.3 381.4h0M308.6 372.8h0M308.6 366.4h0M308.4 373.7h0M308.6 383.7h0M309.0 389.0h0M309.1 389.7h0M309.2 367.2h0M309.1 360.6h0M309.4 361.2h0M309.9 386.4h0M309.9 386.7h0M309.6 384.9h0M310.3 390.5h0M310.1 386.0h0M310.0 385.0h0M310.2 384.0h0M310.8 387.0h0M310.9 382.7h0M310.7 390.2h0M311.2 391.1h0M311.2 390.4h0M311.3 389.5h0M311.6 384.0h0M311.8 388.7h0M311.8 384.4h0M311.9 384.3h0M311.8 391.6h0M312.0 391.7h0M312.6 386.7h0M312.5 386.6h0M312.8 389.5h0M313.1 385.4h0M312.8 390.4h0M313.3 391.8h0M313.3 381.6h0M313.3 382.4h0M313.5 384.4h0M313.9 383.5h0M313.6 382.0h0M313.8 386.9h0M314.3 388.1h0M314.4 390.6h0M314.3 381.0h0M314.5 382.7h0M314.4 387.2h0M314.9 383.8h0M315.0 383.5h0M314.9 386.4h0M315.2 388.6h0M315.5 385.8h0M315.7 384.5h0M315.5 383.1h0M315.6 392.0h0M316.2 392.3h0M316.0 385.3h0M316.5 382.4h0M316.3 386.4h0M316.6 390.2h0M316.5 391.2h0M316.5 384.1h0M317.2 386.4h0M317.2 383.1h0M315.1 384.2h0M315.7 380.8h0M315.5 381.7h0M315.7 382.1h0M315.5 384.1h0M315.5 382.9h0M316.4 375.0h0M315.7 378.7h0M316.2 377.5h0M316.6 372.8h0M316.7 367.7h0M316.0 375.0h0M316.4 371.0h0M316.5 369.1h0M317.2 367.6h0M317.7 356.7h0M317.3 365.6h0M318.3 353.5h0M317.3 366.0h0M317.8 359.4h0M318.0 360.5h0M316.4 376.1h0M316.5 372.8h0M316.5 371.7h0M317.5 360.2h0M319.3 345.6h0M318.7 352.4h0M317.3 366.3h0M317.9 358.2h0M319.0 352.3h0M318.5 356.8h0M320.0 329.9h0M318.6 355.3h0M319.3 349.6h0M318.5 358.0h0M320.4 325.0h0M319.4 346.2h0M318.6 352.8h0M319.6 348.4h0M320.1 324.9h0M320.5 315.5h0M319.0 353.0h0M319.0 352.8h0M321.7 295.6h0M319.8 339.5h0M320.3 322.8h0M319.4 352.8h0M320.0 335.2h0M319.6 341.2h0M321.1 302.4h0M321.4 291.3h0M320.6 311.7h0M321.3 300.3h0M322.8 281.5h0M321.8 290.5h0M322.9 277.4h0M322.7 270.9h0M320.4 306.1h0M320.7 311.3h0M320.2 309.4h0M321.2 303.9h0M323.2 282.0h0M323.6 274.5h0M323.8 262.9h0M322.3 281.3h0M322.7 278.9h0M321.9 296.3h0M323.7 262.8h0M323.0 278.7h0M323.3 272.4h0M323.9 268.1h0M323.6 267.1h0M322.4 293.0h0M324.2 251.7h0M322.3 292.7h0M322.5 292.0h0M322.8 276.2h0M323.8 267.1h0M324.8 258.1h0M324.0 267.8h0M324.7 270.9h0M324.9 252.1h0M324.2 259.7h0M325.4 258.0h0M324.2 269.8h0M325.3 252.0h0M325.3 270.1h0M325.3 259.9h0M325.1 264.6h0M325.6 253.7h0M325.6 256.6h0M325.6 258.5h0M325.8 269.4h0M326.0 252.1h0M326.7 264.2h0M326.3 257.7h0M326.6 265.3h0M326.8 247.8h0M326.2 259.4h0M326.4 250.2h0M326.7 248.5h0M327.0 264.4h0M326.7 263.8h0M326.8 265.8h0M326.7 247.8h0M327.9 249.4h0M327.2 249.9h0M327.5 258.8h0M327.4 256.6h0M327.2 263.9h0M327.4 249.9h0M328.5 250.2h0M327.6 259.6h0M328.8 248.4h0M328.4 247.1h0M328.2 248.3h0M328.6 257.1h0M328.0 249.4h0M328.1 263.5h0M329.1 269.3h0M329.5 263.9h0M329.2 260.4h0M328.8 266.6h0M329.1 254.4h0M330.0 257.2h0M329.8 257.2h0M329.5 256.3h0M329.8 259.6h0M330.2 251.2h0M329.6 251.9h0M329.7 260.7h0M329.6 264.9h0M329.9 255.7h0M330.7 276.2h0M330.2 254.6h0M330.7 255.7h0M331.1 259.4h0M331.5 280.0h0M330.7 262.1h0M331.8 277.0h0M331.5 281.1h0M331.7 278.8h0M331.4 270.6h0M331.4 275.6h0M331.9 287.2h0M332.2 291.8h0M332.2 292.4h0M331.7 283.7h0M331.9 280.8h0M332.3 289.1h0M332.5 294.8h0M333.2 306.2h0M333.0 305.0h0M332.7 303.2h0M333.0 304.0h0M332.6 299.0h0M332.7 306.7h0M333.0 307.8h0M332.8 305.9h0M333.8 309.9h0M334.1 310.8h0M333.6 307.6h0M333.9 315.3h0M333.4 308.0h0M334.4 315.7h0M334.5 317.9h0M333.8 311.6h0M334.5 317.5h0M334.2 312.2h0M334.1 313.6h0M335.0 321.6h0M334.5 315.6h0M334.7 321.7h0M335.0 323.1h0M334.8 319.8h0M335.8 324.9h0M335.7 322.3h0M336.2 327.8h0M335.9 324.1h0M335.9 324.9h0M335.8 327.5h0M335.4 325.0h0M335.5 325.7h0M336.7 332.7h0M336.4 333.5h0M336.3 327.1h0M336.4 328.7h0M337.0 339.2h0M337.5 341.4h0M337.3 341.6h0M336.7 331.5h0M337.2 342.7h0M337.2 344.3h0M337.6 344.3h0M337.4 343.5h0M337.6 346.2h0M337.7 344.7h0M337.6 343.6h0M338.1 341.8h0M337.9 343.7h0M338.3 338.7h0M338.7 336.8h0M338.5 338.8h0M338.7 340.6h0M338.6 340.1h0M338.2 342.0h0M339.0 335.7h0M338.7 341.1h0M338.5 338.3h0M339.8 330.2h0M339.1 332.5h0M339.9 325.7h0M339.8 325.5h0M339.9 326.1h0M340.3 324.8h0M339.9 326.6h0M339.3 328.7h0M340.0 319.6h0M340.2 318.2h0M340.9 315.4h0M340.1 323.2h0M340.4 314.7h0M341.0 308.7h0M341.1 312.8h0M341.6 307.7h0M341.2 311.1h0M340.7 314.6h0M341.4 309.3h0M341.3 307.7h0M341.1 309.7h0M341.2 302.4h0M342.1 289.7h0M342.1 277.3h0M341.4 302.5h0M341.8 300.7h0M341.7 300.1h0M342.4 278.8h0M341.9 285.5h0M342.3 281.7h0M342.5 272.4h0M342.6 269.8h0M342.8 270.5h0M342.8 270.3h0M342.5 271.6h0M343.1 271.6h0M343.3 272.9h0M343.1 264.6h0M343.9 264.0h0M343.4 259.7h0M343.5 258.0h0M343.9 257.5h0M344.0 266.7h0M343.9 261.1h0M343.7 258.4h0M343.9 264.4h0M344.0 269.2h0M344.0 266.1h0M345.0 260.6h0M345.2 260.5h0M344.9 262.0h0M344.8 258.8h0M344.5 265.3h0M345.1 261.6h0M345.6 273.9h0M346.2 268.8h0M345.6 272.5h0M345.8 271.9h0M345.9 264.5h0M345.4 268.2h0M346.6 262.3h0M346.5 269.0h0M346.3 263.6h0M346.6 275.5h0M346.4 263.1h0M347.1 271.5h0M346.6 267.7h0M346.7 274.3h0M347.4 282.3h0M346.6 278.8h0M346.9 276.3h0M347.4 274.2h0M347.5 274.4h0M347.6 285.8h0M348.0 283.0h0M347.4 274.3h0M348.5 286.7h0M347.9 285.8h0M347.8 286.1h0M347.8 282.2h0M348.8 291.9h0M348.4 288.7h0M348.9 289.3h0M348.1 282.2h0M348.9 288.5h0M348.6 287.3h0M349.5 291.8h0M348.9 287.1h0M349.8 293.0h0M349.2 285.1h0M348.9 288.1h0M349.1 294.9h0M349.8 295.7h0M350.0 293.6h0M350.2 301.5h0M350.1 300.3h0M350.1 298.8h0M350.0 297.3h0M350.5 301.6h0M350.8 304.0h0M350.5 300.6h0M350.3 302.4h0M350.7 303.0h0M351.3 306.2h0M350.8 302.0h0M351.2 308.0h0M351.4 306.7h0M351.9 309.8h0M351.5 306.0h0M351.3 306.5h0M351.2 307.1h0M352.2 313.0h0M351.8 308.8h0M352.3 311.4h0M352.3 311.8h0M352.1 311.5h0M352.3 312.0h0M352.4 311.7h0M352.4 311.1h0M352.4 312.7h0M352.7 314.9h0M352.9 312.2h0M352.7 312.6h0M353.1 314.7h0M353.7 315.3h0M352.9 313.9h0M353.7 313.1h0M353.9 319.1h0M353.5 317.8h0M354.0 319.6h0M353.8 318.3h0M354.1 318.4h0M354.5 320.6h0M354.5 319.8h0M354.5 319.1h0M355.0 323.7h0M354.6 319.7h0M354.4 319.4h0M354.6 319.6h0M354.7 321.0h0M355.6 322.0h0M355.0 321.5h0M355.5 324.7h0M356.0 324.5h0M355.2 323.2h0M356.0 324.0h0M355.9 324.1h0M355.8 325.7h0M356.1 327.2h0M356.0 325.0h0M356.7 323.5h0M356.6 325.5h0M356.4 326.3h0M356.4 325.1h0M357.1 326.9h0M357.1 326.3h0M356.8 266.6h0M357.2 273.7h0M357.1 263.8h0M357.4 270.2h0M357.5 266.8h0M357.5 264.4h0M357.5 244.5h0M357.5 251.1h0M357.5 256.1h0M357.9 233.6h0M358.0 238.5h0M358.0 242.1h0M358.0 238.8h0M358.0 230.2h0M358.2 246.7h0M358.0 237.3h0M358.1 232.3h0M358.3 236.1h0M358.3 244.6h0M358.6 243.4h0M358.7 254.4h0M358.6 252.5h0M358.5 242.4h0M359.0 244.6h0M359.1 237.7h0M358.9 254.4h0M359.0 260.4h0M359.0 260.3h0M359.0 271.3h0M359.1 281.4h0M359.4 292.8h0M359.7 292.8h0M359.4 287.4h0M359.8 285.2h0M359.7 272.7h0M359.8 275.8h0M359.7 272.0h0M360.0 278.4h0M360.3 272.9h0M360.1 267.5h0M360.1 257.7h0M360.4 245.7h0M360.3 259.6h0M360.5 251.4h0M360.4 248.4h0M360.5 238.3h0M360.6 237.5h0M360.9 247.8h0M361.0 245.5h0M360.7 234.7h0M360.9 244.7h0M361.3 235.9h0M361.4 257.1h0M361.4 264.8h0M361.4 260.7h0M361.5 279.0h0M361.6 265.3h0M361.6 281.7h0M361.4 279.9h0M361.5 298.2h0M361.7 296.0h0M361.9 291.0h0M361.9 250.5h0M362.0 223.9h0M362.4 224.6h0M362.1 240.8h0M362.2 248.3h0M362.3 263.9h0M362.5 275.4h0M362.3 279.5h0M362.6 279.4h0M362.8 274.6h0M362.5 283.8h0M363.0 272.5h0M363.1 286.8h0M363.2 286.3h0M363.3 272.0h0M363.1 284.4h0M363.2 276.1h0M363.4 285.3h0M363.2 274.8h0M363.5 272.3h0M363.8 277.7h0M363.4 282.8h0M363.6 280.8h0M363.8 268.8h0M363.9 266.2h0M364.2 257.8h0M364.0 251.6h0M364.0 229.2h0M364.2 221.8h0M364.1 232.9h0M364.2 233.4h0M364.7 226.3h0M364.6 220.8h0M364.7 218.0h0M364.6 219.3h0M364.7 226.9h0M364.7 224.7h0M364.9 228.5h0M365.2 231.5h0M365.2 243.6h0M365.4 264.0h0M365.0 262.1h0M365.3 265.9h0M365.2 267.0h0M365.3 276.5h0M365.4 292.8h0M365.6 299.9h0M365.7 295.7h0M365.9 300.8h0M365.7 302.1h0M365.8 294.2h0M365.9 303.8h0M366.4 294.9h0M366.0 305.7h0M366.3 304.0h0M366.1 300.6h0M366.5 301.3h0M366.4 306.8h0M366.7 312.8h0M366.6 302.6h0M366.8 282.3h0M366.6 267.4h0M366.9 257.5h0M367.1 232.0h0M367.2 204.7h0M367.2 208.6h0M367.4 204.3h0M367.4 226.0h0M367.5 265.2h0M367.3 288.1h0M367.7 299.8h0M367.4 304.4h0M367.9 294.4h0M367.6 280.1h0M367.6 280.6h0M368.1 275.8h0M367.9 279.8h0M367.9 291.4h0M368.4 287.4h0M368.5 291.6h0M368.6 291.5h0M368.2 281.1h0M368.8 263.5h0M368.8 257.4h0M368.5 229.9h0M368.7 217.9h0M368.8 223.7h0M368.9 221.3h0M369.0 241.7h0M368.9 249.7h0M369.1 259.3h0M369.3 280.0h0M369.4 287.0h0M369.3 291.0h0M369.7 290.3h0M369.4 298.2h0M369.8 293.6h0M369.5 296.1h0M369.7 310.2h0M370.0 306.1h0M370.1 309.2h0M369.8 292.2h0M370.2 274.6h0M370.0 266.3h0M370.5 243.0h0M370.5 256.6h0M370.6 258.6h0M370.7 265.2h0M370.8 266.0h0M370.5 274.4h0M370.7 269.8h0M370.6 265.7h0M371.1 242.8h0M371.0 249.4h0M371.0 242.4h0M370.9 252.5h0M371.0 251.9h0M371.4 253.4h0M371.6 248.4h0M371.6 257.7h0M371.3 279.5h0M371.6 295.3h0M371.9 300.1h0M371.7 301.7h0M372.0 297.7h0M372.0 291.8h0M372.1 280.8h0M372.1 269.2h0M372.4 246.3h0M372.1 228.0h0M372.6 222.0h0M372.6 232.5h0M372.8 251.1h0M372.8 283.1h0M372.4 291.9h0M372.7 283.4h0M372.8 282.0h0M372.7 287.7h0M372.9 273.4h0M373.2 265.8h0M373.3 268.2h0M373.3 273.1h0M373.3 278.2h0M373.2 266.4h0M373.3 273.3h0M373.4 282.5h0M373.5 280.5h0M373.8 280.4h0M373.7 273.1h0M373.9 287.4h0M373.8 281.1h0M374.1 286.1h0M373.9 283.0h0M374.0 285.4h0M374.2 285.1h0M374.2 279.3h0M374.7 262.7h0M374.4 273.5h0M374.8 269.5h0M374.6 260.7h0M374.9 257.0h0M374.9 257.8h0M374.9 264.1h0M375.0 267.4h0M374.9 277.0h0M375.1 270.2h0M375.1 276.7h0M375.2 276.8h0M375.4 281.6h0M375.7 289.4h0M375.6 300.5h0M375.4 300.5h0M375.7 306.8h0M375.6 311.4h0M375.8 299.2h0M376.1 303.0h0M376.2 303.8h0M376.1 300.9h0M376.3 289.8h0M376.3 290.8h0M376.5 296.9h0M376.6 278.7h0M376.7 274.5h0M376.7 255.5h0M376.5 257.3h0M376.9 250.1h0M376.8 266.8h0M376.7 283.8h0M377.0 288.9h0M377.2 303.5h0M377.4 305.5h0M377.3 307.8h0M377.2 308.9h0M377.5 301.8h0M377.7 291.3h0M377.8 267.3h0M377.8 250.6h0M377.9 247.7h0M377.7 250.5h0M378.1 244.5h0M377.7 254.3h0M378.1 251.7h0M378.2 255.6h0M378.4 250.4h0M378.1 258.7h0M378.6 273.2h0M378.3 282.1h0M378.8 279.8h0M378.5 289.5h0M378.8 281.9h0M378.7 276.8h0M378.7 285.1h0M378.9 284.8h0M379.0 277.0h0M379.3 274.1h0M378.9 285.2h0M379.2 281.3h0M379.4 278.2h0M379.5 266.1h0M379.2 263.4h0M379.6 261.5h0M379.6 264.3h0M379.9 266.1h0M379.6 259.0h0M380.1 243.8h0M380.2 256.4h0M380.2 246.9h0M379.9 267.2h0M380.3 274.3h0M380.5 291.0h0M380.2 296.4h0M380.5 301.4h0M380.5 304.1h0M380.8 300.2h0M380.7 290.6h0M380.8 287.9h0M380.6 293.6h0M380.8 293.3h0M381.0 286.2h0M381.3 264.6h0M381.1 249.5h0M381.1 241.4h0M381.3 214.4h0M381.5 226.1h0M381.7 229.2h0M381.7 255.5h0M381.6 275.2h0M381.9 290.3h0M381.6 299.2h0M381.9 303.6h0M381.8 302.9h0M382.1 296.9h0M382.1 288.1h0M382.1 290.8h0M382.2 283.6h0M382.5 293.6h0M382.5 275.3h0M382.7 258.8h0M382.8 246.8h0M382.8 249.9h0M382.6 256.4h0M383.0 262.0h0M382.9 286.1h0M382.8 276.0h0M383.3 283.6h0M383.0 260.3h0M383.4 264.3h0M383.4 261.0h0M383.4 245.5h0M383.3 261.1h0M383.7 248.9h0M383.8 249.9h0M383.7 253.4h0M383.9 261.8h0M383.8 262.0h0M384.2 268.9h0M384.3 267.0h0M384.0 274.4h0M384.3 274.1h0M384.3 267.3h0M384.5 240.7h0M384.4 245.9h0M384.7 250.4h0M384.4 270.0h0M384.6 278.8h0M384.6 291.7h0M384.9 295.1h0M385.0 293.3h0M385.1 303.6h0M384.9 302.1h0M385.3 304.5h0M385.3 309.6h0M385.2 300.8h0M385.2 295.0h0M385.4 288.3h0M385.5 274.6h0M385.5 285.1h0M385.7 273.1h0M386.0 258.3h0M386.0 245.5h0M385.9 224.3h0M386.2 214.2h0M386.0 226.4h0M386.0 215.1h0M386.3 218.6h0M386.3 222.0h0M386.3 224.2h0M386.6 216.2h0M386.5 241.2h0M386.8 274.5h0M387.0 276.8h0M386.9 256.6h0M387.2 243.2h0M387.3 225.4h0M387.3 214.1h0M387.3 216.9h0M387.3 218.9h0M387.8 212.1h0M387.7 229.2h0M387.9 230.8h0M387.7 225.6h0M388.1 238.0h0M387.7 240.7h0M388.3 249.3h0M388.3 241.7h0M388.5 251.4h0M388.5 269.6h0M388.5 266.7h0M388.5 283.5h0M388.6 275.6h0M388.8 283.4h0M388.7 275.8h0M388.8 285.9h0M389.0 288.4h0M388.9 263.8h0M389.3 257.1h0M389.2 237.3h0M389.2 249.9h0M389.4 261.1h0M389.3 281.7h0M389.5 285.4h0M389.5 278.0h0M389.7 285.2h0M389.7 285.3h0M390.2 279.3h0M390.3 280.7h0M389.9 283.7h0M390.5 272.8h0M390.3 274.2h0M390.6 276.1h0M390.4 278.4h0M390.6 282.4h0M390.8 264.1h0M390.7 266.2h0M390.8 264.6h0M391.2 270.0h0M390.9 271.3h0M390.9 269.2h0M391.1 264.3h0M391.5 242.5h0M391.6 245.9h0M391.5 236.0h0M391.5 211.0h0M391.7 194.6h0M391.6 175.8h0M391.9 221.6h0M391.8 258.7h0M392.1 271.1h0M392.3 236.0h0M392.3 188.2h0M392.4 179.1h0M392.4 224.0h0M392.5 264.8h0M392.4 271.9h0M392.7 277.6h0M392.6 280.9h0M393.0 276.8h0M392.9 282.8h0M393.2 278.4h0M393.3 291.1h0M393.4 292.3h0M393.5 297.2h0M393.5 292.7h0M393.6 299.6h0M393.4 292.0h0M393.8 285.5h0M393.8 288.4h0M393.9 286.7h0M394.0 270.0h0M394.1 240.6h0M394.2 217.3h0M394.1 220.8h0M394.3 200.6h0M394.4 207.4h0M394.4 201.6h0M394.4 213.8h0M394.5 224.3h0M394.7 236.2h0M394.8 270.6h0M394.7 284.8h0M395.0 281.3h0M395.1 263.9h0M395.1 239.5h0M395.1 236.6h0M395.2 190.9h0M395.7 180.4h0M395.4 204.7h0M395.9 275.0h0M396.0 295.3h0M395.8 291.6h0M395.7 289.5h0M396.1 289.3h0M395.9 284.7h0M396.2 285.8h0M396.2 294.9h0M396.4 291.7h0M396.4 300.4h0M396.8 312.4h0M396.8 295.4h0M396.8 269.7h0M396.6 206.6h0M397.0 178.1h0M397.2 165.1h0M397.0 201.0h0M397.1 270.5h0M397.0 316.9h0M397.5 327.4h0M397.4 302.4h0M397.6 284.4h0M397.7 280.3h0M397.9 263.3h0M397.6 252.6h0M397.8 226.5h0M397.8 199.4h0M398.3 203.0h0M397.9 177.6h0M398.0 184.2h0M398.5 179.0h0M398.3 196.2h0M398.3 194.3h0M398.4 185.8h0M398.5 200.8h0M398.6 225.7h0M398.8 248.5h0M399.2 246.9h0M399.3 248.8h0M399.2 249.3h0M399.1 253.9h0M399.4 260.6h0M399.2 261.9h0M399.7 250.2h0M399.7 269.8h0M399.9 270.3h0M399.8 275.1h0M399.7 265.7h0M400.0 279.3h0M400.2 269.9h0M400.4 270.6h0M400.1 282.8h0M400.1 277.4h0M400.5 283.5h0M400.6 272.7h0M400.5 246.1h0M400.5 231.1h0M400.5 221.1h0M401.0 203.2h0M400.8 203.9h0M401.2 197.1h0M401.3 180.2h0M401.2 179.6h0M401.3 157.2h0M401.3 171.2h0M401.5 199.7h0M401.5 199.3h0M401.6 201.0h0M401.6 216.8h0M401.9 236.9h0M402.0 245.3h0M402.0 226.9h0M402.1 220.1h0M402.3 192.6h0M402.5 180.7h0M402.3 178.0h0M402.7 175.5h0M402.5 183.2h0M402.9 225.2h0M402.7 257.5h0M402.9 265.3h0M403.0 247.0h0M402.9 252.0h0M403.0 256.3h0M403.3 253.5h0M403.1 237.9h0M403.5 256.4h0M403.4 287.9h0M403.8 318.1h0M403.8 313.4h0M404.0 315.3h0M404.0 298.1h0M403.9 286.7h0M404.0 266.2h0M404.1 258.4h0M404.1 257.4h0M404.2 244.6h0M404.2 234.3h0M404.3 206.7h0M404.5 181.9h0M404.8 186.7h0M404.7 162.8h0M404.7 179.0h0M404.8 194.0h0M405.2 222.2h0M404.9 205.0h0M405.4 200.3h0M405.1 174.2h0M405.1 173.5h0M405.5 170.5h0M405.7 163.1h0M405.5 185.7h0M405.6 176.7h0M405.6 192.1h0M405.8 184.3h0M405.9 174.4h0M406.3 176.1h0M406.2 184.5h0M406.2 237.2h0M406.5 290.5h0M406.2 310.2h0M406.8 310.9h0M406.5 308.4h0M406.8 293.7h0M407.0 287.0h0M407.1 268.7h0M406.8 261.2h0M406.7 155.4h0M406.9 159.0h0M407.3 168.7h0M407.6 180.3h0M407.1 184.9h0M407.4 186.5h0M407.6 182.4h0M407.5 177.2h0M408.0 171.1h0M408.0 166.1h0M408.2 164.2h0M407.8 163.2h0M408.1 161.6h0M408.3 159.5h0M408.3 158.8h0M408.3 158.0h0M408.3 159.0h0M408.6 156.9h0M408.9 155.2h0M408.9 154.0h0M408.8 153.7h0M408.8 155.1h0M408.9 154.5h0M409.2 156.0h0M409.0 156.2h0M409.6 154.2h0M409.4 155.9h0M409.4 153.2h0M409.6 153.1h0M409.8 154.4h0M409.7 153.7h0M410.0 151.7h0M410.1 151.6h0M410.1 152.4h0M410.1 153.9h0M410.2 153.7h0M410.6 153.7h0M410.7 152.0h0M410.9 154.1h0M410.9 154.3h0M410.5 154.7h0M410.9 152.8h0M410.9 153.9h0M411.2 153.0h0M411.4 154.9h0M411.0 155.7h0M411.5 153.6h0M411.7 153.7h0M411.6 155.9h0M411.7 155.3h0M411.5 154.4h0M412.1 152.9h0M411.8 153.4h0M412.2 153.5h0M412.0 153.3h0M411.9 155.2h0M412.3 155.6h0M412.3 159.0h0M412.7 159.0h0M412.9 161.0h0M412.8 162.3h0M412.6 162.3h0M412.8 164.0h0M412.8 166.5h0M413.1 168.8h0M413.2 169.7h0M413.0 164.8h0M413.5 159.6h0M413.7 154.2h0M413.6 154.9h0M413.5 153.4h0M413.5 155.0h0M413.5 153.7h0M413.8 155.0h0M413.8 154.4h0M414.2 154.4h0M414.5 155.5h0M414.3 156.4h0M414.6 155.8h0M414.6 153.8h0M414.6 152.0h0M414.7 152.3h0M414.6 151.2h0M415.1 151.3h0M414.8 151.5h0M415.2 152.7h0M415.2 157.1h0M415.1 165.0h0M415.3 171.1h0M415.3 177.5h0M415.3 180.6h0M415.8 178.6h0M415.9 175.5h0M415.9 170.3h0M416.0 166.2h0M416.0 158.1h0M416.3 155.0h0M416.2 150.5h0M416.3 150.7h0M416.4 151.2h0M416.7 153.7h0M416.9 155.6h0M416.9 158.5h0M416.8 158.1h0M416.7 156.4h0M416.8 156.7h0M417.0 156.6h0M417.0 158.4h0M417.4 157.5h0M417.1 156.7h0M417.7 157.0h0M417.4 155.4h0M417.3 154.6h0M417.9 155.0h0M417.7 151.6h0M418.1 150.5h0M418.1 151.9h0M418.0 151.6h0M418.5 151.4h0M418.1 151.0h0M418.5 151.5h0M418.6 150.7h0M418.5 153.5h0M419.0 157.8h0M418.8 162.5h0M418.9 166.1h0M418.9 165.7h0M419.2 163.5h0M419.0 158.8h0M419.0 154.5h0M419.5 151.4h0M419.7 150.9h0M419.4 149.8h0M419.9 150.2h0M419.8 151.4h0M419.9 151.1h0M420.2 153.0h0M420.2 152.1h0M419.9 153.2h0M420.1 152.2h0M420.6 153.6h0M420.6 154.6h0M420.4 154.3h0M420.5 154.4h0M420.5 152.6h0M420.6 153.0h0M420.7 153.1h0M421.0 152.6h0M421.0 150.5h0M421.4 150.6h0M421.0 151.9h0M421.2 153.7h0M421.4 158.3h0M421.3 160.1h0M421.7 158.2h0M421.8 159.3h0M421.9 155.6h0M422.2 154.0h0M421.8 152.5h0M421.8 153.1h0M422.5 153.3h0M422.6 153.3h0M422.7 154.6h0M422.5 155.4h0M422.3 154.7h0M422.9 156.6h0M422.5 156.5h0M422.8 156.3h0M422.8 157.6h0M423.0 157.6h0M423.1 156.5h0M423.1 158.7h0M423.1 161.1h0M423.2 164.8h0M423.6 166.9h0M423.8 165.2h0M424.0 165.1h0M423.5 165.4h0M423.7 164.6h0M424.1 162.3h0M424.1 161.3h0M424.4 161.4h0M424.1 161.1h0M424.4 160.5h0M424.6 161.6h0M424.3 159.1h0M424.9 161.0h0M424.5 158.2h0M424.8 159.3h0M424.7 157.3h0M424.8 153.7h0M424.9 149.4h0M425.2 146.5h0M425.5 146.9h0M425.4 146.6h0M425.3 148.1h0M425.6 151.0h0M425.8 154.2h0M425.9 157.0h0M426.2 157.9h0M426.0 157.9h0M426.1 158.0h0M426.0 155.4h0M426.6 156.0h0M426.5 153.9h0M426.3 158.4h0M426.5 160.7h0M426.4 162.7h0M427.0 160.8h0M427.0 159.3h0M426.9 157.0h0M426.9 155.8h0M426.9 152.5h0M427.3 150.6h0M427.0 150.0h0M427.5 150.6h0M427.3 151.5h0M427.4 152.0h0M427.5 153.6h0M427.9 155.2h0M428.2 154.3h0M428.1 153.9h0M428.3 154.8h0M428.0 154.1h0M428.0 154.8h0M428.6 155.8h0M428.4 155.8h0M428.6 154.9h0M428.7 155.2h0M428.7 156.7h0M428.7 156.0h0M428.7 157.2h0M429.2 156.2h0M429.0 156.5h0M429.2 157.6h0M429.5 156.0h0M429.4 154.9h0M429.8 151.3h0M429.7 145.7h0M429.7 143.4h0M429.9 143.5h0M429.8 142.1h0M429.8 143.8h0M430.2 144.3h0M430.3 143.9h0M430.1 143.0h0M430.2 146.2h0M430.4 147.9h0M430.7 150.7h0M430.4 152.9h0M430.6 153.9h0M431.1 156.3h0M431.0 155.8h0M431.3 154.8h0M431.2 152.6h0M431.0 149.0h0M431.4 144.9h0M431.4 142.8h0M431.3 143.7h0M431.6 141.0h0M432.0 139.9h0M432.1 139.4h0M432.1 138.6h0M432.3 140.4h0M432.6 138.3h0M432.4 141.2h0M432.5 140.1h0M433.1 138.8h0M432.7 139.9h0M432.8 138.2h0M433.1 138.7h0M433.2 140.2h0M433.6 139.6h0M433.4 140.7h0M433.6 139.4h0M434.1 137.9h0M433.9 137.7h0M434.0 139.7h0M434.6 138.6h0M434.4 138.1h0M434.4 138.5h0M434.8 140.0h0M434.9 137.5h0M435.2 136.7h0M435.1 139.4h0M435.2 138.0h0M435.8 137.9h0M435.7 139.0h0M435.9 137.1h0M435.7 137.4h0M436.1 140.4h0M436.1 138.6h0M436.3 140.9h0M436.5 138.5h0M436.5 138.3h0M436.7 138.0h0M437.0 137.2h0M437.3 139.1h0M437.1 136.7h0M437.4 136.5h0M437.5 138.0h0M437.6 138.1h0M437.8 136.2h0M438.2 137.3h0M437.9 138.4h0M438.4 137.8h0M438.3 140.0h0M438.7 139.0h0M438.6 136.6h0M438.5 138.9h0M439.1 136.2h0M439.3 136.8h0M439.3 137.5h0M439.2 136.3h0M439.6 138.9h0M439.9 138.9h0M440.0 138.3h0M440.0 139.4h0M440.0 138.6h0M440.1 138.0h0M440.6 137.9h0M440.6 136.9h0M440.5 135.7h0M440.9 137.5h0M440.8 135.9h0M441.3 135.6h0M441.4 137.1h0M441.3 137.3h0M441.2 135.5h0M441.5 137.8h0M441.7 137.6h0M442.0 136.4h0M442.0 138.8h0M442.4 138.0h0M442.3 137.7h0M442.8 139.0h0M442.4 140.6h0M442.7 139.4h0M442.9 137.5h0M443.2 139.4h0M443.0 138.8h0M443.5 138.3h0M443.8 137.4h0M443.5 135.5h0M444.0 135.7h0M444.0 137.0h0M444.1 136.2h0M444.1 137.7h0M444.4 138.7h0M444.6 137.0h0M444.4 140.6h0M444.9 140.2h0M445.1 138.6h0M444.9 139.0h0M445.3 140.4h0M445.3 140.0h0M445.7 139.4h0M445.9 136.1h0M445.5 137.6h0M446.0 137.0h0M446.0 136.9h0M446.2 137.2h0M446.1 137.6h0M446.5 138.8h0M446.9 139.4h0M446.8 140.9h0M447.1 139.8h0M447.2 137.7h0M447.3 139.9h0M447.1 139.7h0M447.3 138.5h0M447.9 136.8h0M447.9 137.8h0M448.1 139.2h0M448.0 138.8h0M448.1 138.4h0M448.2 139.2h0M448.6 139.0h0M448.9 137.3h0M448.7 137.5h0M448.9 139.6h0M448.9 140.9h0M449.1 139.0h0M449.6 141.0h0M449.2 140.4h0M449.5 140.0h0M449.9 138.8h0M450.2 139.7h0M450.3 140.2h0M450.0 137.2h0M450.6 136.8h0M450.5 136.1h0M450.9 139.6h0M450.9 140.0h0M450.9 139.1h0M451.2 139.6h0M451.1 140.1h0M451.7 141.3h0M451.3 140.2h0M451.5 140.9h0M451.7 137.8h0M452.2 138.8h0M451.9 138.5h0M452.0 140.1h0M452.1 141.7h0M452.3 140.2h0M452.5 143.0h0M452.8 142.0h0M453.0 140.9h0M453.3 141.5h0M453.4 140.9h0M453.3 139.0h0M453.4 140.0h0M453.5 138.8h0M453.7 141.5h0M454.1 138.7h0M454.3 141.0h0M454.0 142.6h0M454.3 142.5h0M454.6 142.2h0M454.6 143.7h0M455.1 144.7h0M454.9 141.7h0M455.0 142.8h0M455.1 143.0h0M455.2 145.3h0M455.7 144.7h0M455.9 144.6h0M455.6 144.9h0M456.1 145.1h0M456.1 146.5h0M456.5 145.4h0M456.6 146.4h0M456.8 144.5h0M456.7 144.9h0M456.9 146.3h0M456.8 145.7h0M457.2 148.7h0M457.0 148.7h0M457.7 148.9h0M457.8 148.0h0M457.7 150.3h0M457.7 149.3h0M457.9 148.9h0M458.3 146.8h0M458.2 145.4h0M458.2 144.8h0M458.5 145.5h0M458.7 146.1h0M458.7 144.2h0M459.1 146.5h0M459.0 143.8h0M459.3 142.9h0M459.5 141.5h0M459.6 141.0h0M459.5 140.7h0M459.8 137.4h0M459.8 136.7h0M460.2 137.8h0M460.2 134.4h0M460.3 135.9h0M460.4 134.3h0M460.8 136.5h0M460.6 136.6h0M460.9 137.9h0M460.8 138.5h0M461.3 138.9h0M461.6 138.7h0M461.4 138.8h0M461.4 137.4h0M461.8 137.4h0M462.0 138.6h0M462.1 137.0h0M462.1 138.0h0M462.2 135.9h0M462.7 137.2h0M462.5 136.1h0M462.8 134.7h0M462.8 135.0h0M463.4 135.5h0M463.2 135.3h0M463.1 137.1h0M463.6 135.5h0M463.7 138.0h0M464.1 135.7h0M463.7 139.4h0M464.1 139.2h0M464.4 138.8h0M464.2 138.6h0M464.7 137.7h0M464.4 137.2h0M464.6 136.1h0M464.8 135.0h0M465.2 137.9h0M465.5 138.3h0M465.6 137.5h0M465.5 138.2h0M465.9 139.0h0M465.8 136.9h0M466.1 138.6h0M466.1 137.7h0M466.1 135.7h0M466.6 134.3h0M466.5 137.0h0M466.9 136.2h0M467.0 134.4h0M466.8 136.4h0M466.9 137.5h0M467.1 136.2h0M467.2 136.7h0M467.7 136.8h0M467.9 138.5h0M467.5 136.1h0M467.9 136.3h0M468.1 136.8h0M468.2 136.8h0M468.5 138.1h0M468.5 136.1h0M468.8 137.6h0M468.9 138.8h0M469.0 136.4h0M469.2 138.1h0M469.2 138.1h0M469.2 134.9h0M469.4 136.3h0M469.9 135.6h0M469.9 135.9h0M469.7 136.0h0M470.3 136.9h0M470.4 137.3h0M470.1 135.4h0M470.3 138.4h0M470.9 137.9h0M470.9 138.1h0M471.2 136.5h0M471.0 137.7h0M471.2 138.1h0M471.6 136.5h0M471.4 138.9h0M471.4 137.1h0M471.5 139.1h0M471.9 138.8h0M472.0 137.1h0M472.5 137.0h0M472.4 139.0h0M472.4 135.6h0M472.8 134.7h0M472.5 134.1h0M472.8 134.4h0M473.1 136.2h0M473.5 137.4h0M473.4 135.5h0M473.7 136.1h0M473.5 139.8h0M474.0 139.6h0M474.2 140.5h0M473.9 138.6h0M474.1 139.6h0M474.2 139.7h0M474.6 137.6h0M474.4 138.9h0M474.8 137.4h0M474.7 136.5h0M475.3 138.7h0M475.2 139.2h0M475.3 138.3h0M475.3 137.5h0M475.4 141.0h0M475.7 138.9h0M476.1 140.8h0M475.9 141.4h0M476.4 138.8h0M476.2 140.0h0M476.5 140.2h0M476.5 141.3h0M476.7 139.6h0M477.2 140.6h0M477.0 138.7h0M477.1 138.5h0M477.4 138.1h0M477.5 141.1h0M477.9 139.9h0M477.8 140.3h0M478.0 140.5h0M478.0 140.8h0M478.3 141.0h0M478.4 141.7h0M478.3 142.8h0M478.6 142.7h0M478.7 141.8h0M479.2 138.9h0M479.2 139.7h0M479.4 137.9h0M479.6 140.0h0M479.6 139.6h0M479.6 140.2h0M480.0 138.3h0M480.0 139.9h0M480.0 140.1h0M480.5 142.1h0M480.4 142.0h0M480.5 139.4h0M480.5 140.3h0M480.6 141.6h0M481.2 139.0h0M481.2 140.0h0M481.3 140.8h0M481.6 140.7h0M481.6 139.8h0M481.4 139.2h0M482.0 137.6h0M482.0 139.2h0M481.9 140.3h0M482.2 137.8h0M482.4 139.6h0M482.3 138.0h0M482.7 138.2h0M482.6 137.1h0M483.1 139.1h0M483.3 137.4h0M483.4 138.0h0M483.5 138.7h0M483.8 139.7h0M483.9 139.3h0M483.7 139.3h0M483.8 139.7h0M484.0 137.6h0M484.4 138.3h0M484.2 139.0h0M484.6 140.5h0M484.4 141.1h0M485.0 140.9h0M484.9 138.1h0M485.0 139.4h0M485.0 139.9h0M485.3 140.2h0M485.2 137.7h0M485.9 140.5h0M485.8 138.5h0M485.7 137.9h0M486.1 140.1h0M486.4 141.3h0M486.2 141.4h0M486.8 142.5h0M486.7 142.6h0M486.6 143.7h0M487.0 142.3h0M487.4 141.1h0M486.9 143.5h0M487.3 143.5h0M487.5 143.5h0M487.7 141.4h0M488.0 143.9h0M487.7 143.7h0M488.3 141.4h0M488.3 142.8h0M488.5 142.6h0M488.5 144.3h0M488.7 142.5h0M488.8 143.2h0M488.9 140.8h0M489.2 141.7h0M489.3 140.4h0M489.5 139.5h0M489.5 141.2h0M489.4 138.5h0M490.0 138.9h0M490.0 138.5h0M490.1 140.1h0M490.1 140.7h0M490.5 141.0h0M490.5 140.2h0M490.8 141.3h0M490.9 139.7h0M491.1 140.3h0M491.1 139.4h0M491.4 138.4h0M491.3 136.9h0M491.8 136.1h0M491.7 137.0h0M492.0 137.7h0M492.0 135.6h0M492.3 136.6h0M492.2 137.1h0M492.5 138.7h0M492.6 137.5h0M492.7 137.7h0M492.9 139.1h0M493.1 140.5h0M493.4 138.3h0M493.1 140.4h0M493.3 138.7h0M493.4 139.8h0M493.9 139.3h0M493.9 138.4h0M493.9 139.0h0M493.9 137.9h0M494.2 136.1h0M494.1 137.8h0M494.4 137.9h0M494.4 138.6h0M495.0 136.3h0M495.0 139.6h0M495.1 138.1h0M495.2 136.6h0M495.3 139.0h0M495.4 136.3h0M495.7 136.7h0M495.8 136.9h0M496.0 136.6h0M496.3 134.1h0M496.1 135.0h0M496.5 136.7h0M496.8 136.5h0M496.4 137.9h0M497.0 135.5h0M496.7 135.5h0M497.0 135.6h0M497.2 135.6h0M497.5 138.1h0M497.4 136.9h0M497.9 137.0h0M497.8 136.8h0M498.0 136.2h0M497.9 137.9h0M498.0 134.5h0M498.3 135.1h0M498.6 134.5h0M498.5 134.9h0M498.9 135.1h0M499.1 137.9h0M499.0 136.3h0M499.2 137.2h0M499.3 137.7h0M499.4 136.4h0M499.7 138.4h0M500.0 138.6h0M499.7 139.0h0M500.3 138.7h0M500.2 140.0h0M500.6 138.3h0M500.6 140.3h0M500.8 138.9h0M501.0 140.0h0M501.0 138.5h0M501.4 139.4h0M501.0 139.3h0M501.2 140.1h0M501.6 141.0h0M501.9 139.0h0M501.9 139.2h0M502.2 138.0h0M501.8 140.8h0M502.5 139.3h0M502.2 141.5h0M502.7 138.9h0M502.7 139.7h0M503.0 141.2h0M502.6 141.4h0M502.8 143.0h0M502.9 144.1h0M503.5 144.9h0M503.2 144.6h0M503.9 144.7h0M503.7 143.8h0M504.1 140.8h0M504.3 141.7h0M504.3 142.8h0M504.6 142.3h0M504.5 141.8h0M504.7 143.9h0M504.7 142.6h0M505.2 145.3h0M504.9 146.3h0M505.1 145.0h0M505.4 143.6h0M505.7 145.8h0M505.5 143.6h0M505.5 145.1h0M505.7 142.5h0M506.1 145.1h0M506.4 144.9h0M506.2 143.4h0M506.2 143.5h0M506.6 144.0h0M506.7 142.7h0M507.2 141.4h0M507.2 142.0h0M507.4 140.4h0M507.5 140.4h0M507.6 139.5h0M507.6 141.5h0M507.7 139.8h0M508.0 140.0h0M508.0 137.8h0M508.2 137.9h0M508.4 138.1h0M508.6 135.6h0M508.7 135.8h0M508.6 135.0h0M509.0 136.3h0M509.2 137.9h0M509.1 139.5h0M509.3 139.5h0M509.6 140.1h0M509.9 142.2h0M509.6 139.1h0M509.8 141.7h0M510.2 139.0h0M510.4 140.7h0M510.2 139.7h0M510.7 137.5h0M510.5 138.9h0M510.8 137.7h0M510.7 137.0h0M511.0 139.5h0M511.1 139.5h0M511.2 138.5h0M511.4 138.7h0M511.8 138.9h0M511.5 139.5h0M511.7 138.8h0M511.9 141.2h0M512.4 139.1h0M512.1 139.4h0M512.3 141.3h0M512.8 141.6h0M512.8 139.7h0M513.2 141.0h0M513.2 139.2h0M513.1 139.4h0M513.6 141.1h0M513.5 139.1h0M513.4 141.7h0M513.6 141.2h0M514.1 139.8h0M514.1 141.0h0M514.1 142.5h0M514.6 139.7h0M514.4 141.9h0M514.7 140.1h0M514.5 138.9h0M514.9 140.2h0M514.9 139.1h0M515.2 137.7h0M515.4 139.5h0M515.8 139.2h0M515.8 141.5h0M515.5 142.6h0M516.2 143.0h0M515.9 140.7h0M516.0 140.8h0M516.4 143.3h0M516.7 140.1h0M516.8 141.5h0M516.6 140.3h0M517.0 138.8h0M516.9 138.6h0M517.1 139.6h0M517.1 139.6h0M517.5 139.3h0M517.9 139.3h0M518.0 140.5h0M517.8 140.2h0M518.2 141.0h0M518.2 140.9h0M518.6 140.8h0M518.7 138.0h0M518.7 137.8h0M518.9 139.4h0M518.9 139.0h0M518.8 139.9h0M519.2 143.0h0M519.1 141.9h0M519.6 143.9h0M519.6 141.4h0M519.7 143.2h0M520.2 142.2h0M520.3 140.6h0M519.9 138.6h0M520.6 138.0h0M520.4 140.7h0M520.6 140.0h0M521.0 138.2h0M520.8 138.4h0M521.1 139.9h0M521.1 138.8h0M521.7 141.3h0M521.3 138.5h0M521.9 142.1h0M521.6 141.7h0M521.9 141.9h0M522.1 143.2h0M522.5 143.9h0M522.6 144.6h0M522.4 142.4h0M523.0 144.4h0M522.7 143.3h0M523.1 140.3h0M523.1 141.2h0M523.5 140.8h0M523.2 140.5h0M523.3 139.6h0M523.9 140.3h0M523.9 142.2h0M524.1 142.0h0M523.9 144.1h0M524.4 145.1h0M524.5 145.3h0M524.5 144.3h0M524.4 144.0h0M524.9 143.5h0M524.7 142.4h0M525.4 142.0h0M525.5 141.7h0M525.4 143.5h0M525.8 144.9h0M525.7 145.4h0M525.8 145.6h0M526.0 145.9h0M526.0 143.9h0M526.5 143.6h0M526.5 143.5h0M526.5 144.5h0M526.9 144.6h0M526.8 144.2h0M526.8 143.9h0M526.9 144.1h0M527.0 146.2h0M527.2 143.1h0M527.7 143.9h0M527.5 143.5h0M527.7 144.7h0M528.2 146.0h0M528.0 146.5h0M528.5 146.7h0M528.5 147.5h0M528.4 145.5h0M528.5 148.3h0M528.8 149.2h0M528.7 148.7h0M528.9 146.2h0M529.2 146.3h0M529.2 146.7h0M529.3 147.0h0M529.8 146.8h0M529.8 144.2h0M530.0 144.6h0M530.2 145.8h0M530.2 145.5h0M530.2 147.6h0M530.7 148.2h0M530.6 148.4h0M530.7 148.1h0M531.2 148.8h0M531.0 148.7h0M531.2 148.0h0M531.6 146.5h0M531.2 149.0h0M531.5 147.0h0M531.5 148.8h0M532.1 148.6h0M532.2 149.2h0M532.5 148.9h0M532.5 148.8h0M532.4 149.2h0M532.6 149.2h0M532.7 150.9h0M533.0 151.2h0M533.0 148.5h0M533.4 149.4h0M533.3 150.1h0M533.6 148.9h0M533.4 150.5h0M533.8 148.9h0M534.2 151.2h0M534.2 151.4h0M534.3 151.4h0M534.6 150.2h0M534.7 152.5h0M534.9 151.5h0M534.8 153.5h0M535.2 152.4h0M535.2 153.3h0M535.5 153.6h0M535.4 156.2h0M535.8 154.2h0M535.6 154.0h0M535.7 155.0h0M535.8 156.2h0M536.4 154.7h0M536.3 156.5h0M536.4 156.4h0M536.7 157.6h0M536.9 158.3h0M536.9 156.6h0M536.8 157.8h0M537.2 158.1h0M537.5 158.0h0M537.3 158.1h0M537.2 158.4h0M537.4 159.2h0M537.6 156.6h0M538.0 159.3h0M538.4 160.4h0M538.4 159.8h0M538.4 163.4h0M538.6 162.7h0M538.9 162.4h0M539.0 163.2h0M538.9 164.3h0M539.3 162.5h0M539.4 162.9h0M539.2 163.0h0M539.8 162.6h0M539.4 161.2h0M539.7 162.6h0M539.7 161.3h0M540.2 161.9h0M540.1 163.9h0M540.5 163.6h0M540.4 167.0h0M540.9 166.0h0M540.7 168.4h0M541.0 170.0h0M540.9 171.7h0M541.2 173.1h0M541.1 171.3h0M541.8 173.5h0M541.5 172.3h0M541.9 173.1h0M541.7 171.6h0M542.0 173.7h0M542.6 175.7h0M542.4 176.1h0M543.0 177.4h0M458.2 150.0h0M458.2 155.0h0M458.6 229.0h0M458.8 264.5h0M481.0 147.0h0M367.0 179.6h0M432.6 259.0h0M542.1 202.0h0M541.9 172.8h0M541.8 269.9h0M543.2 270.9h0M542.0 260.7h0M543.1 301.2h0M543.0 195.0h0M543.2 344.5h0M543.2 208.0h0M542.0 235.5h0M542.9 226.3h0M541.5 292.2h0M542.5 229.6h0M542.5 329.8h0M541.9 298.4h0M542.6 333.9h0M550.2 263.8h0M550.5 333.8h0M550.3 387.3h0M550.0 246.3h0M550.4 370.6h0M550.7 341.7h0M550.2 278.6h0M550.5 335.0h0M550.1 355.7h0M550.1 353.3h0M550.5 184.0h0M550.3 189.5h0M580.6 343.6h0M587.1 338.0h0M587.9 371.6h0M587.4 272.4h0M616.4 385.5h0M619.0 384.8h0M614.4 380.3h0M616.9 382.8h0M616.4 379.1h0M617.4 380.4h0M616.5 367.1h0M616.6 391.2h0M615.4 384.6h0M615.2 384.9h0M620.2 390.5h0M616.5 367.3h0M616.7 381.6h0M621.3 385.5h0M619.6 389.2h0M617.7 375.9h0M615.8 388.9h0M617.4 391.3h0M616.6 363.8h0M617.1 379.1h0M617.8 376.0h0M619.3 389.3h0M617.7 382.8h0M617.1 336.4h0M642.6 337.0h0M641.7 333.6h0M642.9 379.3h0M641.5 344.4h0M643.0 363.3h0M641.3 332.1h0M643.6 374.3h0M642.0 334.0h0" stroke="#ff00ff" stroke-width="3.1" stroke-linecap="round" fill="none"/>
<path d="M303.2 391.7h0M304.4 390.5h0M304.7 390.9h0M305.2 392.0h0M305.8 389.4h0M306.3 388.8h0M306.0 383.6h0M306.1 390.0h0M306.4 389.9h0M306.4 382.9h0M306.7 388.4h0M306.9 389.3h0M306.9 374.9h0M307.2 388.0h0M307.0 358.3h0M307.5 372.1h0M307.7 371.7h0M307.7 379.3h0M307.9 361.4h0M307.8 360.6h0M308.4 356.6h0M308.1 385.1h0M308.5 351.5h0M308.8 391.4h0M308.7 356.1h0M308.7 379.6h0M308.8 383.8h0M309.1 389.0h0M309.2 359.0h0M309.3 351.5h0M309.8 382.2h0M309.7 392.1h0M309.7 382.5h0M309.9 388.6h0M310.5 391.9h0M310.3 385.3h0M310.2 385.5h0M310.8 388.4h0M310.5 388.3h0M310.9 386.9h0M310.9 388.8h0M311.3 388.1h0M311.4 387.0h0M311.6 383.3h0M311.7 388.0h0M311.5 381.1h0M311.9 386.3h0M312.2 386.2h0M312.0 387.6h0M312.2 388.9h0M312.3 384.4h0M312.9 382.4h0M312.7 387.7h0M312.8 391.6h0M313.1 390.2h0M313.4 386.1h0M313.2 384.9h0M313.3 385.5h0M313.6 392.3h0M313.8 383.9h0M313.7 384.8h0M313.9 383.4h0M313.9 381.2h0M314.5 391.5h0M314.8 388.7h0M314.5 389.8h0M314.5 388.9h0M314.8 381.1h0M315.3 383.8h0M315.3 383.9h0M315.5 383.2h0M315.3 383.6h0M315.7 385.7h0M315.5 381.6h0M315.7 384.7h0M315.9 384.7h0M316.1 383.3h0M316.2 391.4h0M316.2 381.5h0M316.9 384.1h0M317.0 389.5h0M316.8 391.8h0M317.3 389.3h0M315.3 383.2h0M315.9 379.0h0M315.7 379.6h0M315.3 380.1h0M315.4 383.6h0M315.5 381.6h0M316.2 373.3h0M315.9 377.5h0M315.9 375.8h0M316.6 373.2h0M316.9 367.5h0M316.3 374.1h0M316.6 368.8h0M316.8 366.7h0M317.2 364.5h0M317.8 353.9h0M317.2 363.7h0M318.4 350.7h0M316.9 366.0h0M317.7 356.3h0M317.8 356.0h0M316.1 374.7h0M316.3 372.0h0M316.3 371.8h0M317.8 358.6h0M319.5 342.6h0M318.5 350.2h0M317.0 363.8h0M318.3 356.9h0M318.9 349.9h0M318.3 353.8h0M319.8 324.8h0M318.6 351.7h0M319.4 344.6h0M318.1 353.9h0M320.0 321.9h0M319.6 341.3h0M318.3 350.8h0M319.5 344.5h0M320.3 321.2h0M320.7 310.5h0M318.6 350.0h0M318.7 350.4h0M321.5 290.4h0M319.8 335.8h0M320.5 317.7h0M318.9 348.5h0M320.0 331.0h0M319.8 337.6h0M321.1 297.2h0M321.6 285.6h0M320.8 305.3h0M321.0 291.8h0M322.7 272.8h0M322.2 279.5h0M322.3 271.0h0M322.8 266.4h0M320.8 300.2h0M320.6 305.8h0M320.5 304.7h0M320.8 299.8h0M323.0 273.5h0M323.4 264.7h0M323.7 253.2h0M322.7 274.2h0M323.0 273.3h0M321.6 285.8h0M323.9 253.9h0M323.0 270.4h0M323.2 264.0h0M323.6 260.8h0M323.6 256.3h0M322.2 286.7h0M324.2 243.3h0M322.8 283.9h0M322.8 286.3h0M323.0 272.1h0M324.1 257.2h0M324.5 248.3h0M323.6 260.1h0M324.6 260.9h0M324.8 244.3h0M324.4 249.0h0M325.3 245.6h0M324.2 261.1h0M325.5 240.2h0M325.1 259.5h0M325.3 246.9h0M324.8 254.3h0M325.6 243.0h0M325.7 244.8h0M325.9 247.1h0M325.8 261.5h0M326.4 241.3h0M326.5 255.0h0M326.4 247.9h0M326.7 254.3h0M326.9 239.0h0M326.5 248.2h0M326.4 238.7h0M326.5 240.2h0M327.2 259.3h0M326.7 255.8h0M327.0 256.4h0M326.6 237.1h0M327.6 240.7h0M327.4 238.2h0M327.1 247.4h0M327.7 245.3h0M327.5 255.0h0M327.6 240.7h0M328.5 240.7h0M327.5 247.2h0M328.9 237.5h0M328.5 240.3h0M328.0 239.3h0M328.3 250.5h0M328.5 242.3h0M328.4 251.5h0M328.9 257.1h0M329.4 257.3h0M329.4 250.8h0M328.8 260.9h0M329.1 247.4h0M330.2 247.5h0M329.7 247.5h0M329.8 248.8h0M329.7 248.2h0M330.3 242.7h0M329.4 241.5h0M330.0 255.0h0M329.7 257.1h0M330.2 250.8h0M330.5 266.6h0M330.2 248.0h0M331.0 245.4h0M330.8 248.5h0M331.0 272.3h0M331.1 253.6h0M331.4 270.8h0M331.8 271.8h0M331.9 268.0h0M331.4 262.4h0M331.8 271.0h0M332.2 279.5h0M332.4 283.4h0M332.4 288.1h0M331.5 277.1h0M331.6 278.1h0M332.2 281.7h0M332.1 289.2h0M332.7 301.8h0M332.9 298.3h0M332.5 297.6h0M332.8 302.3h0M332.8 292.6h0M332.9 300.7h0M333.0 301.6h0M332.9 301.4h0M333.5 306.2h0M334.2 305.2h0M333.5 304.1h0M333.9 311.3h0M333.5 302.2h0M334.3 310.2h0M334.8 313.2h0M333.9 307.2h0M334.4 313.5h0M334.0 308.9h0M334.3 311.0h0M335.3 317.8h0M334.4 310.8h0M335.1 316.0h0M335.2 316.2h0M335.0 316.5h0M335.5 320.5h0M335.8 321.4h0M336.2 323.0h0M335.6 319.9h0M335.7 321.1h0M336.0 323.2h0M335.6 320.4h0M335.6 323.3h0M336.7 328.2h0M336.8 330.1h0M336.4 322.9h0M336.5 326.1h0M337.3 337.0h0M337.2 337.6h0M336.9 338.1h0M336.3 327.8h0M337.2 339.6h0M337.2 343.2h0M337.1 340.7h0M337.1 341.4h0M337.6 341.2h0M338.0 341.0h0M337.9 342.8h0M338.1 339.2h0M337.5 340.9h0M338.6 337.1h0M338.4 334.1h0M338.3 335.9h0M338.5 337.3h0M338.5 337.2h0M338.5 340.7h0M339.2 333.1h0M338.7 337.6h0M338.4 335.8h0M339.6 325.8h0M339.5 328.5h0M339.7 324.2h0M340.0 321.2h0M340.2 322.1h0M340.4 320.8h0M340.1 325.1h0M339.6 326.1h0M340.1 316.4h0M340.3 313.6h0M340.6 311.5h0M339.8 319.3h0M340.6 311.4h0M341.2 302.8h0M341.2 306.9h0M341.2 303.1h0M340.7 307.9h0M340.5 312.2h0M340.9 304.2h0M341.0 302.1h0M340.7 307.2h0M341.6 298.3h0M341.6 283.8h0M342.1 269.8h0M341.3 298.6h0M341.9 295.3h0M341.7 294.6h0M342.4 273.1h0M341.9 280.5h0M342.2 273.5h0M343.0 266.9h0M342.3 265.3h0M342.7 263.6h0M342.6 262.5h0M342.6 262.2h0M343.6 266.7h0M343.5 263.5h0M343.1 258.1h0M344.0 257.6h0M343.3 254.1h0M343.8 252.1h0M343.9 252.4h0M344.0 258.4h0M343.9 252.6h0M344.0 253.1h0M344.1 258.2h0M344.2 262.0h0M343.9 259.7h0M345.0 255.8h0M345.0 252.6h0M345.0 252.8h0M345.1 252.7h0M344.9 257.1h0M344.9 249.6h0M345.3 269.3h0M345.7 259.0h0M345.5 266.4h0M345.7 267.1h0M346.3 257.5h0M345.4 264.1h0M346.6 256.0h0M346.7 263.2h0M346.1 258.1h0M346.5 269.2h0M346.6 258.7h0M346.9 266.5h0M347.0 263.4h0M346.4 267.6h0M347.3 274.8h0M346.6 271.6h0M347.1 266.4h0M347.5 267.2h0M347.3 267.9h0M347.5 279.3h0M348.1 275.8h0M347.7 270.8h0M348.5 282.1h0M348.2 280.8h0M347.9 284.7h0M348.0 278.2h0M348.7 289.4h0M348.7 280.7h0M349.3 284.9h0M348.5 277.5h0M349.3 282.3h0M348.9 283.6h0M349.7 287.4h0M349.0 282.5h0M349.9 289.1h0M349.0 282.8h0M349.4 283.1h0M349.5 287.9h0M349.3 290.8h0M349.6 291.7h0M350.2 297.3h0M349.7 296.0h0M349.9 293.4h0M349.9 295.2h0M350.6 296.2h0M350.8 299.1h0M350.2 296.6h0M350.4 298.2h0M350.3 298.6h0M351.4 300.9h0M351.1 300.4h0M350.8 300.3h0M351.7 303.0h0M351.8 305.5h0M351.5 302.8h0M351.6 301.8h0M351.6 300.1h0M352.4 306.9h0M351.9 304.8h0M352.3 307.1h0M352.1 306.2h0M351.9 305.9h0M351.9 307.4h0M352.0 305.2h0M352.4 306.4h0M352.4 307.6h0M352.9 309.7h0M352.7 308.1h0M352.8 308.5h0M352.8 309.4h0M354.0 313.0h0M352.7 311.7h0M354.0 310.9h0M353.8 314.5h0M353.3 314.4h0M354.2 314.8h0M353.4 315.1h0M353.9 313.8h0M354.5 318.1h0M354.6 316.1h0M354.5 315.5h0M355.1 318.9h0M354.4 313.6h0M354.5 314.2h0M355.1 317.3h0M354.6 316.9h0M355.3 318.5h0M355.3 316.8h0M355.3 321.7h0M356.2 321.9h0M355.5 319.8h0M355.8 319.6h0M355.8 320.5h0M356.3 321.0h0M355.9 324.2h0M356.1 320.1h0M356.7 320.9h0M356.9 320.2h0M356.1 322.3h0M356.3 323.1h0M357.1 324.0h0M357.2 323.0h0M357.2 261.7h0M357.3 269.0h0M357.1 259.5h0M357.4 267.0h0M357.6 260.6h0M357.4 260.0h0M357.4 240.7h0M357.4 243.4h0M357.8 252.0h0M357.6 229.4h0M357.6 231.8h0M358.0 235.8h0M357.8 231.1h0M358.2 223.7h0M358.1 241.5h0M358.3 231.7h0M358.2 227.6h0M358.3 227.7h0M358.5 238.4h0M358.5 236.9h0M358.4 247.3h0M358.6 246.8h0M358.6 235.9h0M358.6 240.9h0M358.7 231.5h0M359.2 249.6h0M359.1 257.8h0M359.1 254.0h0M359.1 268.4h0M359.5 277.6h0M359.3 289.7h0M359.7 288.2h0M359.5 282.2h0M359.5 282.9h0M359.6 268.4h0M359.9 271.1h0M360.1 267.9h0M360.2 275.3h0M359.8 270.5h0M360.2 260.4h0M360.2 252.3h0M360.5 239.9h0M360.5 252.5h0M360.3 244.9h0M360.4 242.0h0M360.6 231.8h0M360.7 230.8h0M360.7 242.1h0M361.0 236.9h0M360.8 231.9h0M360.8 240.9h0M360.9 228.6h0M361.2 251.0h0M361.2 260.8h0M361.5 257.7h0M361.5 276.6h0M361.7 261.5h0M361.4 276.3h0M361.7 276.9h0M361.8 293.9h0M361.9 295.2h0M361.8 288.1h0M361.8 243.8h0M362.1 217.8h0M362.0 218.8h0M362.2 234.8h0M362.4 241.0h0M362.4 259.0h0M362.3 270.7h0M362.6 276.1h0M362.8 273.8h0M362.6 271.1h0M363.0 278.4h0M362.7 268.3h0M362.8 283.6h0M363.2 282.2h0M363.0 268.5h0M363.3 281.7h0M363.0 272.0h0M363.4 283.1h0M363.5 268.8h0M363.7 267.4h0M363.4 271.4h0M363.6 279.8h0M363.5 277.3h0M364.0 266.4h0M363.9 260.4h0M364.1 255.4h0M363.9 245.8h0M364.0 225.0h0M364.1 214.6h0M364.3 224.1h0M364.4 227.5h0M364.5 219.6h0M364.4 212.4h0M364.8 209.2h0M364.7 213.6h0M364.8 219.1h0M364.7 220.2h0M364.9 220.8h0M364.8 225.9h0M365.3 237.9h0M365.0 260.5h0M365.2 256.9h0M365.2 261.6h0M365.6 263.1h0M365.3 271.7h0M365.6 289.1h0M365.5 296.2h0M365.7 294.6h0M365.9 297.8h0M365.8 299.3h0M365.9 291.0h0M366.3 299.9h0M365.9 291.6h0M366.1 301.1h0M366.3 302.7h0M366.2 299.1h0M366.4 297.2h0M366.6 304.7h0M366.5 311.0h0M366.9 298.9h0M366.7 280.1h0M366.7 264.0h0M366.8 253.8h0M367.0 224.0h0M366.8 196.8h0M367.3 204.0h0M367.1 196.5h0M367.1 219.4h0M367.6 258.6h0M367.3 284.2h0M367.4 297.5h0M367.9 302.7h0M367.8 293.4h0M368.0 277.4h0M367.6 277.5h0M368.0 270.7h0M368.0 277.2h0M368.2 289.6h0M368.4 282.5h0M368.2 287.7h0M368.3 286.9h0M368.5 276.1h0M368.6 259.7h0M368.8 253.0h0M368.6 224.5h0M369.0 210.4h0M368.7 214.4h0M369.1 217.2h0M369.0 233.8h0M369.0 242.8h0M369.2 254.3h0M369.3 275.5h0M369.5 283.2h0M369.5 287.2h0M369.5 287.1h0M369.4 296.1h0M369.5 292.9h0M369.6 292.9h0M369.7 307.5h0M369.7 304.5h0M369.8 306.1h0M370.1 288.2h0M370.0 270.0h0M370.3 259.8h0M370.4 238.8h0M370.5 251.7h0M370.6 252.2h0M370.7 259.5h0M370.4 263.1h0M370.8 268.8h0M370.9 266.0h0M370.9 262.0h0M370.8 238.1h0M371.0 244.6h0M371.3 238.1h0M371.2 248.1h0M371.3 246.9h0M371.2 250.7h0M371.5 242.6h0M371.6 253.9h0M371.4 275.8h0M371.6 292.5h0M371.8 295.8h0M371.8 298.8h0M372.0 294.5h0M371.9 288.5h0M371.9 277.1h0M372.3 265.7h0M372.0 239.4h0M372.2 221.5h0M372.5 216.7h0M372.5 223.7h0M372.5 246.7h0M372.8 281.1h0M372.5 288.5h0M372.5 280.4h0M372.9 276.7h0M372.7 283.3h0M372.9 268.3h0M373.3 263.6h0M372.9 264.3h0M373.1 268.0h0M373.5 272.1h0M373.4 262.7h0M373.7 267.2h0M373.8 281.1h0M373.7 276.8h0M373.9 278.5h0M373.7 269.1h0M373.9 283.9h0M373.9 278.7h0M373.9 281.3h0M374.1 278.1h0M374.0 283.1h0M374.4 282.8h0M374.2 274.5h0M374.5 259.0h0M374.5 269.9h0M374.4 265.6h0M374.5 258.6h0M374.6 250.4h0M374.6 254.7h0M375.1 258.7h0M374.9 263.7h0M375.2 274.2h0M375.2 267.7h0M375.3 272.2h0M375.5 273.5h0M375.4 279.6h0M375.4 284.1h0M375.5 297.9h0M375.7 299.1h0M376.0 303.9h0M375.7 309.8h0M375.7 296.5h0M376.1 301.5h0M376.2 302.1h0M375.9 298.6h0M376.0 286.3h0M376.3 288.4h0M376.6 293.7h0M376.5 275.8h0M376.5 268.8h0M376.6 251.4h0M376.5 252.3h0M376.8 242.7h0M377.0 263.0h0M376.9 279.6h0M377.2 287.3h0M377.3 300.9h0M377.3 302.5h0M377.1 306.9h0M377.2 308.3h0M377.2 297.9h0M377.5 288.5h0M377.6 260.2h0M377.5 244.0h0M377.7 243.5h0M377.9 247.8h0M378.1 241.3h0M378.1 248.1h0M377.9 244.7h0M378.1 249.2h0M378.4 244.5h0M378.3 254.8h0M378.4 270.2h0M378.4 277.8h0M378.5 274.8h0M378.7 286.2h0M378.6 277.2h0M378.7 273.0h0M378.9 283.5h0M379.0 281.2h0M379.1 272.6h0M378.9 269.5h0M379.3 281.7h0M379.5 276.6h0M379.3 272.6h0M379.6 261.6h0M379.4 256.9h0M379.7 258.9h0M379.8 259.1h0M379.7 262.2h0M379.8 254.5h0M380.0 235.4h0M380.2 251.0h0M380.1 242.4h0M380.1 261.0h0M380.1 269.2h0M380.3 286.1h0M380.5 294.3h0M380.5 299.4h0M380.7 303.4h0M380.6 296.3h0M380.5 286.5h0M380.6 283.0h0M381.0 289.7h0M380.7 291.2h0M381.1 283.4h0M381.0 261.4h0M381.3 244.0h0M381.2 235.4h0M381.1 203.7h0M381.6 217.5h0M381.5 220.0h0M381.7 249.4h0M381.7 270.8h0M381.5 286.2h0M381.6 298.1h0M381.6 301.5h0M381.8 300.4h0M382.0 292.6h0M382.3 285.9h0M382.4 289.4h0M382.2 280.2h0M382.6 290.4h0M382.5 273.7h0M382.8 253.1h0M382.4 243.5h0M382.9 246.6h0M382.8 253.2h0M382.9 258.2h0M383.1 281.7h0M382.8 271.5h0M383.2 278.0h0M383.3 256.8h0M383.5 259.6h0M383.3 257.8h0M383.4 238.3h0M383.6 257.9h0M383.7 243.8h0M383.4 245.0h0M383.9 247.1h0M383.6 255.2h0M384.0 257.1h0M384.1 266.5h0M384.2 261.9h0M383.9 271.8h0M384.3 269.9h0M384.4 262.4h0M384.3 237.8h0M384.4 241.4h0M384.7 244.7h0M384.8 265.2h0M384.5 274.7h0M384.8 289.3h0M384.8 291.3h0M384.9 290.9h0M385.0 300.1h0M385.2 299.8h0M385.1 301.7h0M385.0 307.3h0M385.3 298.9h0M385.3 294.2h0M385.5 286.0h0M385.6 272.1h0M385.6 282.9h0M385.7 271.0h0M386.1 253.4h0M385.7 241.0h0M386.1 215.8h0M386.1 209.2h0M386.1 221.7h0M386.3 204.8h0M386.4 209.8h0M386.3 215.4h0M386.7 218.6h0M386.5 208.7h0M386.8 236.7h0M386.6 270.5h0M386.9 272.4h0M386.8 252.0h0M386.9 238.0h0M387.3 220.1h0M387.5 207.8h0M387.4 213.6h0M387.3 209.3h0M387.4 204.4h0M387.6 226.0h0M387.5 224.2h0M388.1 221.0h0M388.0 231.8h0M388.0 233.5h0M388.3 242.5h0M388.3 234.3h0M388.3 247.9h0M388.4 265.6h0M388.3 261.3h0M388.4 280.7h0M388.7 272.2h0M388.9 281.8h0M388.6 271.3h0M388.7 283.5h0M388.9 286.1h0M389.1 257.7h0M389.3 252.3h0M389.2 232.2h0M389.2 247.2h0M389.2 258.1h0M389.7 279.9h0M389.4 281.2h0M389.7 273.3h0M389.8 282.5h0M389.9 281.9h0M390.1 276.7h0M390.3 278.2h0M390.0 279.3h0M390.1 269.6h0M390.3 269.7h0M390.3 272.6h0M390.6 275.2h0M390.5 277.5h0M390.6 260.2h0M390.8 260.4h0M391.0 260.4h0M391.2 268.3h0M390.9 267.9h0M391.2 266.5h0M391.5 259.2h0M391.2 238.1h0M391.4 241.8h0M391.6 232.8h0M391.6 205.0h0M391.6 188.5h0M391.7 166.9h0M392.0 215.1h0M392.2 255.4h0M392.3 266.3h0M392.0 232.4h0M392.2 180.5h0M392.2 171.6h0M392.5 218.4h0M392.3 262.4h0M392.7 267.9h0M392.4 273.6h0M392.9 276.6h0M392.6 273.4h0M393.2 280.7h0M393.1 274.7h0M393.0 286.8h0M393.2 289.6h0M393.4 296.0h0M393.3 290.6h0M393.5 296.9h0M393.8 290.5h0M393.7 284.2h0M393.7 285.4h0M394.1 283.9h0M394.0 266.2h0M394.2 235.7h0M394.0 210.2h0M394.3 213.4h0M394.1 194.8h0M394.5 202.0h0M394.3 193.8h0M394.6 205.4h0M394.6 217.7h0M394.6 231.6h0M395.0 266.7h0M395.1 281.4h0M395.0 279.0h0M395.2 260.5h0M395.1 235.3h0M395.3 230.0h0M395.2 183.3h0M395.3 169.7h0M395.7 197.8h0M395.6 272.0h0M395.9 292.2h0M395.6 288.0h0M396.1 287.4h0M395.8 287.5h0M395.9 282.0h0M396.2 283.5h0M396.4 292.0h0M396.1 287.4h0M396.2 298.3h0M396.8 310.4h0M396.7 293.0h0M396.6 265.5h0M396.7 201.7h0M396.8 171.7h0M396.8 150.7h0M397.0 192.9h0M397.2 268.1h0M397.1 316.1h0M397.1 325.9h0M397.4 301.1h0M397.7 280.2h0M397.4 278.2h0M397.8 258.9h0M397.9 247.6h0M397.7 220.6h0M397.8 191.6h0M398.2 195.4h0M398.0 168.6h0M398.5 175.0h0M398.2 171.0h0M398.2 186.8h0M398.6 185.0h0M398.7 180.5h0M398.6 195.9h0M398.6 217.7h0M399.1 243.7h0M399.2 243.6h0M399.2 245.3h0M399.2 244.8h0M399.4 248.7h0M399.5 255.9h0M399.5 257.0h0M399.4 243.8h0M399.8 265.9h0M399.7 264.3h0M399.9 272.4h0M399.9 261.3h0M399.8 277.8h0M400.2 265.3h0M400.2 267.0h0M400.1 281.6h0M400.4 274.6h0M400.2 280.1h0M400.5 268.7h0M400.8 240.6h0M400.5 225.3h0M400.7 211.4h0M400.6 192.1h0M401.1 195.9h0M400.9 189.2h0M400.9 172.4h0M401.1 172.3h0M401.5 150.5h0M401.3 162.9h0M401.6 189.0h0M401.7 189.9h0M401.9 193.7h0M401.6 212.6h0M401.8 230.5h0M401.8 241.1h0M401.8 221.8h0M401.9 212.9h0M402.2 185.6h0M402.5 169.2h0M402.3 167.9h0M402.7 165.7h0M402.7 178.5h0M402.8 222.0h0M402.5 253.0h0M402.9 261.3h0M402.8 244.1h0M403.2 245.7h0M403.0 251.3h0M403.2 248.9h0M403.1 233.3h0M403.5 252.2h0M403.3 286.0h0M403.6 316.7h0M403.4 313.3h0M403.6 313.8h0M403.8 295.8h0M404.0 282.1h0M404.2 261.3h0M404.3 254.2h0M404.2 255.6h0M404.3 240.1h0M404.2 229.1h0M404.5 200.2h0M404.7 175.1h0M404.6 177.7h0M404.9 152.0h0M404.7 173.4h0M404.7 186.0h0M404.9 215.9h0M405.3 200.3h0M405.3 196.2h0M405.1 162.0h0M405.1 167.4h0M405.5 164.0h0M405.4 156.3h0M405.7 178.9h0M405.9 172.3h0M405.8 183.1h0M405.8 178.1h0M406.0 161.0h0M406.0 164.8h0M405.9 173.8h0M406.3 232.9h0M406.5 287.9h0M406.4 308.7h0M406.5 308.9h0M406.7 306.5h0M406.9 289.4h0M406.7 283.7h0M406.8 264.0h0M406.8 255.6h0M407.2 148.9h0M407.1 152.5h0M407.2 162.3h0M407.4 172.7h0M407.6 179.4h0M407.7 179.3h0M407.6 178.2h0M407.4 170.9h0M408.0 165.6h0M408.1 161.5h0M408.2 158.2h0M407.8 157.2h0M408.0 154.4h0M408.3 152.5h0M408.3 152.8h0M408.4 152.8h0M408.5 152.4h0M408.9 151.6h0M408.7 150.2h0M408.6 148.4h0M409.2 147.4h0M409.0 149.0h0M408.9 149.3h0M409.0 148.5h0M409.3 149.3h0M409.1 148.7h0M409.6 148.4h0M409.9 148.9h0M409.8 147.0h0M409.6 147.7h0M409.9 145.9h0M409.7 147.5h0M410.3 146.4h0M410.1 147.2h0M410.1 145.9h0M410.3 145.9h0M410.4 147.1h0M410.4 147.2h0M410.6 146.2h0M410.7 148.4h0M410.5 147.8h0M410.7 147.4h0M410.8 147.8h0M411.3 146.7h0M411.0 149.3h0M411.3 149.0h0M411.1 148.0h0M411.6 147.4h0M411.4 149.4h0M411.9 149.6h0M411.5 146.6h0M411.7 146.3h0M411.8 147.0h0M411.9 145.6h0M412.0 147.5h0M412.4 149.1h0M412.5 150.1h0M412.5 152.2h0M412.8 155.4h0M412.6 156.3h0M412.7 154.3h0M413.0 157.6h0M412.7 157.8h0M413.0 159.9h0M412.9 161.6h0M413.1 162.2h0M413.4 159.2h0M413.6 154.6h0M413.4 148.8h0M413.6 146.8h0M413.7 149.5h0M413.9 147.5h0M414.0 147.5h0M414.1 148.3h0M413.9 150.7h0M414.2 149.9h0M414.1 150.1h0M414.1 148.2h0M414.3 149.0h0M414.6 149.1h0M414.6 147.6h0M414.7 147.8h0M414.6 145.8h0M415.1 145.8h0M415.2 144.9h0M415.1 146.6h0M415.1 152.8h0M415.4 158.2h0M415.6 164.8h0M415.7 170.8h0M415.8 174.5h0M415.4 174.4h0M415.7 169.1h0M415.9 165.3h0M416.2 159.6h0M415.8 154.3h0M416.4 148.6h0M416.1 144.6h0M416.5 144.2h0M416.1 147.2h0M416.5 147.5h0M416.5 151.4h0M416.9 152.1h0M417.0 152.8h0M417.0 150.9h0M417.1 151.8h0M416.8 151.6h0M417.3 149.9h0M417.1 150.5h0M417.3 150.9h0M417.7 151.0h0M417.7 150.2h0M417.4 150.1h0M417.7 148.7h0M417.7 145.4h0M417.6 146.0h0M417.7 144.9h0M418.3 145.0h0M418.3 145.1h0M418.0 145.4h0M418.2 144.2h0M418.7 143.6h0M418.5 146.2h0M418.8 151.9h0M418.7 155.6h0M418.6 160.5h0M418.7 158.2h0M419.0 157.4h0M418.9 153.1h0M419.0 149.7h0M419.3 144.7h0M419.7 143.3h0M419.8 145.3h0M419.7 144.9h0M419.5 144.8h0M420.1 145.9h0M420.0 145.9h0M420.3 146.7h0M420.0 145.7h0M420.3 147.1h0M420.1 147.9h0M420.7 146.7h0M420.7 148.0h0M420.5 148.1h0M420.7 147.1h0M420.8 146.3h0M420.6 146.0h0M420.7 145.2h0M420.9 145.7h0M420.9 146.5h0M421.1 146.8h0M421.4 147.3h0M421.3 150.2h0M421.7 152.6h0M421.8 152.6h0M421.6 152.6h0M421.6 150.5h0M422.2 149.6h0M421.8 146.3h0M422.4 147.2h0M422.2 145.7h0M422.5 147.6h0M422.4 146.7h0M422.6 149.2h0M422.7 150.3h0M422.9 150.5h0M422.5 151.9h0M422.9 150.4h0M422.9 152.3h0M422.9 152.3h0M423.1 150.8h0M423.1 151.5h0M423.3 156.2h0M423.3 159.0h0M423.3 159.5h0M423.6 161.0h0M424.0 159.5h0M423.8 158.1h0M424.1 159.2h0M423.9 156.9h0M424.1 155.3h0M424.1 154.7h0M424.0 155.5h0M424.4 155.3h0M424.4 153.9h0M424.7 153.4h0M424.4 154.5h0M424.8 152.9h0M425.1 151.6h0M425.0 150.6h0M425.1 148.4h0M424.8 144.8h0M425.1 142.4h0M425.0 139.3h0M425.1 140.3h0M425.7 142.4h0M425.9 143.5h0M426.0 148.2h0M425.8 150.9h0M426.1 151.4h0M425.8 152.3h0M426.2 151.3h0M426.0 148.2h0M426.6 147.1h0M426.6 149.2h0M426.5 150.0h0M426.8 153.3h0M426.8 154.2h0M426.6 155.1h0M426.8 153.3h0M426.8 149.4h0M426.8 147.0h0M427.1 144.7h0M427.5 144.8h0M427.4 143.2h0M427.6 145.8h0M427.7 143.8h0M427.5 144.4h0M428.0 146.3h0M427.6 146.9h0M427.9 147.7h0M428.2 148.7h0M427.8 148.9h0M428.4 148.0h0M428.3 149.2h0M428.5 147.9h0M428.7 148.1h0M428.7 149.9h0M428.4 148.6h0M428.9 148.6h0M428.6 149.3h0M428.8 150.1h0M428.9 149.7h0M429.1 149.2h0M429.0 151.0h0M429.6 149.2h0M429.1 146.1h0M429.5 143.6h0M429.4 140.1h0M429.9 135.7h0M429.9 135.7h0M430.1 134.9h0M430.0 135.4h0M430.1 135.4h0M430.2 136.6h0M430.3 137.2h0M430.4 136.9h0M430.5 141.3h0M430.3 143.4h0M430.4 145.5h0M430.7 149.0h0M431.0 149.3h0M430.9 150.6h0M431.0 149.3h0M431.0 146.3h0M431.1 141.9h0M431.1 139.2h0M431.1 137.4h0M431.4 136.7h0M432.0 134.2h0M431.5 134.0h0M432.1 134.5h0M431.9 131.8h0M432.3 134.8h0M432.5 132.0h0M432.4 135.2h0M432.4 133.4h0M432.5 134.5h0M432.7 132.3h0M433.3 133.5h0M433.1 133.0h0M433.4 132.1h0M433.5 132.0h0M433.6 134.3h0M433.6 132.9h0M434.0 132.3h0M434.3 134.6h0M434.1 134.0h0M434.5 131.2h0M434.7 133.6h0M434.4 133.1h0M435.0 132.7h0M434.7 132.9h0M434.9 133.8h0M435.4 132.9h0M435.3 132.0h0M435.3 133.4h0M435.8 134.2h0M436.0 133.0h0M435.8 131.9h0M436.3 134.4h0M436.3 132.1h0M436.5 135.4h0M436.3 133.0h0M436.6 133.0h0M436.5 133.2h0M436.6 131.8h0M436.8 133.0h0M437.2 130.5h0M437.1 132.1h0M437.5 131.1h0M437.5 130.4h0M438.0 130.7h0M438.0 133.3h0M438.2 131.2h0M437.9 132.9h0M438.3 133.1h0M438.3 131.2h0M438.4 131.2h0M439.1 131.9h0M439.0 132.9h0M438.9 131.8h0M439.5 130.6h0M439.1 131.6h0M439.6 131.1h0M439.7 130.5h0M439.8 133.7h0M440.0 131.4h0M440.3 134.3h0M440.2 133.0h0M440.3 133.5h0M440.4 133.4h0M440.5 132.3h0M441.0 131.6h0M441.1 130.4h0M441.2 131.1h0M441.4 131.5h0M441.1 131.7h0M441.7 129.2h0M441.6 129.6h0M442.0 130.5h0M441.7 132.4h0M441.9 131.5h0M442.5 132.9h0M442.4 131.9h0M442.6 132.2h0M442.6 134.1h0M442.8 133.8h0M443.1 132.5h0M443.4 134.1h0M443.1 132.2h0M443.2 131.5h0M443.3 130.8h0M443.8 131.7h0M444.1 129.6h0M443.8 130.5h0M444.0 130.9h0M444.3 129.7h0M444.5 133.0h0M444.8 133.0h0M444.6 134.5h0M445.0 131.9h0M444.8 134.3h0M444.9 131.7h0M445.1 133.0h0M445.1 133.7h0M445.5 133.0h0M445.7 133.3h0M445.9 130.2h0M446.2 131.1h0M446.3 131.4h0M446.1 131.2h0M446.6 134.1h0M446.4 133.8h0M446.8 133.7h0M446.9 134.6h0M447.1 132.3h0M447.0 133.8h0M447.0 132.0h0M447.3 132.2h0M447.6 132.3h0M447.9 131.7h0M447.6 131.4h0M447.8 131.3h0M447.9 131.5h0M448.3 133.6h0M448.6 131.9h0M448.2 131.1h0M448.5 133.8h0M449.0 131.4h0M449.0 133.3h0M449.0 133.8h0M449.0 133.9h0M449.5 133.6h0M449.7 132.8h0M449.5 133.9h0M450.0 134.5h0M449.9 133.9h0M450.0 133.1h0M450.0 133.0h0M450.4 131.8h0M450.7 132.5h0M450.9 132.2h0M450.7 131.9h0M450.9 132.8h0M450.9 132.3h0M451.4 132.0h0M451.6 134.3h0M451.7 132.5h0M451.8 132.7h0M451.8 131.4h0M451.7 131.7h0M452.3 132.9h0M451.9 133.0h0M452.1 132.6h0M452.7 134.7h0M452.7 136.0h0M453.0 133.6h0M453.1 135.7h0M452.9 134.7h0M453.1 133.3h0M453.5 133.8h0M453.2 132.3h0M453.6 131.9h0M454.0 132.1h0M454.0 134.5h0M454.1 133.8h0M454.4 133.8h0M454.2 137.1h0M454.4 135.2h0M454.9 136.2h0M455.0 137.9h0M454.9 135.9h0M454.9 136.8h0M455.0 138.1h0M455.4 138.9h0M455.7 139.1h0M455.5 139.6h0M455.9 138.0h0M456.1 137.8h0M456.1 137.1h0M456.5 138.4h0M456.5 137.3h0M456.3 139.0h0M456.8 140.2h0M456.5 139.7h0M457.2 139.8h0M456.9 141.8h0M457.4 139.8h0M457.4 140.5h0M457.3 143.1h0M457.4 141.8h0M457.6 139.7h0M457.8 139.1h0M457.9 141.2h0M458.2 139.1h0M458.1 139.8h0M458.3 136.8h0M458.7 138.9h0M458.7 138.3h0M459.0 138.8h0M459.3 137.9h0M459.5 137.2h0M459.2 134.3h0M459.7 134.4h0M459.7 130.9h0M459.8 129.9h0M459.7 130.0h0M460.0 130.1h0M460.5 128.1h0M460.2 129.1h0M460.4 128.7h0M460.4 130.6h0M460.7 132.3h0M461.2 129.5h0M461.3 130.6h0M461.3 131.4h0M461.3 130.9h0M461.5 133.1h0M461.5 133.1h0M461.8 131.7h0M462.0 132.0h0M462.1 133.0h0M462.4 132.1h0M462.4 130.7h0M462.2 130.8h0M462.8 132.4h0M462.6 130.3h0M463.2 129.9h0M462.8 130.0h0M463.0 128.6h0M463.2 129.9h0M463.7 131.1h0M463.9 129.7h0M463.5 132.8h0M463.7 131.4h0M463.9 133.5h0M464.2 131.0h0M464.5 131.4h0M464.4 132.0h0M464.6 131.4h0M464.9 129.5h0M464.7 130.0h0M465.2 132.1h0M465.3 130.7h0M465.6 130.9h0M465.7 131.0h0M465.4 130.8h0M466.0 130.5h0M465.7 132.4h0M466.0 131.4h0M466.0 130.6h0M466.5 129.4h0M466.3 130.2h0M466.7 128.7h0M467.0 130.2h0M467.2 131.6h0M467.0 131.6h0M467.4 131.1h0M467.3 130.5h0M467.2 131.5h0M467.4 131.4h0M467.9 131.0h0M467.8 131.2h0M467.9 129.4h0M468.0 130.0h0M468.3 130.8h0M468.8 130.5h0M468.8 131.1h0M468.6 132.3h0M469.2 130.5h0M469.1 130.1h0M469.2 132.0h0M469.4 129.5h0M469.4 130.2h0M469.5 128.7h0M469.7 130.0h0M469.9 128.5h0M470.3 130.3h0M470.2 130.2h0M470.4 130.6h0M470.4 130.2h0M470.5 129.9h0M470.6 130.7h0M470.8 130.5h0M471.3 130.2h0M471.3 131.6h0M471.5 131.6h0M471.4 132.5h0M471.9 130.7h0M471.5 133.9h0M472.1 132.5h0M471.8 130.7h0M472.2 132.1h0M472.6 132.1h0M472.6 131.7h0M472.8 131.5h0M472.8 130.5h0M473.2 128.4h0M473.1 128.7h0M473.1 129.0h0M473.6 129.9h0M473.4 130.1h0M473.5 132.7h0M473.5 132.7h0M474.1 132.3h0M474.0 133.0h0M474.4 134.0h0M474.1 131.4h0M474.5 130.4h0M474.8 131.0h0M475.0 132.1h0M474.9 131.8h0M475.0 130.4h0M475.0 133.3h0M475.2 133.6h0M475.5 131.1h0M475.7 131.7h0M475.6 132.6h0M476.1 131.9h0M476.0 133.0h0M476.4 133.9h0M476.3 133.5h0M476.4 131.6h0M476.8 133.8h0M476.5 133.0h0M476.9 134.2h0M477.3 132.8h0M477.2 134.3h0M477.4 134.1h0M477.6 131.4h0M477.6 131.7h0M477.7 131.9h0M478.2 133.1h0M478.0 135.3h0M478.3 136.4h0M478.2 134.4h0M478.7 134.4h0M478.5 133.7h0M478.9 133.6h0M478.9 133.3h0M478.9 134.1h0M479.0 133.2h0M479.2 131.2h0M479.8 131.5h0M479.9 133.0h0M479.7 131.2h0M479.7 132.0h0M479.9 134.3h0M479.9 133.3h0M480.5 134.7h0M480.5 135.9h0M480.9 135.7h0M480.8 135.4h0M480.8 133.3h0M480.9 133.1h0M481.0 134.1h0M481.1 134.1h0M481.6 134.2h0M481.8 133.1h0M482.0 133.1h0M482.1 132.1h0M482.0 133.8h0M482.2 131.9h0M482.2 130.5h0M482.6 131.7h0M482.5 133.2h0M482.8 132.7h0M482.8 130.9h0M483.4 131.0h0M483.1 130.5h0M483.5 130.3h0M483.5 132.6h0M483.4 131.6h0M483.6 132.3h0M484.2 133.1h0M483.9 133.6h0M484.4 131.4h0M484.7 132.8h0M484.8 133.6h0M484.8 134.8h0M484.9 134.6h0M485.2 131.8h0M484.9 133.7h0M485.2 132.2h0M485.4 131.6h0M485.7 134.3h0M485.7 133.2h0M486.0 133.2h0M486.2 134.5h0M485.9 134.3h0M486.1 135.8h0M486.1 135.6h0M486.2 136.6h0M486.7 134.4h0M487.1 135.4h0M486.8 134.8h0M486.8 134.2h0M487.1 136.5h0M487.5 135.9h0M487.3 135.6h0M487.7 136.5h0M487.6 135.3h0M488.0 136.5h0M488.2 135.6h0M488.2 137.4h0M488.1 136.0h0M488.2 135.2h0M488.4 134.8h0M488.6 134.5h0M488.9 135.6h0M489.2 134.2h0M489.5 133.5h0M489.4 132.5h0M489.8 134.7h0M489.9 134.3h0M489.8 134.8h0M489.9 134.8h0M489.8 135.4h0M490.2 135.1h0M490.5 136.1h0M490.4 133.3h0M490.4 134.3h0M490.8 135.9h0M490.7 133.4h0M490.9 132.0h0M491.0 134.4h0M491.1 132.0h0M491.4 132.3h0M491.4 130.6h0M491.7 131.5h0M491.8 132.0h0M492.3 129.2h0M492.0 130.5h0M492.1 131.5h0M492.6 130.8h0M492.6 131.4h0M492.9 133.1h0M493.0 132.9h0M493.0 134.2h0M493.3 132.6h0M493.6 132.2h0M493.4 133.3h0M493.9 131.9h0M493.8 129.9h0M493.8 129.4h0M494.1 129.6h0M494.0 129.8h0M494.6 132.2h0M494.3 132.4h0M494.4 132.8h0M495.1 132.5h0M495.1 132.4h0M494.9 131.8h0M495.0 132.9h0M495.3 132.8h0M495.7 129.7h0M495.6 131.4h0M495.6 131.2h0M496.0 128.5h0M496.1 128.9h0M496.1 129.0h0M496.2 131.1h0M496.2 128.9h0M496.4 130.3h0M496.9 132.4h0M497.0 130.5h0M497.2 132.6h0M497.0 131.0h0M497.2 133.0h0M497.7 130.6h0M497.9 130.5h0M497.7 129.7h0M498.0 129.4h0M498.0 129.0h0M498.2 129.5h0M498.5 131.1h0M498.6 131.4h0M498.7 131.3h0M498.8 130.9h0M498.9 129.1h0M499.1 130.2h0M499.1 131.0h0M499.1 131.1h0M499.5 130.9h0M499.8 131.0h0M500.0 132.8h0M499.8 131.9h0M499.9 132.0h0M500.5 133.2h0M500.5 134.8h0M500.5 134.1h0M500.6 132.6h0M500.9 133.7h0M500.9 133.7h0M501.4 131.8h0M501.1 133.2h0M501.5 132.4h0M501.3 133.9h0M501.7 132.2h0M502.1 134.3h0M502.0 133.3h0M501.8 133.3h0M502.2 131.5h0M502.5 134.1h0M502.6 134.5h0M502.8 135.2h0M502.8 135.7h0M502.9 135.2h0M503.3 137.6h0M503.0 135.9h0M503.6 137.1h0M503.3 135.7h0M503.4 135.3h0M504.1 136.5h0M503.8 133.2h0M503.9 133.4h0M504.4 133.7h0M504.2 134.8h0M504.6 133.2h0M504.4 135.6h0M504.6 134.5h0M505.2 136.4h0M505.3 136.6h0M505.1 135.0h0M505.1 138.2h0M505.6 136.4h0M505.8 135.9h0M505.8 134.0h0M506.1 134.3h0M506.3 134.4h0M506.5 134.5h0M506.2 134.3h0M506.7 135.2h0M506.9 135.8h0M506.7 134.4h0M506.7 132.9h0M507.2 134.1h0M507.1 135.0h0M507.5 132.1h0M507.3 131.9h0M507.4 133.7h0M508.0 134.2h0M508.0 134.1h0M508.0 133.7h0M508.2 130.8h0M508.3 130.6h0M508.6 132.2h0M508.9 128.7h0M508.7 129.2h0M509.1 130.7h0M509.3 129.8h0M509.5 131.8h0M509.5 131.6h0M509.4 133.8h0M509.9 133.1h0M509.9 133.7h0M510.0 132.2h0M510.1 134.0h0M510.3 132.8h0M510.6 130.7h0M510.4 131.6h0M510.6 130.4h0M510.8 132.3h0M511.0 132.9h0M511.3 132.5h0M511.3 133.9h0M511.3 132.8h0M511.6 134.1h0M511.9 131.8h0M511.9 133.8h0M512.2 132.2h0M512.3 131.6h0M512.3 134.1h0M512.3 133.2h0M512.8 132.0h0M512.5 132.6h0M513.0 132.7h0M512.7 132.5h0M512.9 133.4h0M513.2 132.6h0M513.4 133.6h0M513.6 132.6h0M513.9 134.8h0M513.6 134.4h0M514.0 135.0h0M513.8 132.6h0M514.2 135.6h0M514.4 132.6h0M514.4 132.7h0M514.7 135.3h0M514.6 133.1h0M515.2 131.7h0M514.8 134.3h0M515.3 130.9h0M515.3 131.0h0M515.3 133.3h0M515.7 135.0h0M515.6 134.4h0M515.7 134.6h0M515.9 135.4h0M515.9 134.3h0M516.5 133.7h0M516.8 135.4h0M516.7 132.9h0M516.9 131.8h0M516.8 131.6h0M516.8 133.6h0M517.4 131.5h0M517.4 133.0h0M517.5 132.5h0M517.5 134.8h0M517.9 132.4h0M518.0 134.0h0M518.3 134.3h0M518.2 131.2h0M518.6 132.5h0M518.5 131.5h0M518.8 131.4h0M519.1 131.4h0M519.0 132.0h0M519.0 134.1h0M518.9 135.3h0M519.7 135.3h0M519.3 134.9h0M519.4 135.4h0M519.9 133.6h0M519.9 134.5h0M520.0 134.2h0M520.3 131.7h0M520.6 134.0h0M520.2 130.9h0M520.7 130.7h0M520.8 133.6h0M521.2 133.3h0M520.9 131.5h0M520.9 133.2h0M521.5 133.2h0M521.7 133.0h0M521.5 131.9h0M521.8 134.7h0M522.0 135.8h0M522.2 136.0h0M522.4 135.6h0M522.2 137.9h0M522.6 136.9h0M522.4 134.6h0M523.0 135.9h0M523.1 136.1h0M522.9 134.5h0M523.1 132.2h0M523.3 132.5h0M523.3 133.3h0M523.7 132.3h0M523.8 136.1h0M523.6 136.3h0M524.4 136.5h0M524.1 136.0h0M524.4 135.4h0M524.6 136.5h0M524.5 137.4h0M524.7 135.0h0M525.1 134.1h0M524.8 137.0h0M525.2 137.3h0M525.6 137.6h0M525.5 135.8h0M525.9 138.4h0M525.6 136.1h0M526.2 139.0h0M526.2 136.1h0M526.2 138.7h0M526.4 136.7h0M526.2 137.3h0M526.4 136.6h0M527.0 138.0h0M527.2 137.4h0M527.3 136.2h0M527.0 137.2h0M527.5 138.6h0M527.7 136.4h0M527.4 136.4h0M527.8 136.5h0M528.2 136.9h0M527.8 137.6h0M528.1 136.0h0M528.6 137.8h0M528.7 140.3h0M528.9 138.8h0M528.7 138.1h0M529.1 140.5h0M529.2 140.1h0M529.3 140.4h0M529.4 138.8h0M529.2 137.2h0M529.8 136.3h0M529.7 135.8h0M530.1 136.0h0M530.2 136.1h0M529.9 137.0h0M530.3 138.0h0M530.7 140.2h0M530.4 138.0h0M530.8 139.1h0M530.7 138.8h0M531.1 139.2h0M531.4 138.1h0M531.1 139.3h0M531.7 138.7h0M531.7 137.6h0M531.8 140.8h0M531.7 140.0h0M531.8 140.1h0M532.1 141.4h0M532.6 140.9h0M532.5 141.8h0M532.5 140.8h0M532.7 141.2h0M533.0 140.3h0M532.8 141.1h0M533.0 141.2h0M533.4 140.4h0M533.3 140.8h0M533.9 140.3h0M533.5 141.4h0M533.9 142.6h0M533.9 141.3h0M534.3 142.8h0M534.2 141.8h0M534.5 142.9h0M534.7 144.0h0M535.0 143.9h0M534.9 142.0h0M534.9 142.8h0M535.0 142.7h0M535.1 143.2h0M535.4 146.4h0M535.8 144.6h0M535.7 145.9h0M535.7 146.7h0M536.3 144.7h0M536.0 145.9h0M536.2 145.1h0M536.8 144.8h0M536.7 146.7h0M537.0 145.0h0M536.6 146.3h0M537.2 145.1h0M536.9 147.2h0M537.5 145.6h0M537.4 146.5h0M537.7 146.6h0M538.0 146.8h0M537.9 146.4h0M538.0 148.8h0M538.0 148.8h0M538.5 149.1h0M538.6 152.9h0M538.5 150.7h0M538.9 153.0h0M539.1 153.8h0M539.3 153.2h0M539.0 149.9h0M539.1 150.9h0M539.4 149.8h0M539.4 150.4h0M540.0 150.1h0M540.0 150.5h0M540.2 151.8h0M540.2 152.3h0M540.1 153.1h0M540.5 154.0h0M540.4 152.6h0M540.8 156.1h0M540.9 153.8h0M541.0 157.2h0M541.4 155.6h0M541.1 157.4h0M541.6 156.6h0M541.4 155.6h0M542.0 155.7h0M541.8 157.2h0M541.8 157.6h0M542.4 158.6h0M542.4 158.2h0M542.5 160.8h0M543.4 162.8h0M543.5 161.8h0M543.5 163.2h0M457.3 146.0h0M457.6 149.0h0M457.1 234.5h0M458.2 241.0h0M457.1 390.0h0M457.6 391.5h0M367.2 170.0h0M361.8 176.4h0M432.7 247.0h0M541.4 266.9h0M542.8 201.5h0M542.5 190.5h0M543.2 243.5h0M542.0 315.6h0M542.4 187.4h0M541.3 289.5h0M541.5 258.8h0M542.8 227.3h0M541.4 346.4h0M542.3 232.2h0M543.2 350.4h0M541.5 321.2h0M542.7 313.3h0M542.1 170.9h0M541.6 264.4h0M550.0 296.9h0M550.3 282.5h0M549.8 228.0h0M550.4 333.9h0M550.2 289.4h0M550.3 384.3h0M550.2 261.3h0M549.7 171.8h0M549.6 243.9h0M550.5 335.8h0M550.5 329.2h0M550.8 332.9h0M550.1 356.1h0M549.6 182.4h0M549.7 238.9h0M550.4 370.1h0M550.3 163.5h0M550.0 166.5h0M550.4 171.0h0M550.1 176.0h0M550.5 181.0h0M550.1 187.0h0M580.7 321.0h0M580.7 337.6h0M581.3 373.0h0M581.1 384.0h0M587.7 343.0h0M587.8 346.0h0M587.2 361.0h0M588.1 377.0h0M587.7 249.0h0M619.1 378.3h0M616.5 390.0h0M618.4 389.6h0M615.4 378.2h0M621.7 390.7h0M617.8 384.6h0M618.2 381.8h0M617.3 375.2h0M618.0 375.9h0M620.5 380.2h0M615.7 384.4h0M617.7 378.4h0M621.4 386.8h0M618.6 386.7h0M615.2 390.7h0M615.2 386.9h0M620.4 381.5h0M614.6 380.6h0M616.9 359.4h0M620.4 388.7h0M615.5 365.7h0M618.5 358.9h0M614.0 388.0h0M618.2 368.3h0M614.1 386.6h0M618.2 373.1h0M620.4 380.0h0M619.9 388.0h0M617.4 369.3h0M614.6 382.5h0M617.9 359.0h0M620.9 381.7h0M618.5 364.3h0M615.5 366.8h0M618.1 388.3h0M618.3 387.1h0M616.7 384.6h0M617.2 380.6h0M619.0 384.6h0M619.2 386.6h0M618.2 367.5h0M617.7 386.0h0M618.5 378.6h0M619.2 375.9h0M618.7 375.9h0M614.6 382.9h0M615.8 364.2h0M615.9 362.7h0M616.5 363.9h0M616.9 390.4h0M617.7 386.3h0M615.6 373.5h0M619.7 369.2h0M615.7 376.6h0M618.3 379.6h0M620.1 380.1h0M620.0 379.9h0M617.2 383.2h0M615.1 378.9h0M619.2 388.5h0M619.5 370.8h0M619.4 387.6h0M617.7 386.7h0M621.0 383.1h0M620.5 375.9h0M619.0 375.5h0M614.0 390.0h0M620.5 387.1h0M617.0 383.3h0M619.4 374.8h0M618.1 362.6h0M619.7 388.3h0M615.1 377.6h0M616.1 362.1h0M616.9 385.7h0M619.0 375.1h0M618.4 387.8h0M616.2 369.8h0M615.7 360.6h0M615.1 389.8h0M614.8 387.3h0M620.9 389.6h0M617.1 384.7h0M616.9 385.5h0M619.4 384.3h0M616.8 379.6h0M617.7 391.0h0M618.8 357.9h0M620.0 370.4h0M617.2 388.2h0M617.6 385.5h0M615.3 384.9h0M618.1 383.1h0M615.4 374.4h0M620.8 380.5h0M619.9 388.2h0M617.2 388.5h0M616.6 364.5h0M617.7 329.0h0M617.7 347.0h0M617.5 349.0h0M642.7 332.5h0M641.7 357.7h0M641.8 344.8h0M642.5 385.5h0M642.1 333.2h0M642.5 341.3h0M641.8 347.5h0M641.9 344.0h0M641.9 346.0h0M641.7 333.2h0M641.9 362.7h0M641.9 340.2h0M642.0 358.6h0M643.0 346.0h0M641.9 357.5h0M642.7 351.8h0M641.4 339.3h0M642.6 363.7h0M642.7 346.1h0M642.1 317.6h0M641.9 322.0h0M641.9 331.0h0M642.1 336.0h0M642.1 341.0h0" stroke="#ff0000" stroke-width="3.1" stroke-linecap="round" fill="none"/>
<path d="M76.35 19.25H796.00V394.30H76.35ZM76.35 394.30h21.00M76.35 380.91h10.70M76.35 367.51h10.70M76.35 354.12h10.70M76.35 340.72h21.00M76.35 327.33h10.70M76.35 313.93h10.70M76.35 300.54h10.70M76.35 287.14h21.00M76.35 273.75h10.70M76.35 260.35h10.70M76.35 246.96h10.70M76.35 233.56h21.00M76.35 220.17h10.70M76.35 206.77h10.70M76.35 193.38h10.70M76.35 179.99h21.00M76.35 166.59h10.70M76.35 153.20h10.70M76.35 139.80h10.70M76.35 126.41h21.00M76.35 113.01h10.70M76.35 99.62h10.70M76.35 86.22h10.70M76.35 72.83h21.00M76.35 59.43h10.70M76.35 46.04h10.70M76.35 32.64h10.70M76.35 19.25h21.00M76.35 394.30v-5.80M102.05 394.30v-5.80M127.75 394.30v-11.50M153.46 394.30v-5.80M179.16 394.30v-5.80M204.86 394.30v-5.80M230.56 394.30v-11.50M256.26 394.30v-5.80M281.96 394.30v-5.80M307.67 394.30v-5.80M333.37 394.30v-11.50M359.07 394.30v-5.80M384.77 394.30v-5.80M410.47 394.30v-5.80M436.17 394.30v-11.50M461.88 394.30v-5.80M487.58 394.30v-5.80M513.28 394.30v-5.80M538.98 394.30v-11.50M564.68 394.30v-5.80M590.39 394.30v-5.80M616.09 394.30v-5.80M641.79 394.30v-11.50M667.49 394.30v-5.80M693.19 394.30v-5.80M718.89 394.30v-5.80M744.60 394.30v-11.50M770.30 394.30v-5.80M796.00 394.30v-5.80" stroke="#000" stroke-width="1.25" fill="none"/>
<g font-family="'Liberation Sans',Arial,Helvetica,sans-serif" font-weight="bold" font-size="16" fill="#000">
<text x="71.3" y="402.1" text-anchor="end">0</text>
<text x="71.3" y="347.9" text-anchor="end">0.2</text>
<text x="71.3" y="294.3" text-anchor="end">0.4</text>
<text x="71.3" y="240.8" text-anchor="end">0.6</text>
<text x="71.3" y="187.2" text-anchor="end">0.8</text>
<text x="71.3" y="133.6" text-anchor="end">1</text>
<text x="71.3" y="80.0" text-anchor="end">1.2</text>
<text x="71.3" y="26.4" text-anchor="end">1.4</text>
<text x="127.8" y="410.2" text-anchor="middle">06:00</text>
<text x="230.6" y="410.2" text-anchor="middle">08:00</text>
<text x="333.4" y="410.2" text-anchor="middle">10:00</text>
<text x="436.2" y="410.2" text-anchor="middle">12:00</text>
<text x="539.0" y="410.2" text-anchor="middle">14:00</text>
<text x="641.8" y="410.2" text-anchor="middle">16:00</text>
<text x="744.6" y="410.2" text-anchor="middle">18:00</text>
<text x="399.6" y="427.6">Time (JST)</text>
<text x="796.2" y="428" font-size="16.25" text-anchor="end">2009-03-10</text>
<text transform="translate(15.6,131) rotate(-90)" font-size="16.3" letter-spacing="0.3">Intensity (a.u.)</text>
<rect x="176.9" y="10.0" width="14.6" height="2.5" fill="#0000ff"/>
<text x="197.8" y="15.3" font-size="16.4" fill="#0000ff">368nm</text>
<rect x="321.0" y="10.0" width="14.6" height="2.5" fill="#00ff00"/>
<text x="341.9" y="15.3" font-size="16.4" fill="#00ff00">500nm</text>
<rect x="465.1" y="10.0" width="14.6" height="2.5" fill="#ff00ff"/>
<text x="486.0" y="15.3" font-size="16.4" fill="#ff00ff">675nm</text>
<rect x="609.2" y="10.0" width="14.6" height="2.5" fill="#ff0000"/>
<text x="630.1" y="15.3" font-size="16.4" fill="#ff0000">778nm</text>
</g></svg>
</body></html>
